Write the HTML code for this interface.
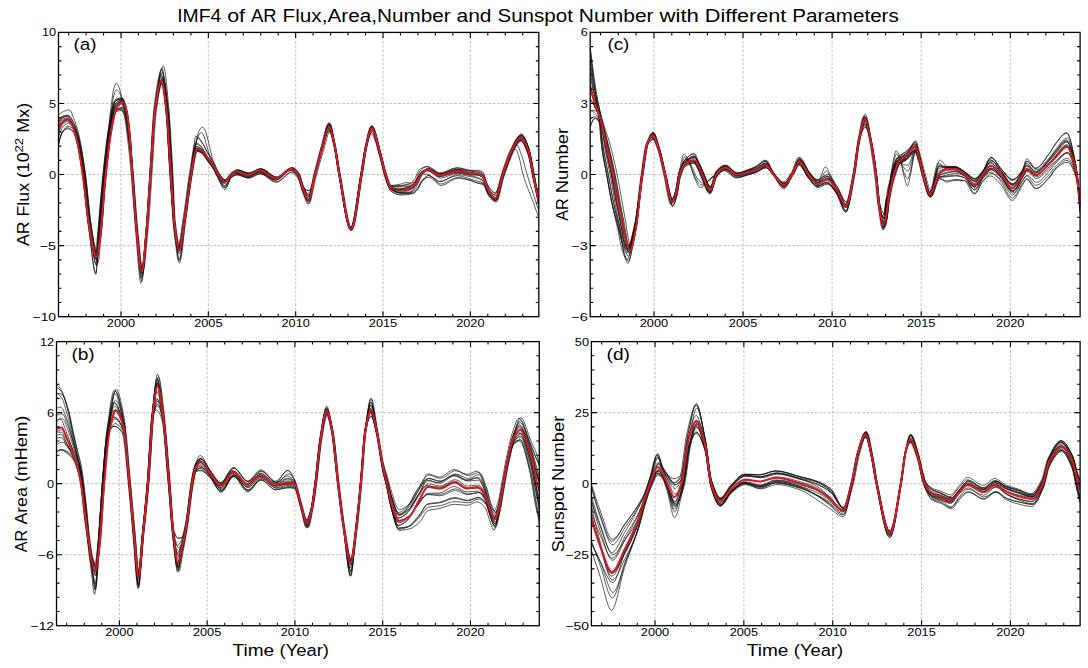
<!DOCTYPE html>
<html><head><meta charset="utf-8"><style>
html,body{margin:0;padding:0;background:#fff;overflow:hidden;width:1088px;height:668px;}
svg{display:block;}
text{font-family:"Liberation Sans",sans-serif;fill:#000;}
</style></head><body>
<svg width="1088" height="668" viewBox="0 0 1088 668">
<rect width="1088" height="668" fill="#fff"/>
<path d="M121.03 32.40V316.70M208.35 32.40V316.70M295.68 32.40V316.70M383.01 32.40V316.70M470.34 32.40V316.70M58.50 245.62H538.80M58.50 174.55H538.80M58.50 103.47H538.80" stroke="#b4b4b4" stroke-width="0.85" stroke-dasharray="2.6,1.7" fill="none"/>
<clipPath id="ca"><rect x="58.5" y="32.4" width="480.29999999999995" height="284.3"/></clipPath>
<g clip-path="url(#ca)" fill="none" stroke-linejoin="round">
<path d="M58.5 133.1C59.8 129.5 61.2 126.2 62.5 124.8C64.2 123.1 65.8 121.4 67.5 121.4C69.4 121.4 71.3 124.4 73.2 127.6C75.0 130.4 76.7 137.5 78.5 145.0C80.2 152.3 81.9 163.5 83.6 175.8C85.4 189.3 87.3 214.1 89.2 226.4C91.7 243.3 94.3 265.2 96.9 265.2C97.4 265.2 97.9 246.9 98.5 239.4C100.3 214.2 102.1 193.8 103.9 176.2C105.6 159.1 107.4 141.8 109.1 132.1C110.8 122.9 112.5 112.8 114.2 111.3C116.4 109.3 118.6 108.1 120.8 108.1C122.1 108.1 123.5 111.7 124.8 115.6C126.0 119.1 127.2 128.7 128.4 137.2C129.8 147.2 131.2 160.1 132.6 174.6C134.0 189.9 135.5 214.6 137.0 229.5C138.8 247.4 140.6 274.1 142.3 274.1C143.9 274.1 145.5 247.9 147.1 229.5C148.3 215.1 149.6 192.6 150.8 174.3C152.3 152.9 153.7 121.0 155.2 110.5C157.3 94.9 159.5 80.8 161.7 80.8C163.2 80.8 164.8 95.9 166.3 110.1C167.7 122.3 169.0 154.8 170.4 174.1C171.7 192.6 172.9 214.4 174.2 224.7C175.8 237.2 177.3 251.1 178.8 251.1C180.9 251.1 182.9 231.4 185.0 219.2C187.0 206.9 189.1 188.7 191.1 176.2C192.7 166.6 194.2 150.5 195.8 150.5C197.6 150.5 199.4 151.3 201.3 152.2C203.1 153.2 205.0 156.9 206.8 159.5C209.0 162.4 211.1 165.0 213.3 168.6C214.8 171.1 216.3 174.9 217.8 177.4C220.0 181.0 222.2 186.6 224.3 186.6C226.5 186.6 228.6 178.0 230.8 176.2C232.7 174.7 234.7 173.0 236.6 173.0C240.2 173.0 243.8 176.3 247.5 176.3C251.4 176.3 255.3 171.9 259.2 171.9C264.6 171.9 270.0 179.9 275.4 179.9C280.6 179.9 285.7 169.9 290.9 169.9C293.2 169.9 295.4 172.4 297.7 175.3C299.5 177.6 301.3 186.4 303.1 190.4C304.9 194.2 306.6 200.0 308.4 200.0C310.5 200.0 312.6 183.0 314.8 175.0C317.1 166.1 319.5 157.3 321.8 149.5C324.1 141.8 326.5 128.1 328.8 128.1C330.5 128.1 332.2 138.0 333.9 145.4C335.5 152.3 337.2 165.6 338.8 174.1C342.6 194.8 346.5 228.4 350.4 228.4C353.9 228.4 357.3 193.0 360.8 173.9C362.4 165.0 364.0 152.4 365.7 145.9C367.5 138.5 369.3 129.1 371.1 129.1C374.1 129.1 377.1 145.8 380.0 155.9C381.8 161.7 383.5 170.5 385.2 175.5C387.0 180.9 388.9 187.6 390.7 188.5C393.7 190.1 396.7 191.0 399.7 191.0C401.7 191.0 403.7 190.3 405.7 189.9C407.7 189.4 409.8 189.1 411.8 188.2C413.2 187.5 414.6 185.5 416.0 183.5C417.3 181.6 418.6 177.4 419.9 175.8C421.3 174.0 422.7 172.6 424.1 172.0C425.4 171.5 426.8 171.0 428.1 171.0C430.0 171.0 431.8 172.9 433.6 174.0C435.8 175.3 438.0 178.2 440.2 178.2C446.0 178.2 451.9 173.2 457.8 173.2C462.2 173.2 466.6 174.6 471.0 175.7C473.5 176.2 475.9 176.8 478.4 177.8C480.0 178.4 481.6 179.2 483.2 180.7C485.2 182.6 487.2 191.5 489.2 194.1C491.6 197.1 493.9 200.5 496.3 200.5C498.7 200.5 501.1 183.8 503.6 176.4C506.4 167.7 509.3 157.6 512.2 152.2C515.3 146.4 518.5 139.1 521.6 139.1C524.1 139.1 526.5 145.8 529.0 152.8C530.5 157.1 532.1 168.4 533.6 176.3C535.3 185.3 537.1 194.5 538.8 203.8" stroke="#141414" stroke-width="0.7"/>
<path d="M58.5 145.3C59.7 139.9 60.9 134.5 62.1 132.9C63.9 130.6 65.6 128.8 67.4 128.8C69.3 128.8 71.2 130.2 73.2 132.1C74.9 133.7 76.6 141.3 78.4 148.5C80.0 155.4 81.7 166.2 83.4 178.1C85.2 191.3 87.0 213.9 88.9 228.1C91.2 246.0 93.5 274.3 95.8 274.3C96.7 274.3 97.5 251.5 98.4 241.1C100.3 218.3 102.2 195.3 104.1 177.8C105.9 160.5 107.8 143.3 109.7 133.4C111.5 124.0 113.2 113.0 115.0 112.2C117.3 111.1 119.5 110.5 121.8 110.5C123.1 110.5 124.5 112.4 125.8 115.0C126.9 117.2 128.1 127.2 129.2 136.7C130.2 145.4 131.3 161.1 132.3 174.1C133.7 191.8 135.1 214.1 136.6 230.0C138.3 249.7 140.1 281.0 141.8 281.0C143.4 281.0 145.1 249.2 146.7 229.8C148.1 213.8 149.4 192.6 150.8 174.4C152.3 153.1 153.9 121.5 155.5 111.6C158.0 95.8 160.5 82.1 163.1 82.1C164.8 82.1 166.5 97.8 168.1 112.9C169.5 124.9 170.9 154.8 172.2 177.4C173.2 193.5 174.1 217.4 175.1 228.1C176.6 244.6 178.0 262.9 179.5 262.9C181.5 262.9 183.5 235.7 185.4 221.7C187.5 207.5 189.5 189.9 191.5 178.3C193.4 167.7 195.2 151.6 197.1 151.6C198.9 151.6 200.8 152.6 202.6 153.7C204.3 154.7 205.9 158.3 207.6 160.5C209.8 163.4 212.0 165.6 214.2 169.0C215.8 171.4 217.3 175.1 218.9 177.8C221.0 181.5 223.2 187.7 225.4 187.7C227.5 187.7 229.6 178.9 231.7 177.3C233.6 176.0 235.4 174.6 237.3 174.6C240.8 174.6 244.4 177.8 248.0 177.8C251.8 177.8 255.7 172.8 259.6 172.8C264.9 172.8 270.3 180.3 275.6 180.3C280.8 180.3 285.9 170.5 291.0 170.5C293.2 170.5 295.4 173.5 297.6 176.8C299.4 179.4 301.2 188.7 303.0 193.1C304.7 197.4 306.5 204.0 308.2 204.0C310.4 204.0 312.5 186.0 314.7 177.7C317.1 168.5 319.5 159.0 321.9 151.4C324.2 143.9 326.6 131.4 329.0 131.4C330.7 131.4 332.4 138.8 334.2 145.3C335.8 151.4 337.4 166.3 339.0 175.1C342.9 196.1 346.7 229.6 350.6 229.6C354.1 229.6 357.5 194.2 361.0 174.7C362.6 165.6 364.2 151.3 365.8 146.1C367.6 140.1 369.5 134.0 371.3 134.0C374.3 134.0 377.3 148.8 380.3 158.4C382.0 164.2 383.8 173.9 385.6 178.8C387.5 184.1 389.4 189.8 391.3 191.2C394.4 193.4 397.6 195.0 400.7 195.0C402.8 195.0 404.9 194.8 407.0 194.7C409.1 194.6 411.2 194.0 413.2 193.2C414.9 192.6 416.6 190.3 418.3 188.0C419.7 186.2 421.2 181.8 422.6 180.4C423.9 179.1 425.2 177.9 426.6 177.7C427.4 177.5 428.3 177.4 429.2 177.4C430.9 177.4 432.6 179.6 434.4 180.8C436.5 182.2 438.6 185.5 440.7 185.5C446.6 185.5 452.4 178.2 458.2 178.2C462.6 178.2 466.9 179.7 471.3 180.9C473.7 181.5 476.2 182.6 478.6 183.3C480.2 183.9 481.7 184.0 483.3 184.8C485.3 185.8 487.3 194.5 489.3 196.8C491.6 199.3 494.0 202.1 496.3 202.1C498.7 202.1 501.1 185.5 503.5 178.1C506.3 169.3 509.2 159.0 512.0 153.7C515.2 147.9 518.3 141.0 521.4 141.0C523.9 141.0 526.3 147.8 528.8 154.7C530.3 159.1 531.9 169.9 533.4 177.8C535.2 186.9 537.0 196.2 538.8 205.7" stroke="#141414" stroke-width="0.7"/>
<path d="M58.5 130.1C60.0 127.0 61.6 124.2 63.1 122.8C64.9 121.3 66.7 119.7 68.4 119.7C70.4 119.7 72.4 123.2 74.4 126.6C76.2 129.6 78.0 136.3 79.8 143.9C81.5 151.0 83.2 162.3 84.9 174.6C86.8 188.0 88.7 212.1 90.5 225.0C92.6 239.4 94.7 259.8 96.8 259.8C97.8 259.8 98.8 247.1 99.9 238.4C101.7 222.8 103.5 192.6 105.3 175.1C107.1 157.9 108.9 140.9 110.7 131.0C112.4 121.5 114.1 111.9 115.8 109.4C118.0 106.2 120.3 103.7 122.5 103.7C123.8 103.7 125.1 108.8 126.5 113.8C127.6 118.0 128.7 125.8 129.8 136.8C130.7 144.7 131.5 163.8 132.3 175.7C133.7 195.7 135.0 216.3 136.4 230.5C138.1 248.0 139.8 273.0 141.5 273.0C143.0 273.0 144.6 247.4 146.1 229.5C147.4 215.0 148.6 192.1 149.9 173.8C151.4 151.9 152.9 118.8 154.4 109.4C157.0 93.0 159.6 80.0 162.3 80.0C164.0 80.0 165.7 95.2 167.4 110.1C168.8 122.0 170.2 149.8 171.6 174.9C172.4 189.5 173.2 217.8 174.0 225.5C175.5 240.1 177.0 251.8 178.5 251.8C180.5 251.8 182.5 231.0 184.5 218.5C186.6 205.8 188.6 185.6 190.7 175.1C192.8 164.3 194.8 149.7 196.9 149.7C198.8 149.7 200.7 150.5 202.6 151.5C204.0 152.3 205.5 156.4 206.9 158.5C209.1 161.7 211.3 163.9 213.5 167.2C215.0 169.5 216.6 173.1 218.1 175.3C220.3 178.3 222.5 182.7 224.7 182.7C226.9 182.7 229.0 176.6 231.2 175.1C233.1 173.8 235.1 172.2 237.0 172.2C240.7 172.2 244.3 175.5 247.9 175.5C251.9 175.5 255.8 170.7 259.7 170.7C265.0 170.7 270.4 178.5 275.8 178.5C280.9 178.5 286.0 168.7 291.1 168.7C293.3 168.7 295.5 171.5 297.7 174.6C299.5 177.1 301.3 186.3 303.1 190.2C304.9 194.2 306.6 199.8 308.4 199.8C310.6 199.8 312.7 182.7 314.9 174.5C317.3 165.5 319.7 156.3 322.1 148.2C324.5 140.2 326.9 125.9 329.3 125.9C331.0 125.9 332.7 136.4 334.4 144.0C336.0 151.2 337.7 164.7 339.3 173.4C343.2 194.3 347.1 228.1 351.0 228.1C354.5 228.1 357.9 193.0 361.4 173.6C363.0 164.7 364.6 151.9 366.2 145.3C368.1 137.9 369.9 128.3 371.7 128.3C374.6 128.3 377.5 145.1 380.5 155.4C382.2 161.4 383.9 170.4 385.6 175.7C387.3 181.4 389.1 188.5 390.9 189.6C393.9 191.4 396.9 192.5 399.9 192.5C401.9 192.5 403.9 191.9 405.9 191.4C407.9 190.9 409.8 190.2 411.8 189.0C413.6 187.9 415.4 185.8 417.3 183.3C418.7 181.2 420.2 176.6 421.7 174.5C422.9 172.6 424.2 171.1 425.5 170.0C426.1 169.5 426.7 168.7 427.3 168.7C429.0 168.7 430.8 170.7 432.6 171.9C434.8 173.3 437.0 176.7 439.2 176.7C445.1 176.7 451.0 172.9 456.9 172.9C461.4 172.9 465.9 174.5 470.3 174.9C472.8 175.1 475.3 175.1 477.8 175.3C479.5 175.5 481.1 176.2 482.7 177.3C484.8 178.7 486.8 188.1 488.8 191.2C491.1 194.7 493.4 199.1 495.7 199.1C498.1 199.1 500.4 183.1 502.8 176.1C505.6 167.7 508.5 158.3 511.3 153.2C514.4 147.5 517.6 140.5 520.7 140.5C523.2 140.5 525.8 147.4 528.3 154.2C529.9 158.5 531.5 169.4 533.1 177.1C535.0 186.0 536.9 194.9 538.8 203.9" stroke="#141414" stroke-width="0.7"/>
<path d="M58.5 115.1C60.3 113.5 62.1 112.1 63.9 111.4C65.5 110.6 67.2 109.8 68.9 109.8C70.8 109.8 72.7 115.9 74.6 120.6C76.4 124.9 78.1 131.2 79.9 139.2C81.5 146.9 83.2 158.7 84.9 171.3C86.8 185.1 88.6 211.3 90.5 222.2C92.6 235.0 94.8 250.0 97.0 250.0C97.9 250.0 98.9 242.2 99.9 235.9C101.7 223.7 103.6 190.2 105.4 171.8C107.3 153.9 109.1 136.1 110.9 124.6C112.6 113.8 114.3 99.3 116.0 98.9C118.1 98.3 120.3 98.0 122.5 98.0C123.7 98.0 125.0 103.6 126.2 109.0C127.3 113.5 128.3 122.1 129.4 133.1C130.3 142.1 131.2 161.9 132.0 174.4C133.5 194.8 134.9 216.0 136.3 229.5C138.1 246.4 139.9 269.0 141.7 269.0C143.3 269.0 145.0 246.2 146.6 229.5C148.0 215.8 149.4 192.9 150.7 174.2C152.3 152.2 153.9 119.8 155.5 107.2C158.2 86.5 160.8 66.1 163.4 66.1C165.2 66.1 166.9 87.6 168.6 105.6C170.0 120.0 171.4 146.7 172.8 171.3C173.6 186.3 174.5 214.4 175.3 221.8C176.8 234.9 178.3 245.3 179.8 245.3C181.8 245.3 183.8 226.5 185.8 214.7C187.8 202.6 189.9 184.2 191.9 171.4C193.9 159.0 195.8 137.7 197.8 137.7C199.6 137.7 201.4 141.4 203.2 144.2C204.7 146.5 206.1 150.7 207.6 153.4C209.7 157.2 211.8 159.6 213.9 163.4C215.4 166.1 216.9 170.4 218.4 172.5C220.6 175.6 222.7 179.5 224.9 179.5C227.1 179.5 229.3 174.1 231.4 172.8C233.4 171.6 235.4 170.2 237.3 170.2C241.0 170.2 244.7 174.0 248.4 174.0C252.3 174.0 256.3 169.8 260.2 169.8C265.6 169.8 271.0 177.9 276.4 177.9C281.6 177.9 286.7 168.1 291.9 168.1C294.1 168.1 296.3 170.8 298.5 173.7C300.3 176.1 302.0 186.7 303.8 188.2C305.6 189.7 307.3 190.8 309.0 190.8C311.2 190.8 313.3 179.6 315.4 172.8C317.8 165.3 320.1 154.9 322.5 146.8C324.8 138.7 327.1 124.0 329.4 124.0C331.1 124.0 332.8 136.6 334.5 144.9C336.1 152.7 337.6 165.4 339.2 174.0C343.1 194.8 347.0 228.2 350.9 228.2C354.4 228.2 357.9 192.7 361.4 173.5C363.1 164.4 364.7 152.2 366.4 145.2C368.2 137.2 370.1 126.2 372.0 126.2C374.9 126.2 377.9 143.4 380.9 153.6C382.6 159.5 384.4 168.1 386.1 173.0C387.9 178.2 389.7 185.5 391.5 185.5C394.4 185.5 397.3 184.7 400.3 184.1C402.2 183.7 404.1 182.6 406.0 182.6C407.9 182.6 409.8 183.1 411.7 183.1C413.4 183.1 415.1 181.2 416.7 179.5C418.2 178.0 419.6 173.4 421.0 172.1C422.3 171.0 423.7 170.5 425.0 169.8C425.7 169.5 426.4 168.9 427.2 168.9C429.0 168.9 430.8 170.4 432.6 171.2C434.9 172.2 437.1 174.1 439.3 174.1C445.2 174.1 451.0 168.2 456.9 168.2C461.3 168.2 465.8 170.3 470.2 170.3C472.6 170.3 475.0 170.3 477.4 170.3C479.0 170.4 480.6 170.8 482.2 171.5C484.2 172.4 486.2 183.2 488.2 185.9C490.6 189.1 492.9 192.5 495.3 192.5C497.8 192.5 500.3 178.4 502.8 171.7C505.7 163.7 508.7 154.2 511.6 148.6C514.8 142.6 518.0 134.7 521.3 134.7C523.8 134.7 526.3 141.7 528.8 148.9C530.4 153.3 531.9 164.6 533.4 172.5C535.2 181.6 537.0 190.8 538.8 199.9" stroke="#141414" stroke-width="0.7"/>
<path d="M58.5 137.3C59.9 132.9 61.4 128.9 62.8 127.2C64.7 125.1 66.6 123.0 68.5 123.0C70.5 123.0 72.6 125.5 74.7 128.2C76.6 130.7 78.5 137.8 80.3 145.4C82.1 152.5 83.9 163.8 85.7 176.2C87.6 189.5 89.5 213.7 91.4 226.8C93.6 241.7 95.7 263.2 97.9 263.2C98.9 263.2 99.8 248.8 100.8 239.7C102.6 222.6 104.4 193.6 106.3 175.9C108.1 158.6 109.9 141.1 111.7 131.3C113.4 122.0 115.1 111.2 116.8 110.4C119.0 109.4 121.2 108.8 123.4 108.8C124.6 108.8 125.9 112.2 127.2 116.1C128.3 119.3 129.4 128.1 130.5 138.5C131.3 146.5 132.2 164.2 133.0 176.1C134.3 195.4 135.7 216.2 137.0 231.0C138.7 249.3 140.4 276.6 142.1 276.6C143.7 276.6 145.2 248.5 146.8 230.0C148.0 214.8 149.3 192.6 150.6 174.5C152.1 152.7 153.6 120.1 155.1 110.4C157.7 93.8 160.3 80.3 162.9 80.3C164.7 80.3 166.4 95.0 168.1 109.5C169.5 121.2 170.9 149.4 172.3 173.9C173.1 188.8 174.0 216.0 174.8 224.7C176.3 239.9 177.7 253.6 179.2 253.6C181.2 253.6 183.1 231.4 185.1 218.6C187.0 205.6 189.0 186.3 191.0 175.5C193.0 164.8 194.9 149.9 196.9 149.9C198.7 149.9 200.5 150.8 202.4 151.9C203.8 152.9 205.3 156.7 206.8 158.8C209.0 161.9 211.2 163.9 213.3 167.4C214.9 169.8 216.4 173.7 217.9 176.5C220.1 180.5 222.3 187.7 224.4 187.7C226.6 187.7 228.8 179.3 231.0 177.8C232.9 176.4 234.9 175.0 236.9 175.0C240.5 175.0 244.2 177.8 247.8 177.8C251.7 177.8 255.6 172.3 259.6 172.3C264.9 172.3 270.3 179.6 275.7 179.6C280.8 179.6 285.9 169.4 291.0 169.4C293.2 169.4 295.4 172.1 297.5 175.1C299.3 177.5 301.0 186.7 302.8 190.8C304.5 195.0 306.3 201.1 308.0 201.1C310.2 201.1 312.3 184.0 314.5 176.0C316.9 167.0 319.3 157.7 321.7 150.2C324.2 142.5 326.6 129.7 329.1 129.7C330.9 129.7 332.7 138.2 334.5 145.0C336.2 151.5 337.9 165.4 339.6 174.2C343.6 194.6 347.6 228.4 351.5 228.4C355.0 228.4 358.6 192.9 362.1 173.8C363.7 164.8 365.4 152.2 367.0 145.8C368.9 138.6 370.7 129.5 372.5 129.5C375.5 129.5 378.4 146.1 381.4 156.3C383.1 162.1 384.8 170.9 386.5 176.1C388.2 181.5 390.0 188.1 391.7 189.4C394.7 191.5 397.6 192.7 400.5 192.8C402.4 192.8 404.4 192.9 406.3 192.9C408.2 192.9 410.2 192.7 412.2 192.4C413.9 192.2 415.7 189.9 417.5 187.8C419.0 186.1 420.5 181.8 422.0 180.2C423.4 178.7 424.8 177.7 426.2 176.8C426.9 176.3 427.6 175.5 428.3 175.5C430.1 175.5 431.9 177.2 433.7 178.1C435.8 179.2 437.9 181.6 440.0 181.6C445.8 181.6 451.6 174.7 457.4 174.7C461.7 174.7 466.0 175.8 470.4 176.6C472.8 177.0 475.1 177.5 477.5 178.3C479.1 178.8 480.7 179.3 482.3 180.5C484.3 182.1 486.3 191.1 488.3 193.8C490.6 197.0 493.0 200.7 495.3 200.7C497.7 200.7 500.1 184.4 502.5 177.1C505.3 168.5 508.2 158.4 511.0 153.0C514.2 147.2 517.3 140.0 520.4 140.0C522.9 140.0 525.4 146.4 527.9 153.0C529.4 157.1 531.0 168.2 532.6 175.4C534.7 184.8 536.7 193.9 538.8 202.6" stroke="#141414" stroke-width="0.7"/>
<path d="M58.5 120.0C60.0 118.6 61.6 117.3 63.1 116.8C64.9 116.3 66.6 115.8 68.4 115.8C70.3 115.8 72.3 120.4 74.2 124.5C75.9 128.1 77.7 134.6 79.4 142.4C81.0 149.7 82.7 161.2 84.3 173.5C86.1 187.1 87.9 213.0 89.7 223.7C91.9 237.0 94.2 252.5 96.4 252.5C97.3 252.5 98.1 242.5 99.0 235.7C100.8 220.4 102.7 189.8 104.6 171.8C106.4 154.0 108.3 136.7 110.1 125.6C111.9 115.0 113.7 101.8 115.5 100.7C117.7 99.4 119.9 98.7 122.2 98.7C123.5 98.7 124.8 103.8 126.2 108.9C127.2 113.0 128.3 122.0 129.4 132.6C130.4 141.9 131.4 160.4 132.3 174.0C133.7 193.0 135.0 216.2 136.4 230.0C138.1 247.3 139.8 270.5 141.5 270.5C143.1 270.5 144.7 247.4 146.3 230.6C147.7 216.7 149.0 193.6 150.3 174.9C151.9 153.0 153.4 120.1 155.0 108.4C157.4 89.7 159.9 72.3 162.4 72.3C164.0 72.3 165.7 91.0 167.3 107.9C168.6 121.3 169.9 150.2 171.2 173.5C172.1 189.4 173.0 216.2 173.9 224.4C175.3 237.6 176.7 249.0 178.2 249.0C180.1 249.0 182.1 229.7 184.0 217.7C186.1 205.4 188.1 186.6 190.1 174.4C192.1 162.8 194.0 144.2 195.9 144.2C197.8 144.2 199.7 145.8 201.6 147.3C203.3 148.7 205.0 152.8 206.7 155.4C208.9 158.8 211.1 161.4 213.3 165.0C214.9 167.6 216.5 171.5 218.1 173.6C220.3 176.5 222.6 180.3 224.8 180.3C227.1 180.3 229.3 174.6 231.6 173.1C233.6 171.7 235.6 170.1 237.6 170.1C241.3 170.1 245.0 173.4 248.8 173.4C252.7 173.4 256.7 168.8 260.6 168.8C266.1 168.8 271.5 177.0 276.9 177.0C282.0 177.0 287.2 167.5 292.3 167.5C294.5 167.5 296.7 170.3 298.9 173.2C300.6 175.6 302.4 185.0 304.2 188.1C305.9 191.2 307.6 194.8 309.4 194.8C311.5 194.8 313.7 180.0 315.8 172.3C318.2 163.8 320.5 154.3 322.9 146.3C325.3 138.4 327.6 124.2 330.0 124.2C331.7 124.2 333.4 135.8 335.1 143.9C336.6 151.6 338.2 165.2 339.8 174.0C343.7 195.4 347.5 229.1 351.4 229.1C354.8 229.1 358.3 194.2 361.7 174.7C363.3 165.7 364.9 153.5 366.4 146.1C368.2 137.6 370.0 125.5 371.8 125.5C374.7 125.5 377.7 142.7 380.6 152.9C382.3 158.9 384.0 167.5 385.7 172.6C387.5 177.9 389.3 185.6 391.1 185.6C394.0 185.6 397.0 185.5 400.0 185.5C402.0 185.4 404.0 185.3 406.0 185.2C408.0 185.2 410.0 185.1 412.0 184.9C413.6 184.8 415.3 182.7 416.9 180.8C418.3 179.1 419.7 174.7 421.1 173.1C422.5 171.6 423.9 170.6 425.2 169.7C426.2 169.1 427.1 168.2 428.0 168.2C429.9 168.2 431.7 169.6 433.5 170.4C435.7 171.4 437.9 174.1 440.2 174.1C446.0 174.1 451.9 169.6 457.7 169.6C462.1 169.6 466.5 171.8 470.9 172.5C473.3 172.8 475.7 172.9 478.0 173.3C479.6 173.6 481.2 174.1 482.8 175.1C484.8 176.4 486.8 186.3 488.8 189.1C491.2 192.3 493.6 195.8 495.9 195.8C498.4 195.8 500.9 180.1 503.4 173.0C506.3 164.6 509.2 154.9 512.1 149.3C515.3 143.3 518.5 135.3 521.7 135.3C524.2 135.3 526.7 142.5 529.2 149.6C530.7 154.0 532.3 164.8 533.9 172.9C535.5 181.4 537.2 190.3 538.8 199.6" stroke="#141414" stroke-width="0.7"/>
<path d="M58.5 143.7C59.8 138.5 61.1 133.7 62.5 132.0C64.2 129.8 65.9 127.8 67.5 127.8C69.5 127.8 71.4 129.2 73.3 131.1C75.0 132.8 76.7 140.6 78.4 147.8C80.1 154.8 81.7 165.6 83.4 177.7C85.2 190.8 87.0 214.7 88.8 228.1C91.3 246.5 93.7 273.1 96.2 273.1C96.7 273.1 97.3 250.4 97.8 242.3C99.6 214.8 101.4 196.9 103.1 179.3C104.9 161.9 106.7 144.6 108.4 134.5C110.1 124.9 111.8 114.3 113.5 112.6C115.7 110.3 117.9 108.9 120.1 108.9C121.4 108.9 122.8 111.9 124.1 115.4C125.2 118.5 126.4 129.1 127.5 138.1C128.8 148.4 130.1 162.0 131.4 176.5C132.8 192.5 134.3 216.3 135.7 232.3C137.5 251.8 139.2 283.2 141.0 283.2C142.6 283.2 144.2 252.3 145.9 232.8C147.2 217.0 148.5 195.4 149.8 177.1C151.3 155.7 152.9 124.2 154.4 113.7C156.7 98.0 159.0 83.7 161.3 83.7C162.9 83.7 164.5 99.4 166.1 114.0C167.5 126.4 168.9 158.2 170.3 178.0C171.5 195.8 172.8 216.1 174.0 227.9C175.6 242.4 177.1 261.1 178.7 261.1C180.7 261.1 182.8 234.2 184.8 220.2C186.9 206.0 189.0 189.0 191.1 176.6C192.7 166.7 194.4 150.3 196.0 150.3C197.9 150.3 199.7 151.8 201.6 153.1C203.5 154.5 205.3 158.0 207.2 160.6C209.4 163.5 211.5 166.0 213.7 169.5C215.2 172.0 216.7 175.7 218.2 178.5C220.4 182.5 222.6 189.6 224.8 189.6C227.0 189.6 229.3 178.5 231.5 177.0C233.5 175.5 235.5 174.3 237.5 174.3C241.2 174.3 245.0 178.2 248.7 178.2C252.7 178.2 256.7 173.9 260.7 173.9C266.1 173.9 271.5 182.0 277.0 182.0C282.1 182.0 287.2 171.9 292.4 171.9C294.5 171.9 296.7 174.3 298.9 177.0C300.6 179.2 302.3 187.9 304.0 192.0C305.7 195.9 307.3 201.8 309.0 201.8C311.0 201.8 313.1 184.1 315.1 176.0C317.4 166.9 319.7 157.6 322.1 150.1C324.4 142.6 326.7 130.0 329.0 130.0C330.7 130.0 332.4 138.4 334.2 145.2C335.8 151.8 337.4 166.5 339.0 175.4C343.0 196.6 346.9 230.6 350.8 230.6C354.3 230.6 357.7 195.7 361.2 176.3C362.8 167.3 364.5 153.9 366.1 147.7C367.9 140.8 369.7 132.4 371.5 132.4C374.4 132.4 377.4 147.7 380.3 157.7C382.0 163.4 383.7 172.7 385.3 177.8C387.1 183.2 388.9 189.6 390.7 190.9C393.6 193.0 396.6 194.3 399.6 194.3C401.5 194.3 403.5 194.0 405.5 193.7C407.4 193.4 409.4 192.8 411.4 191.7C412.8 190.9 414.2 188.0 415.6 185.5C417.0 183.2 418.3 178.5 419.6 177.1C421.1 175.6 422.5 174.1 423.9 174.1C425.2 174.1 426.6 174.1 427.9 174.2C429.8 174.3 431.7 177.1 433.5 178.6C435.8 180.3 438.0 184.0 440.3 184.0C446.2 184.0 452.0 177.6 457.9 177.6C462.3 177.6 466.7 179.2 471.1 180.4C473.5 181.1 475.9 183.0 478.3 183.1C479.9 183.3 481.4 183.2 483.0 183.4C484.9 183.5 486.9 192.1 488.9 194.4C491.1 197.0 493.4 200.0 495.7 200.0C498.0 200.0 500.4 183.8 502.7 176.7C505.5 168.1 508.4 158.2 511.2 153.1C514.3 147.5 517.4 140.8 520.5 140.8C523.0 140.8 525.5 147.4 527.9 154.0C529.5 158.2 531.1 169.2 532.7 176.5C534.7 185.9 536.8 195.1 538.8 203.9" stroke="#141414" stroke-width="0.7"/>
<path d="M58.5 130.2C59.7 126.7 61.0 123.4 62.2 122.2C63.9 120.6 65.6 119.2 67.3 119.2C69.2 119.2 71.1 122.8 73.0 126.3C74.8 129.5 76.5 136.6 78.3 144.4C80.0 151.8 81.6 163.2 83.3 175.5C85.2 189.0 87.1 214.2 88.9 225.7C91.5 241.1 94.0 260.0 96.5 260.0C97.3 260.0 98.0 245.2 98.7 237.6C100.7 217.1 102.6 191.5 104.5 173.9C106.4 156.5 108.3 139.5 110.3 129.3C112.1 119.6 113.8 109.8 115.6 107.1C117.9 103.7 120.2 101.0 122.4 101.0C123.7 101.0 125.0 105.9 126.3 110.8C127.4 114.9 128.5 124.4 129.5 134.0C130.7 144.0 131.8 159.2 132.9 173.8C134.2 190.6 135.5 215.8 136.8 230.0C138.5 248.0 140.1 272.8 141.8 272.8C143.3 272.8 144.9 248.2 146.4 230.7C147.7 216.4 149.0 193.2 150.2 174.8C151.7 153.0 153.3 120.4 154.8 110.1C157.1 94.3 159.4 80.4 161.7 80.4C163.4 80.4 165.0 95.5 166.7 110.0C168.0 122.0 169.4 153.8 170.7 174.3C171.9 191.8 173.1 215.1 174.2 224.7C175.7 236.9 177.2 249.7 178.7 249.7C180.7 249.7 182.6 230.4 184.6 218.4C186.6 206.1 188.7 186.9 190.7 174.9C192.4 165.0 194.1 149.2 195.7 149.2C197.6 149.2 199.5 149.9 201.4 150.8C203.3 151.6 205.1 155.4 207.0 157.9C209.2 160.8 211.5 163.4 213.7 167.0C215.2 169.5 216.8 173.4 218.4 176.0C220.6 179.7 222.8 185.5 225.0 185.5C227.1 185.5 229.3 177.8 231.5 176.2C233.4 174.8 235.4 173.3 237.3 173.3C241.0 173.3 244.7 176.6 248.3 176.6C252.3 176.6 256.2 171.8 260.1 171.8C265.5 171.8 270.9 179.6 276.3 179.6C281.4 179.6 286.6 169.7 291.7 169.7C293.9 169.7 296.1 172.3 298.2 175.3C300.0 177.6 301.8 186.7 303.5 190.8C305.2 194.8 306.9 200.8 308.6 200.8C310.7 200.8 312.8 183.9 315.0 175.8C317.3 166.8 319.6 157.5 321.9 149.4C324.3 141.3 326.6 127.1 328.9 127.1C330.7 127.1 332.4 136.8 334.1 144.1C335.7 151.1 337.4 164.6 339.0 173.3C342.9 194.1 346.8 227.7 350.7 227.7C354.2 227.7 357.7 192.2 361.2 172.9C362.8 163.9 364.4 151.2 366.1 144.5C367.9 137.0 369.7 127.2 371.5 127.2C374.5 127.2 377.5 144.4 380.4 154.7C382.2 160.8 383.9 169.8 385.6 175.1C387.5 180.8 389.3 187.6 391.1 188.9C394.2 191.1 397.2 192.5 400.3 192.5C402.3 192.5 404.4 192.5 406.4 192.4C408.4 192.3 410.5 191.9 412.5 191.2C414.0 190.7 415.4 188.2 416.9 185.8C418.2 183.7 419.5 179.0 420.8 176.8C422.2 174.6 423.5 172.8 424.8 171.6C426.0 170.5 427.1 169.1 428.3 169.1C430.0 169.1 431.7 170.2 433.5 171.0C435.6 172.0 437.6 174.9 439.7 174.9C445.5 174.9 451.3 170.9 457.0 170.9C461.3 170.9 465.6 172.7 470.0 173.4C472.3 173.8 474.7 174.0 477.1 174.5C478.7 174.9 480.3 175.6 481.9 176.8C484.0 178.3 486.0 187.5 488.1 190.4C490.5 193.9 493.0 197.9 495.4 197.9C497.9 197.9 500.4 181.6 502.9 174.3C505.9 165.8 508.9 156.0 511.8 150.5C515.0 144.6 518.3 137.2 521.5 137.2C524.0 137.2 526.5 143.8 529.0 150.7C530.6 155.1 532.2 166.2 533.7 174.5C535.4 183.4 537.1 192.7 538.8 202.4" stroke="#141414" stroke-width="0.7"/>
<path d="M58.5 122.0C59.6 120.3 60.7 118.6 61.8 117.9C63.5 116.9 65.3 116.0 67.0 116.0C69.0 116.0 70.9 120.6 72.8 124.7C74.5 128.4 76.2 135.0 77.9 142.9C79.6 150.3 81.2 162.1 82.8 174.5C84.5 188.1 86.3 214.9 88.1 224.6C90.6 238.4 93.2 252.7 95.7 252.7C96.3 252.7 96.8 242.1 97.4 236.4C99.3 216.6 101.2 190.4 103.1 172.6C105.0 154.8 106.9 137.6 108.9 126.5C110.7 115.8 112.5 102.6 114.4 101.3C116.7 99.8 119.0 98.9 121.3 98.9C122.7 98.9 124.1 103.9 125.5 109.0C126.7 113.2 127.9 123.2 129.1 132.7C130.4 143.6 131.7 158.6 133.1 174.1C134.5 190.4 135.9 216.1 137.3 230.1C139.0 247.0 140.7 270.1 142.4 270.1C144.0 270.1 145.5 247.2 147.1 230.3C148.4 216.6 149.6 193.3 150.9 174.6C152.4 152.5 153.9 120.9 155.4 107.8C157.6 88.2 159.8 67.8 162.0 67.8C163.6 67.8 165.2 89.9 166.9 107.5C168.2 122.5 169.6 153.3 171.0 172.8C172.3 191.2 173.5 213.3 174.8 223.0C176.3 234.2 177.8 246.4 179.3 246.4C181.3 246.4 183.3 227.7 185.3 215.7C187.3 203.7 189.3 187.3 191.3 172.2C192.8 160.6 194.3 136.1 195.8 136.1C197.7 136.1 199.5 139.5 201.3 141.8C203.2 144.3 205.2 148.1 207.1 151.3C209.4 155.0 211.6 158.2 213.9 162.4C215.5 165.4 217.2 170.2 218.8 172.6C221.1 176.0 223.4 180.2 225.7 180.2C228.0 180.2 230.2 175.8 232.5 174.3C234.5 173.1 236.5 171.3 238.5 171.3C242.1 171.3 245.8 174.2 249.4 174.2C253.4 174.2 257.3 169.3 261.2 169.3C266.5 169.3 271.9 177.4 277.3 177.4C282.4 177.4 287.5 167.7 292.6 167.7C294.7 167.7 296.9 170.5 299.0 173.4C300.8 175.8 302.5 186.4 304.2 187.9C305.9 189.5 307.6 190.7 309.3 190.7C311.4 190.7 313.5 179.4 315.6 172.5C317.9 164.9 320.3 154.4 322.6 146.1C324.9 137.9 327.3 122.7 329.6 122.7C331.3 122.7 333.0 135.7 334.7 144.2C336.3 152.2 338.0 164.8 339.6 173.6C343.5 194.5 347.3 228.3 351.2 228.3C354.7 228.3 358.1 193.3 361.6 174.0C363.1 165.2 364.7 153.3 366.3 146.1C368.1 138.0 369.8 126.4 371.6 126.4C374.5 126.4 377.4 144.2 380.3 154.7C381.9 160.6 383.6 169.3 385.2 174.3C386.9 179.5 388.6 186.8 390.4 186.8C393.3 186.8 396.2 186.7 399.1 186.4C401.0 186.3 402.9 185.2 404.8 184.7C406.8 184.2 408.7 184.2 410.7 183.4C412.1 182.9 413.4 180.6 414.8 178.6C416.1 176.6 417.5 171.8 418.8 170.4C420.2 169.0 421.7 168.0 423.1 167.5C424.5 167.0 426.0 166.4 427.4 166.4C429.2 166.4 431.1 168.1 433.0 169.1C435.2 170.2 437.4 172.9 439.6 172.9C445.5 172.9 451.3 167.6 457.2 167.6C461.6 167.6 466.0 169.9 470.4 170.5C472.9 170.9 475.3 170.9 477.7 171.4C479.3 171.6 481.0 172.1 482.6 173.0C484.6 174.2 486.6 184.7 488.7 187.3C491.0 190.3 493.4 193.4 495.8 193.4C498.2 193.4 500.7 178.8 503.2 172.0C506.1 163.8 509.0 154.2 512.0 148.5C515.1 142.3 518.3 134.0 521.4 134.0C523.9 134.0 526.4 141.2 528.9 148.5C530.4 152.9 531.9 164.1 533.4 171.8C535.2 180.9 537.0 190.0 538.8 198.9" stroke="#141414" stroke-width="0.7"/>
<path d="M58.5 125.9C59.5 123.7 60.4 121.4 61.4 120.6C63.2 119.1 65.0 117.8 66.7 117.8C68.7 117.8 70.7 121.4 72.7 124.8C74.5 127.9 76.3 134.2 78.1 141.6C79.9 148.7 81.6 160.2 83.3 172.5C85.2 185.9 87.0 212.7 88.9 222.8C91.5 237.2 94.1 252.5 96.8 252.5C97.3 252.5 97.7 241.9 98.2 236.5C100.0 215.9 101.9 191.4 103.7 173.8C105.5 156.5 107.3 139.6 109.1 128.9C110.8 118.7 112.5 106.9 114.2 104.9C116.4 102.3 118.6 100.6 120.8 100.6C122.1 100.6 123.4 105.3 124.7 110.0C125.9 114.1 127.0 123.9 128.2 132.9C129.6 143.8 131.0 157.8 132.4 173.3C133.8 189.0 135.3 214.7 136.7 228.7C138.4 245.7 140.2 269.2 141.9 269.2C143.5 269.2 145.1 246.6 146.6 229.7C147.9 216.2 149.2 193.1 150.5 174.8C152.0 153.1 153.5 121.1 155.0 109.4C157.1 92.7 159.3 76.5 161.5 76.5C163.0 76.5 164.6 93.3 166.2 108.6C167.5 121.4 168.9 154.1 170.2 173.5C171.5 192.2 172.8 214.2 174.0 224.4C175.5 236.1 177.0 249.1 178.4 249.1C180.4 249.1 182.4 229.9 184.4 218.0C186.4 205.7 188.4 187.5 190.5 174.3C192.0 164.3 193.6 146.5 195.1 146.5C197.0 146.5 198.9 147.5 200.8 148.6C202.8 149.8 204.8 153.6 206.9 156.2C209.1 159.2 211.4 162.0 213.6 165.5C215.2 168.0 216.8 171.8 218.4 173.9C220.6 176.8 222.9 180.6 225.1 180.6C227.4 180.6 229.6 174.7 231.8 173.1C233.8 171.6 235.8 169.9 237.8 169.9C241.6 169.9 245.3 173.2 249.0 173.2C252.9 173.2 256.9 168.8 260.9 168.8C266.3 168.8 271.7 177.4 277.1 177.4C282.2 177.4 287.3 168.3 292.4 168.3C294.5 168.3 296.6 171.0 298.7 174.0C300.4 176.3 302.0 185.8 303.7 188.5C305.3 191.1 306.9 194.0 308.5 194.0C310.6 194.0 312.6 179.4 314.7 171.9C317.0 163.3 319.3 153.6 321.6 145.6C324.0 137.4 326.3 123.0 328.7 123.0C330.4 123.0 332.1 135.7 333.9 144.1C335.5 152.1 337.1 165.0 338.8 173.9C342.7 194.7 346.6 228.5 350.5 228.5C353.9 228.5 357.3 193.4 360.8 173.8C362.4 164.9 363.9 152.4 365.5 145.4C367.3 137.4 369.1 126.6 370.8 126.6C373.8 126.6 376.7 144.0 379.7 154.1C381.4 160.1 383.1 168.7 384.9 173.8C386.7 179.3 388.5 186.5 390.4 187.2C393.4 188.4 396.4 189.0 399.5 189.0C401.5 189.0 403.5 188.5 405.5 188.0C407.5 187.6 409.5 187.1 411.5 185.9C412.8 185.1 414.2 182.9 415.5 180.7C416.7 178.7 418.0 174.2 419.2 172.4C420.6 170.5 421.9 168.9 423.2 168.2C424.6 167.5 426.0 166.7 427.4 166.7C429.2 166.7 430.9 168.4 432.7 169.4C434.8 170.6 436.9 173.6 439.1 173.6C444.9 173.6 450.8 169.7 456.6 169.7C461.0 169.7 465.4 172.0 469.8 173.0C472.3 173.5 474.7 173.8 477.2 174.5C478.8 175.0 480.4 175.6 482.1 176.9C484.1 178.5 486.2 187.7 488.2 190.6C490.6 193.9 493.0 197.7 495.4 197.7C497.8 197.7 500.3 181.5 502.8 174.4C505.7 165.9 508.6 156.4 511.6 151.1C514.8 145.2 518.0 137.7 521.2 137.7C523.7 137.7 526.3 144.5 528.8 151.4C530.4 155.7 532.0 166.6 533.6 174.7C535.4 183.3 537.1 192.3 538.8 201.6" stroke="#141414" stroke-width="0.7"/>
<path d="M58.5 129.5C59.6 126.3 60.8 123.2 61.9 122.1C63.6 120.5 65.4 119.1 67.1 119.1C69.0 119.1 70.9 122.8 72.9 126.3C74.6 129.5 76.4 136.4 78.2 144.0C79.9 151.4 81.6 162.9 83.3 175.2C85.2 188.8 87.1 214.3 89.0 225.8C91.5 240.7 94.0 258.9 96.5 258.9C97.3 258.9 98.2 246.4 99.0 238.8C101.0 221.2 102.9 193.0 104.9 175.3C106.8 158.0 108.7 140.9 110.6 130.6C112.4 120.9 114.1 111.2 115.9 108.3C118.1 104.6 120.3 101.6 122.5 101.6C123.8 101.6 125.1 106.4 126.4 111.2C127.4 115.2 128.5 124.5 129.5 134.1C130.6 143.9 131.6 160.2 132.7 174.1C134.1 191.9 135.4 216.0 136.8 230.1C138.5 247.9 140.2 272.3 141.9 272.3C143.5 272.3 145.1 247.9 146.7 230.3C148.0 216.2 149.3 193.1 150.6 174.6C152.1 152.8 153.6 120.0 155.1 109.5C157.5 93.1 159.8 78.6 162.2 78.6C163.8 78.6 165.4 94.1 167.0 109.0C168.3 121.2 169.7 152.4 171.0 173.8C172.0 190.8 173.1 215.6 174.1 224.4C175.6 236.9 177.1 248.9 178.6 248.9C180.5 248.9 182.5 229.5 184.5 217.5C186.6 205.2 188.6 186.1 190.6 174.4C192.4 164.3 194.1 148.6 195.9 148.6C197.7 148.6 199.6 149.7 201.4 150.8C203.2 151.9 204.9 155.7 206.7 158.1C208.9 161.1 211.1 163.7 213.3 167.0C215.0 169.5 216.6 173.2 218.2 175.2C220.5 178.2 222.7 182.2 225.0 182.2C227.3 182.2 229.5 176.1 231.8 174.4C233.8 173.0 235.8 171.2 237.8 171.2C241.5 171.2 245.1 174.4 248.8 174.4C252.7 174.4 256.6 169.6 260.5 169.6C265.9 169.6 271.2 177.7 276.6 177.7C281.7 177.7 286.7 168.2 291.8 168.2C293.9 168.2 296.1 171.0 298.2 174.1C299.9 176.6 301.6 185.6 303.3 189.5C305.0 193.4 306.7 199.0 308.5 199.0C310.6 199.0 312.8 182.0 315.0 174.1C317.4 165.2 319.9 156.3 322.4 148.6C324.8 140.8 327.3 127.2 329.8 127.2C331.6 127.2 333.5 137.9 335.3 145.8C337.0 153.0 338.7 166.3 340.4 175.1C344.3 195.3 348.3 229.0 352.2 229.0C355.6 229.0 359.1 193.7 362.5 173.7C364.0 164.8 365.6 152.0 367.1 145.0C368.9 137.2 370.6 126.8 372.3 126.8C375.2 126.8 378.0 143.8 380.9 154.1C382.5 159.9 384.1 168.5 385.7 173.5C387.4 178.9 389.1 185.8 390.8 186.7C393.8 188.2 396.7 189.0 399.6 189.0C401.6 189.0 403.6 188.6 405.6 188.3C407.6 188.0 409.6 187.6 411.6 186.8C413.1 186.2 414.7 184.5 416.3 182.6C417.7 180.9 419.1 176.8 420.4 175.0C421.8 173.3 423.2 172.0 424.6 171.1C425.7 170.5 426.8 169.6 427.9 169.6C429.8 169.6 431.6 171.0 433.5 171.9C435.7 173.0 437.9 175.9 440.1 175.9C445.9 175.9 451.8 171.9 457.6 171.9C462.0 171.9 466.4 173.4 470.7 174.0C473.1 174.4 475.5 174.4 477.9 174.9C479.5 175.2 481.1 176.0 482.6 177.2C484.7 178.8 486.7 188.2 488.7 191.1C491.1 194.5 493.5 198.4 495.9 198.4C498.4 198.4 500.8 181.6 503.3 174.2C506.2 165.4 509.2 155.5 512.1 149.8C515.3 143.6 518.4 135.7 521.6 135.7C524.0 135.7 526.5 142.2 528.9 149.1C530.4 153.4 531.9 165.2 533.4 173.0C535.2 182.4 537.0 191.7 538.8 200.7" stroke="#141414" stroke-width="0.7"/>
<path d="M58.5 127.2C59.8 124.9 61.1 122.8 62.4 121.9C64.1 120.6 65.9 119.4 67.6 119.4C69.6 119.4 71.5 123.2 73.5 126.8C75.2 130.0 77.0 136.5 78.7 144.0C80.4 151.3 82.1 162.7 83.8 175.1C85.7 188.5 87.5 214.3 89.3 225.5C91.7 240.1 94.1 257.6 96.5 257.6C97.3 257.6 98.0 245.1 98.8 237.7C100.6 219.5 102.5 191.3 104.3 173.5C106.2 155.9 108.0 138.7 109.8 128.4C111.6 118.5 113.3 108.0 115.1 105.7C117.4 102.8 119.6 100.7 121.9 100.7C123.3 100.7 124.7 106.2 126.1 111.3C127.3 115.7 128.5 124.8 129.7 134.6C130.9 144.3 132.1 160.2 133.3 174.2C134.8 191.4 136.3 215.2 137.8 229.4C139.5 246.5 141.3 270.7 143.1 270.7C144.7 270.7 146.3 247.2 148.0 230.1C149.3 216.3 150.6 193.7 151.9 175.2C153.4 153.8 154.9 121.4 156.4 110.3C158.7 93.0 161.1 77.1 163.4 77.1C165.0 77.1 166.6 93.3 168.2 108.7C169.4 120.9 170.7 151.3 171.9 173.1C172.9 189.7 173.8 214.9 174.8 223.5C176.2 236.2 177.6 248.0 179.0 248.0C180.9 248.0 182.8 228.9 184.8 217.1C186.8 204.8 188.8 185.6 190.8 174.1C192.6 163.8 194.4 148.1 196.2 148.1C198.0 148.1 199.9 148.9 201.8 149.8C203.6 150.6 205.3 154.3 207.1 156.7C209.3 159.6 211.6 162.1 213.8 165.6C215.4 168.0 216.9 171.8 218.5 174.1C220.7 177.2 222.9 181.7 225.1 181.7C227.3 181.7 229.5 176.1 231.7 174.8C233.6 173.7 235.6 172.4 237.5 172.4C241.1 172.4 244.8 176.0 248.4 176.0C252.3 176.0 256.2 171.2 260.1 171.2C265.5 171.2 270.9 178.9 276.3 178.9C281.4 178.9 286.5 169.2 291.6 169.2C293.7 169.2 295.9 171.9 298.0 174.9C299.7 177.3 301.4 186.8 303.1 190.1C304.8 193.3 306.4 197.2 308.1 197.2C310.2 197.2 312.2 181.3 314.3 173.4C316.6 164.5 319.0 154.9 321.3 146.9C323.7 138.8 326.1 124.5 328.4 124.5C330.2 124.5 332.0 136.3 333.8 144.4C335.5 152.3 337.2 165.8 338.9 174.8C342.9 195.8 346.9 229.9 350.9 229.9C354.4 229.9 357.9 194.7 361.5 175.2C363.1 166.1 364.8 153.5 366.4 146.2C368.2 138.2 370.0 126.9 371.9 126.9C374.8 126.9 377.7 143.8 380.6 154.1C382.2 159.9 383.9 168.6 385.5 173.7C387.2 179.1 389.0 186.2 390.7 187.1C393.7 188.6 396.6 189.4 399.6 189.4C401.5 189.4 403.5 189.0 405.4 188.6C407.4 188.3 409.3 187.9 411.3 187.0C412.8 186.3 414.3 184.6 415.8 182.8C417.1 181.1 418.5 177.1 419.8 175.5C421.1 173.8 422.4 172.5 423.7 171.7C424.8 171.1 425.8 170.3 426.8 170.3C428.6 170.3 430.5 171.8 432.3 172.7C434.5 173.8 436.7 176.6 438.9 176.6C444.8 176.6 450.8 172.0 456.7 172.0C461.1 172.0 465.6 173.4 470.0 173.6C472.5 173.8 475.0 173.7 477.5 173.9C479.1 174.0 480.8 174.9 482.4 176.2C484.4 177.7 486.5 187.6 488.5 190.9C490.9 194.6 493.2 199.1 495.6 199.1C498.0 199.1 500.5 182.6 502.9 175.2C505.7 166.5 508.6 156.6 511.5 150.7C514.6 144.4 517.7 136.0 520.8 136.0C523.2 136.0 525.6 142.3 528.1 149.1C529.6 153.3 531.1 165.5 532.6 172.9C534.7 183.0 536.7 192.5 538.8 201.0" stroke="#141414" stroke-width="0.7"/>
<path d="M58.5 143.5C60.0 138.1 61.5 133.2 62.9 131.1C64.7 128.6 66.4 126.2 68.1 126.2C70.1 126.2 72.0 127.8 73.9 129.9C75.7 131.8 77.4 139.3 79.2 146.6C80.9 153.6 82.6 164.8 84.4 176.9C86.2 190.2 88.1 213.6 90.0 227.0C92.2 242.4 94.3 265.4 96.5 265.4C97.5 265.4 98.5 249.2 99.5 239.5C101.3 221.6 103.2 193.6 105.0 176.0C106.8 158.8 108.6 141.6 110.4 131.7C112.1 122.4 113.8 112.2 115.5 110.6C117.7 108.6 119.9 107.4 122.1 107.4C123.4 107.4 124.7 110.5 126.0 114.1C127.1 117.1 128.2 125.8 129.3 136.1C130.2 144.2 131.1 162.2 131.9 174.2C133.3 193.9 134.7 214.4 136.1 229.8C137.9 248.8 139.6 278.0 141.3 278.0C142.9 278.0 144.5 249.0 146.1 230.3C147.5 214.9 148.8 193.0 150.1 174.9C151.7 153.3 153.3 121.0 154.9 111.4C157.5 95.2 160.2 81.9 162.9 81.9C164.7 81.9 166.4 97.3 168.2 112.3C169.6 124.2 171.0 152.4 172.4 177.0C173.3 191.8 174.1 218.2 175.0 227.5C176.5 244.1 178.0 259.8 179.5 259.8C181.5 259.8 183.5 234.5 185.5 220.9C187.6 207.1 189.6 188.7 191.6 177.5C193.6 166.7 195.5 151.0 197.5 151.0C199.3 151.0 201.1 152.0 202.9 153.2C204.3 154.0 205.7 157.1 207.1 158.9C209.2 161.6 211.3 163.4 213.4 166.5C214.8 168.7 216.3 172.4 217.8 174.7C220.0 178.2 222.2 183.6 224.4 183.6C226.6 183.6 228.8 176.6 231.0 175.4C232.9 174.3 234.9 173.3 236.9 173.3C240.6 173.3 244.2 177.5 247.9 177.5C251.8 177.5 255.8 173.7 259.7 173.7C265.1 173.7 270.4 182.2 275.8 182.2C280.9 182.2 286.0 172.5 291.2 172.5C293.4 172.5 295.6 175.0 297.8 177.8C299.7 180.1 301.5 188.9 303.4 193.0C305.2 197.1 307.1 203.5 308.9 203.5C311.2 203.5 313.4 186.2 315.7 178.0C318.1 169.0 320.6 159.9 323.0 152.1C325.4 144.5 327.8 131.3 330.2 131.3C331.9 131.3 333.6 139.5 335.3 146.3C336.9 152.7 338.5 167.2 340.1 175.9C343.9 197.0 347.8 230.6 351.6 230.6C355.0 230.6 358.5 195.3 361.9 175.6C363.5 166.5 365.1 152.8 366.7 146.6C368.6 139.4 370.4 131.0 372.3 131.0C375.3 131.0 378.3 146.5 381.3 156.4C383.0 162.1 384.8 171.3 386.5 176.5C388.3 181.9 390.1 188.6 392.0 189.9C394.9 192.0 397.9 193.1 400.9 193.3C402.8 193.4 404.7 193.4 406.6 193.5C408.5 193.5 410.4 193.7 412.3 193.7C414.0 193.7 415.7 191.7 417.5 189.8C418.9 188.2 420.3 183.9 421.7 182.0C423.0 180.3 424.3 179.4 425.6 177.8C426.2 177.1 426.9 175.4 427.5 175.4C429.3 175.4 431.1 176.6 432.9 177.4C435.1 178.5 437.3 181.5 439.4 181.5C445.3 181.5 451.2 175.7 457.0 175.7C461.4 175.7 465.8 177.6 470.2 178.8C472.7 179.5 475.1 180.5 477.5 181.2C479.1 181.7 480.7 181.8 482.3 182.6C484.4 183.5 486.4 192.2 488.5 194.7C490.8 197.5 493.2 200.8 495.6 200.8C498.1 200.8 500.6 184.2 503.0 176.9C506.0 168.1 509.0 158.0 512.0 152.6C515.2 146.6 518.5 139.3 521.7 139.3C524.3 139.3 526.8 145.8 529.4 152.4C531.0 156.6 532.7 166.4 534.3 175.0C535.8 182.9 537.3 192.2 538.8 202.4" stroke="#141414" stroke-width="0.7"/>
<path d="M58.5 122.1C59.5 119.7 60.6 117.2 61.6 116.6C63.3 115.7 65.0 115.1 66.7 115.1C68.6 115.1 70.6 120.1 72.5 124.3C74.3 128.2 76.1 134.8 77.9 142.6C79.6 150.1 81.4 161.3 83.1 173.7C85.0 187.1 86.9 213.3 88.8 223.8C91.5 238.7 94.2 255.3 96.9 255.3C97.4 255.3 97.9 242.3 98.3 236.5C100.2 213.2 102.0 190.7 103.9 172.8C105.7 155.1 107.6 137.9 109.4 126.8C111.2 116.2 112.9 103.1 114.7 101.7C116.9 99.9 119.1 98.8 121.3 98.8C122.6 98.8 123.9 104.0 125.2 109.0C126.3 113.2 127.4 123.5 128.5 132.5C129.9 143.9 131.3 157.6 132.6 173.2C134.0 188.8 135.3 214.4 136.7 228.3C138.4 245.6 140.1 269.3 141.8 269.3C143.3 269.3 144.9 245.6 146.4 228.5C147.7 214.6 149.0 191.8 150.3 173.4C151.8 151.8 153.3 120.5 154.7 108.5C156.9 91.2 159.0 74.1 161.2 74.1C162.8 74.1 164.4 92.3 165.9 108.0C167.3 121.6 168.7 154.1 170.0 173.0C171.4 192.1 172.8 213.4 174.2 223.6C175.8 235.2 177.3 248.2 178.9 248.2C181.0 248.2 183.1 228.9 185.2 216.8C187.3 204.6 189.4 186.5 191.5 173.2C193.0 163.6 194.6 146.5 196.1 146.5C198.0 146.5 199.9 147.9 201.7 149.2C203.7 150.6 205.7 154.5 207.7 157.3C209.9 160.3 212.0 163.2 214.2 166.7C215.7 169.2 217.3 173.0 218.8 175.0C221.0 177.8 223.2 181.5 225.3 181.5C227.5 181.5 229.7 175.3 231.9 173.5C233.8 171.9 235.8 169.9 237.7 169.9C241.4 169.9 245.1 172.9 248.7 172.9C252.6 172.9 256.5 168.7 260.5 168.7C265.8 168.7 271.2 177.6 276.6 177.6C281.8 177.6 286.9 168.5 292.0 168.5C294.2 168.5 296.5 171.1 298.7 174.0C300.4 176.3 302.2 185.3 303.9 188.8C305.6 192.1 307.3 196.6 309.0 196.6C311.1 196.6 313.2 181.2 315.2 173.5C317.5 164.9 319.8 155.6 322.1 147.8C324.5 139.9 326.8 126.1 329.1 126.1C330.8 126.1 332.5 137.0 334.2 144.8C335.8 152.2 337.4 165.7 339.0 174.5C342.8 195.5 346.7 229.0 350.6 229.0C354.0 229.0 357.5 193.8 360.9 174.2C362.5 165.2 364.0 152.5 365.6 145.6C367.4 137.8 369.1 127.5 370.9 127.5C373.8 127.5 376.6 144.6 379.5 154.8C381.2 160.7 382.9 169.5 384.6 174.5C386.4 180.0 388.2 187.2 390.0 187.8C393.0 188.9 396.1 189.4 399.1 189.4C401.2 189.4 403.2 188.6 405.3 188.1C407.4 187.6 409.5 187.2 411.5 186.2C412.9 185.5 414.3 183.4 415.6 181.5C417.0 179.6 418.3 175.6 419.6 174.1C421.0 172.5 422.5 171.3 423.9 170.8C425.4 170.2 426.9 169.6 428.5 169.6C430.3 169.6 432.1 171.0 433.9 171.8C436.1 172.8 438.2 175.2 440.4 175.2C446.2 175.2 452.0 170.7 457.8 170.7C462.2 170.7 466.6 172.5 470.9 173.2C473.3 173.5 475.7 173.6 478.1 174.1C479.7 174.5 481.3 175.1 482.9 176.3C485.0 177.9 487.0 187.4 489.0 190.3C491.4 193.8 493.7 197.9 496.1 197.9C498.5 197.9 501.0 181.9 503.4 174.7C506.3 166.1 509.2 156.5 512.0 150.8C515.2 144.7 518.3 136.6 521.4 136.6C523.8 136.6 526.2 142.9 528.7 149.6C530.2 153.8 531.7 165.4 533.2 173.1C535.1 182.6 536.9 191.9 538.8 200.9" stroke="#141414" stroke-width="0.7"/>
<path d="M58.5 123.6C59.9 121.2 61.4 118.9 62.8 118.0C64.7 116.8 66.5 115.6 68.3 115.6C70.4 115.6 72.4 120.0 74.4 123.9C76.2 127.5 78.1 134.3 79.9 142.2C81.6 149.7 83.4 161.3 85.1 173.8C87.0 187.4 88.9 212.7 90.9 224.3C93.0 237.5 95.2 254.3 97.4 254.3C98.4 254.3 99.4 244.5 100.5 236.9C102.3 223.5 104.1 191.2 106.0 173.1C107.8 155.6 109.5 138.5 111.3 127.5C113.0 117.1 114.7 104.5 116.3 102.8C118.5 100.6 120.6 99.3 122.8 99.3C124.1 99.3 125.4 104.1 126.7 108.9C127.8 113.1 128.9 121.3 130.0 132.5C130.8 141.0 131.7 161.2 132.5 173.7C133.9 194.1 135.3 215.0 136.6 228.9C138.3 245.7 140.0 268.9 141.7 268.9C143.2 268.9 144.7 246.0 146.2 228.9C147.4 215.3 148.6 191.9 149.8 173.3C151.2 151.2 152.7 118.0 154.1 106.8C156.6 87.1 159.2 69.8 161.7 69.8C163.4 69.8 165.1 89.8 166.7 107.2C168.1 121.1 169.4 148.1 170.8 173.1C171.6 188.0 172.4 216.5 173.2 223.8C174.6 237.3 176.1 247.7 177.6 247.7C179.6 247.7 181.6 228.1 183.5 215.9C185.6 203.5 187.6 184.1 189.6 172.3C191.6 160.6 193.6 142.8 195.7 142.8C197.5 142.8 199.3 144.5 201.2 146.3C202.7 147.7 204.1 151.9 205.6 154.2C207.8 157.8 210.1 160.1 212.3 163.8C213.9 166.4 215.6 170.6 217.2 172.9C219.5 176.2 221.8 180.6 224.2 180.6C226.5 180.6 228.8 175.5 231.1 174.1C233.2 172.8 235.2 171.3 237.3 171.3C241.0 171.3 244.8 174.6 248.5 174.6C252.5 174.6 256.5 170.0 260.4 170.0C265.9 170.0 271.3 178.0 276.7 178.0C281.8 178.0 287.0 168.3 292.1 168.3C294.2 168.3 296.4 171.0 298.6 173.9C300.3 176.2 302.0 185.5 303.7 188.7C305.4 191.9 307.1 195.9 308.8 195.9C310.9 195.9 313.0 181.1 315.1 173.4C317.4 165.0 319.8 155.5 322.1 147.5C324.4 139.5 326.8 125.4 329.1 125.4C330.8 125.4 332.6 137.0 334.3 145.1C335.9 152.8 337.6 166.2 339.2 175.0C343.1 196.1 347.0 229.7 350.9 229.7C354.4 229.7 357.9 194.5 361.4 174.9C363.0 165.9 364.6 153.5 366.2 146.2C368.0 138.1 369.7 126.7 371.5 126.7C374.4 126.7 377.3 143.9 380.2 154.2C381.9 160.1 383.5 168.9 385.2 173.8C387.0 179.1 388.8 186.4 390.6 186.5C393.6 186.8 396.6 186.9 399.7 186.9C401.7 186.9 403.8 186.8 405.9 186.6C408.0 186.5 410.0 186.3 412.1 185.9C414.0 185.5 416.0 183.5 417.9 181.5C419.4 179.9 421.0 175.7 422.6 173.9C424.0 172.3 425.4 171.4 426.7 170.3C427.4 169.8 428.0 168.8 428.7 168.8C430.5 168.8 432.2 170.1 434.0 170.8C436.1 171.8 438.2 174.1 440.3 174.1C446.1 174.1 451.9 169.2 457.7 169.2C462.0 169.2 466.3 170.8 470.6 171.3C472.9 171.6 475.3 171.6 477.6 172.1C479.1 172.3 480.6 173.0 482.1 174.1C484.1 175.6 486.0 185.5 487.9 188.2C490.2 191.3 492.5 194.7 494.8 194.7C497.2 194.7 499.6 179.4 502.0 172.5C504.9 164.3 507.8 154.8 510.7 149.3C513.9 143.3 517.0 135.6 520.2 135.6C522.7 135.6 525.3 142.7 527.8 149.6C529.4 154.1 531.1 165.4 532.7 172.9C534.7 182.3 536.8 191.3 538.8 200.0" stroke="#141414" stroke-width="0.7"/>
<path d="M58.5 130.7C59.7 127.5 61.0 124.6 62.2 123.3C64.0 121.5 65.8 119.7 67.5 119.7C69.4 119.7 71.4 122.7 73.3 125.8C75.0 128.7 76.8 135.3 78.5 142.8C80.2 149.8 81.8 161.2 83.4 173.5C85.2 186.8 87.0 213.3 88.8 223.9C91.4 239.4 94.0 256.6 96.6 256.6C97.0 256.6 97.4 243.3 97.8 237.9C99.6 212.5 101.4 192.3 103.2 174.9C105.0 157.5 106.7 140.5 108.5 130.4C110.3 120.7 112.0 110.9 113.8 108.3C116.0 104.9 118.2 102.3 120.5 102.3C121.8 102.3 123.2 107.5 124.5 112.5C125.7 116.8 126.9 126.8 128.1 135.6C129.5 146.7 131.0 159.8 132.5 175.2C133.9 190.5 135.4 216.3 136.9 230.4C138.7 247.6 140.4 271.6 142.2 271.6C143.8 271.6 145.4 247.4 147.1 229.8C148.3 215.9 149.6 192.9 150.8 174.5C152.3 153.2 153.8 121.2 155.2 110.6C157.3 95.4 159.4 81.5 161.5 81.5C163.0 81.5 164.5 97.0 166.0 111.2C167.3 123.6 168.6 156.9 170.0 175.3C171.3 194.2 172.7 215.0 174.0 225.1C175.5 236.5 177.1 249.4 178.6 249.4C180.6 249.4 182.6 229.8 184.6 217.7C186.7 205.4 188.7 187.2 190.7 174.3C192.2 165.1 193.6 149.0 195.1 149.0C196.9 149.0 198.6 149.9 200.4 150.9C202.4 152.0 204.3 155.7 206.3 158.3C208.4 161.2 210.5 164.0 212.6 167.4C214.1 169.8 215.6 173.4 217.1 175.5C219.3 178.5 221.5 182.6 223.7 182.6C225.9 182.6 228.1 176.6 230.3 175.0C232.2 173.6 234.2 171.9 236.1 171.9C239.8 171.9 243.4 174.8 247.1 174.8C251.0 174.8 254.9 169.9 258.8 169.9C264.2 169.9 269.6 177.9 274.9 177.9C280.1 177.9 285.3 168.4 290.4 168.4C292.7 168.4 294.9 171.2 297.2 174.2C299.0 176.7 300.8 185.7 302.6 189.8C304.4 193.9 306.2 199.8 308.0 199.8C310.2 199.8 312.3 183.2 314.5 175.2C316.9 166.4 319.3 157.4 321.7 149.5C324.0 141.7 326.4 127.7 328.8 127.7C330.5 127.7 332.3 138.3 334.0 145.9C335.7 153.2 337.3 166.4 339.0 175.0C342.9 195.6 346.9 229.0 350.8 229.0C354.3 229.0 357.8 193.4 361.2 174.0C362.9 164.9 364.5 152.3 366.1 145.6C367.9 138.0 369.7 128.1 371.6 128.1C374.5 128.1 377.5 145.4 380.4 155.6C382.1 161.6 383.8 170.2 385.5 175.4C387.3 180.8 389.1 187.7 390.9 188.7C393.9 190.3 396.9 191.1 399.8 191.1C401.8 191.1 403.8 190.7 405.8 190.3C407.8 190.0 409.7 189.6 411.7 188.7C413.0 188.1 414.2 185.8 415.5 183.7C416.7 181.6 417.9 177.1 419.2 175.3C420.6 173.3 422.0 171.6 423.4 171.0C424.9 170.3 426.5 169.8 428.0 169.8C429.9 169.8 431.7 171.3 433.6 172.2C435.8 173.2 438.1 175.6 440.3 175.6C446.2 175.6 452.1 171.0 457.9 171.0C462.3 171.0 466.7 172.1 471.1 172.9C473.5 173.3 475.9 173.5 478.3 174.3C479.8 174.8 481.4 175.9 482.9 177.6C484.8 179.7 486.8 189.2 488.7 192.4C491.0 196.1 493.3 200.4 495.6 200.4C498.0 200.4 500.4 183.9 502.8 176.7C505.7 167.9 508.5 158.1 511.4 152.6C514.6 146.5 517.7 138.8 520.9 138.8C523.4 138.8 525.8 145.6 528.3 152.5C529.9 156.9 531.4 168.6 533.0 176.2C534.9 185.8 536.9 195.0 538.8 203.9" stroke="#141414" stroke-width="0.7"/>
<path d="M58.5 130.0C59.7 126.8 60.8 123.7 62.0 122.5C63.7 120.7 65.5 119.1 67.2 119.1C69.0 119.1 70.7 122.7 72.5 126.0C74.2 129.2 75.9 136.0 77.6 143.5C79.3 151.0 81.0 162.8 82.7 174.6C84.8 189.0 86.9 213.2 89.0 225.0C91.5 239.2 94.1 257.3 96.6 257.3C97.7 257.3 98.9 243.1 100.0 238.0C100.2 237.3 100.3 236.9 100.5 236.0C101.7 229.7 102.8 207.7 104.0 192.0C105.2 175.9 106.4 153.9 107.6 140.0C108.7 126.9 109.9 115.6 111.0 107.0C112.0 99.4 113.0 91.2 114.0 88.0C114.7 85.6 115.5 83.1 116.2 83.1C117.0 83.1 117.7 84.6 118.5 86.0C119.5 87.8 120.5 92.4 121.5 96.0C122.7 100.2 123.8 104.6 125.0 110.0C126.0 114.6 127.0 119.1 128.0 126.0C128.8 131.8 129.7 140.5 130.5 150.0C131.1 156.8 131.7 166.5 132.3 174.6C133.7 193.4 135.1 215.9 136.5 230.0C138.2 247.4 140.0 271.5 141.7 271.5C143.3 271.5 144.9 247.4 146.5 230.0C147.8 215.9 149.1 192.9 150.4 174.6C151.9 152.9 153.5 120.9 155.0 110.0C157.2 94.7 159.3 80.4 161.5 80.4C163.2 80.4 164.8 95.8 166.5 110.0C168.0 122.5 169.4 153.5 170.9 174.6C172.1 191.7 173.3 215.4 174.5 225.0C176.0 237.0 177.5 249.6 179.0 249.6C181.0 249.6 183.0 230.1 185.0 218.0C187.0 205.7 189.1 186.1 191.1 174.6C192.9 164.4 194.7 149.0 196.5 149.0C198.3 149.0 200.2 149.7 202.0 150.5C203.7 151.3 205.3 155.2 207.0 157.5C209.2 160.5 211.3 162.9 213.5 166.3C215.0 168.7 216.6 172.4 218.1 174.6C220.3 177.6 222.5 182.0 224.7 182.0C226.9 182.0 229.1 176.1 231.3 174.6C233.3 173.2 235.2 171.6 237.2 171.6C240.9 171.6 244.5 174.9 248.2 174.9C252.1 174.9 256.1 170.3 260.0 170.3C265.4 170.3 270.8 178.4 276.2 178.4C281.3 178.4 286.5 168.8 291.6 168.8C293.8 168.8 296.0 171.5 298.2 174.6C300.0 177.0 301.7 186.0 303.5 190.0C305.2 193.9 307.0 199.6 308.7 199.6C310.8 199.6 313.0 182.6 315.1 174.6C317.5 165.6 319.8 156.5 322.2 148.6C324.6 140.7 326.9 126.7 329.3 126.7C331.0 126.7 332.8 137.3 334.5 145.0C336.1 152.3 337.8 165.8 339.4 174.6C343.3 195.4 347.2 229.2 351.1 229.2C354.6 229.2 358.0 194.0 361.5 174.6C363.1 165.6 364.7 152.9 366.3 146.0C368.1 138.3 369.9 128.0 371.7 128.0C374.6 128.0 377.6 144.9 380.5 155.0C382.2 160.9 383.9 169.4 385.6 174.6C387.4 180.0 389.2 187.0 391.0 188.0C394.0 189.6 397.0 190.5 400.0 190.5C402.0 190.5 404.0 189.8 406.0 189.3C408.0 188.8 410.0 188.1 412.0 187.0C413.6 186.1 415.2 184.3 416.8 182.2C418.2 180.4 419.6 176.3 421.0 174.6C422.4 172.9 423.7 171.5 425.1 170.8C426.1 170.3 427.1 169.6 428.1 169.6C429.9 169.6 431.7 171.1 433.5 172.0C435.7 173.1 437.8 175.6 440.0 175.6C445.8 175.6 451.7 171.3 457.5 171.3C461.9 171.3 466.2 172.7 470.6 173.2C473.0 173.5 475.4 173.5 477.8 174.0C479.4 174.3 480.9 175.2 482.5 176.5C484.5 178.2 486.5 187.5 488.5 190.5C490.8 194.0 493.2 198.2 495.5 198.2C497.9 198.2 500.4 181.7 502.8 174.6C505.7 166.0 508.6 156.4 511.5 151.0C514.7 145.1 517.8 137.5 521.0 137.5C523.5 137.5 526.0 144.1 528.5 151.0C530.1 155.3 531.6 166.8 533.2 174.6C535.1 183.8 536.9 193.0 538.8 202.0" stroke="#141414" stroke-width="0.7"/>
<path d="M58.5 130.0C59.7 126.8 60.8 123.7 62.0 122.5C63.7 120.7 65.5 119.1 67.2 119.1C69.0 119.1 70.7 122.7 72.5 126.0C74.2 129.2 75.9 136.0 77.6 143.5C79.3 151.0 81.0 162.8 82.7 174.6C84.8 189.0 86.9 213.2 89.0 225.0C91.5 239.2 94.1 257.3 96.6 257.3C97.7 257.3 98.9 241.6 100.0 238.0C100.3 237.1 100.5 237.0 100.8 236.0C102.0 231.7 103.1 207.4 104.3 192.0C105.5 176.2 106.7 154.9 107.9 142.0C109.0 129.8 110.2 120.2 111.3 112.0C112.3 105.0 113.2 96.6 114.2 94.0C115.0 91.9 115.8 89.8 116.6 89.8C117.4 89.8 118.2 90.9 119.0 92.0C120.0 93.3 121.0 96.9 122.0 100.0C123.2 103.6 124.3 108.0 125.5 113.0C126.5 117.3 127.5 121.4 128.5 128.0C129.3 133.5 130.2 141.4 131.0 152.0C131.4 157.5 131.9 167.9 132.3 174.6C133.7 196.1 135.1 215.9 136.5 230.0C138.2 247.4 140.0 271.5 141.7 271.5C143.3 271.5 144.9 247.4 146.5 230.0C147.8 215.9 149.1 192.9 150.4 174.6C151.9 152.9 153.5 120.9 155.0 110.0C157.2 94.7 159.3 80.4 161.5 80.4C163.2 80.4 164.8 95.8 166.5 110.0C168.0 122.5 169.4 153.5 170.9 174.6C172.1 191.7 173.3 215.4 174.5 225.0C176.0 237.0 177.5 249.6 179.0 249.6C181.0 249.6 183.0 230.1 185.0 218.0C187.0 205.7 189.1 186.1 191.1 174.6C192.9 164.4 194.7 149.0 196.5 149.0C198.3 149.0 200.2 149.7 202.0 150.5C203.7 151.3 205.3 155.2 207.0 157.5C209.2 160.5 211.3 162.9 213.5 166.3C215.0 168.7 216.6 172.4 218.1 174.6C220.3 177.6 222.5 182.0 224.7 182.0C226.9 182.0 229.1 176.1 231.3 174.6C233.3 173.2 235.2 171.6 237.2 171.6C240.9 171.6 244.5 174.9 248.2 174.9C252.1 174.9 256.1 170.3 260.0 170.3C265.4 170.3 270.8 178.4 276.2 178.4C281.3 178.4 286.5 168.8 291.6 168.8C293.8 168.8 296.0 171.5 298.2 174.6C300.0 177.0 301.7 186.0 303.5 190.0C305.2 193.9 307.0 199.6 308.7 199.6C310.8 199.6 313.0 182.6 315.1 174.6C317.5 165.6 319.8 156.5 322.2 148.6C324.6 140.7 326.9 126.7 329.3 126.7C331.0 126.7 332.8 137.3 334.5 145.0C336.1 152.3 337.8 165.8 339.4 174.6C343.3 195.4 347.2 229.2 351.1 229.2C354.6 229.2 358.0 194.0 361.5 174.6C363.1 165.6 364.7 152.9 366.3 146.0C368.1 138.3 369.9 128.0 371.7 128.0C374.6 128.0 377.6 144.9 380.5 155.0C382.2 160.9 383.9 169.4 385.6 174.6C387.4 180.0 389.2 187.0 391.0 188.0C394.0 189.6 397.0 190.5 400.0 190.5C402.0 190.5 404.0 189.8 406.0 189.3C408.0 188.8 410.0 188.1 412.0 187.0C413.6 186.1 415.2 184.3 416.8 182.2C418.2 180.4 419.6 176.3 421.0 174.6C422.4 172.9 423.7 171.5 425.1 170.8C426.1 170.3 427.1 169.6 428.1 169.6C429.9 169.6 431.7 171.1 433.5 172.0C435.7 173.1 437.8 175.6 440.0 175.6C445.8 175.6 451.7 171.3 457.5 171.3C461.9 171.3 466.2 172.7 470.6 173.2C473.0 173.5 475.4 173.5 477.8 174.0C479.4 174.3 480.9 175.2 482.5 176.5C484.5 178.2 486.5 187.5 488.5 190.5C490.8 194.0 493.2 198.2 495.5 198.2C497.9 198.2 500.4 181.7 502.8 174.6C505.7 166.0 508.6 156.4 511.5 151.0C514.7 145.1 517.8 137.5 521.0 137.5C523.5 137.5 526.0 144.1 528.5 151.0C530.1 155.3 531.6 166.8 533.2 174.6C535.1 183.8 536.9 193.0 538.8 202.0" stroke="#141414" stroke-width="0.7"/>
<path d="M58.5 130.0C59.7 126.8 60.8 123.7 62.0 122.5C63.7 120.7 65.5 119.1 67.2 119.1C69.0 119.1 70.7 122.7 72.5 126.0C74.2 129.2 75.9 136.0 77.6 143.5C79.3 151.0 81.0 162.8 82.7 174.6C84.8 189.0 86.9 213.2 89.0 225.0C91.5 239.2 94.1 257.3 96.6 257.3C97.7 257.3 98.9 246.3 100.0 238.0C101.9 224.3 103.7 191.8 105.6 174.6C107.5 157.0 109.4 140.4 111.3 130.0C113.0 120.5 114.8 110.8 116.5 108.0C118.6 104.6 120.8 101.9 122.9 101.9C124.2 101.9 125.5 106.7 126.8 112.0C127.7 115.8 128.7 125.2 129.6 135.0C130.5 144.5 131.4 162.0 132.3 174.6C133.7 194.1 135.1 215.9 136.5 230.0C138.2 247.4 140.0 271.5 141.7 271.5C143.3 271.5 144.9 247.4 146.5 230.0C147.8 215.9 149.1 192.9 150.4 174.6C151.9 152.9 153.5 120.9 155.0 110.0C157.2 94.7 159.3 80.4 161.5 80.4C163.2 80.4 164.8 95.8 166.5 110.0C168.0 122.5 169.4 153.5 170.9 174.6C172.1 191.7 173.3 215.4 174.5 225.0C176.0 237.0 177.5 249.6 179.0 249.6C181.0 249.6 183.0 230.1 185.0 218.0C187.0 205.7 189.1 189.7 191.1 174.6C192.1 167.3 193.0 157.6 194.0 152.0C195.2 145.2 196.3 140.0 197.5 136.0C198.3 133.1 199.2 129.9 200.0 129.0C200.9 128.0 201.7 127.2 202.6 127.2C203.4 127.2 204.2 128.6 205.0 130.0C206.0 131.7 207.0 136.2 208.0 140.0C209.0 143.8 210.0 148.8 211.0 153.0C212.0 157.2 213.0 162.0 214.0 165.0C215.4 169.1 216.7 172.4 218.1 174.6C220.3 178.0 222.5 182.0 224.7 182.0C226.9 182.0 229.1 176.1 231.3 174.6C233.3 173.2 235.2 171.6 237.2 171.6C240.9 171.6 244.5 174.9 248.2 174.9C252.1 174.9 256.1 170.3 260.0 170.3C265.4 170.3 270.8 178.4 276.2 178.4C281.3 178.4 286.5 168.8 291.6 168.8C293.8 168.8 296.0 171.5 298.2 174.6C300.0 177.0 301.7 186.0 303.5 190.0C305.2 193.9 307.0 199.6 308.7 199.6C310.8 199.6 313.0 182.6 315.1 174.6C317.5 165.6 319.8 156.5 322.2 148.6C324.6 140.7 326.9 126.7 329.3 126.7C331.0 126.7 332.8 137.3 334.5 145.0C336.1 152.3 337.8 165.8 339.4 174.6C343.3 195.4 347.2 229.2 351.1 229.2C354.6 229.2 358.0 194.0 361.5 174.6C363.1 165.6 364.7 152.9 366.3 146.0C368.1 138.3 369.9 128.0 371.7 128.0C374.6 128.0 377.6 144.9 380.5 155.0C382.2 160.9 383.9 169.4 385.6 174.6C387.4 180.0 389.2 187.0 391.0 188.0C394.0 189.6 397.0 190.5 400.0 190.5C402.0 190.5 404.0 189.8 406.0 189.3C408.0 188.8 410.0 188.1 412.0 187.0C413.6 186.1 415.2 184.3 416.8 182.2C418.2 180.4 419.6 176.3 421.0 174.6C422.4 172.9 423.7 171.5 425.1 170.8C426.1 170.3 427.1 169.6 428.1 169.6C429.9 169.6 431.7 171.1 433.5 172.0C435.7 173.1 437.8 175.6 440.0 175.6C445.8 175.6 451.7 171.3 457.5 171.3C461.9 171.3 466.2 172.7 470.6 173.2C473.0 173.5 475.4 173.5 477.8 174.0C479.4 174.3 480.9 175.2 482.5 176.5C484.5 178.2 486.5 187.5 488.5 190.5C490.8 194.0 493.2 198.2 495.5 198.2C497.9 198.2 500.4 181.7 502.8 174.6C505.7 166.0 508.6 156.4 511.5 151.0C514.7 145.1 517.8 137.5 521.0 137.5C523.5 137.5 526.0 144.1 528.5 151.0C530.1 155.3 531.6 166.8 533.2 174.6C535.1 183.8 536.9 193.0 538.8 202.0" stroke="#141414" stroke-width="0.7"/>
<path d="M58.5 130.0C59.7 126.8 60.8 123.7 62.0 122.5C63.7 120.7 65.5 119.1 67.2 119.1C69.0 119.1 70.7 122.7 72.5 126.0C74.2 129.2 75.9 136.0 77.6 143.5C79.3 151.0 81.0 162.8 82.7 174.6C84.8 189.0 86.9 213.2 89.0 225.0C91.5 239.2 94.1 257.3 96.6 257.3C97.7 257.3 98.9 246.3 100.0 238.0C101.9 224.3 103.7 191.8 105.6 174.6C107.5 157.0 109.4 140.4 111.3 130.0C113.0 120.5 114.8 110.8 116.5 108.0C118.6 104.6 120.8 101.9 122.9 101.9C124.2 101.9 125.5 106.7 126.8 112.0C127.7 115.8 128.7 125.2 129.6 135.0C130.5 144.5 131.4 162.0 132.3 174.6C133.7 194.1 135.1 215.9 136.5 230.0C138.2 247.4 140.0 271.5 141.7 271.5C143.3 271.5 144.9 247.4 146.5 230.0C147.8 215.9 149.1 192.9 150.4 174.6C151.9 152.9 153.5 120.9 155.0 110.0C157.2 94.7 159.3 80.4 161.5 80.4C163.2 80.4 164.8 95.8 166.5 110.0C168.0 122.5 169.4 153.5 170.9 174.6C172.1 191.7 173.3 215.4 174.5 225.0C176.0 237.0 177.5 249.6 179.0 249.6C181.0 249.6 183.0 230.1 185.0 218.0C187.0 205.7 189.1 174.6 191.1 174.6C191.2 174.6 191.2 174.6 191.3 174.6C192.3 174.6 193.2 159.7 194.2 154.0C195.1 148.5 196.1 143.0 197.0 140.0C197.8 137.3 198.7 135.0 199.5 134.0C200.1 133.3 200.6 132.5 201.2 132.5C202.0 132.5 202.7 133.8 203.5 135.0C204.5 136.6 205.5 141.6 206.5 145.0C207.7 148.9 208.8 153.4 210.0 157.0C211.2 160.6 212.3 164.5 213.5 167.0C215.1 170.4 216.7 172.9 218.3 175.0C220.4 177.8 222.6 182.0 224.7 182.0C226.9 182.0 229.1 176.1 231.3 174.6C233.3 173.2 235.2 171.6 237.2 171.6C240.9 171.6 244.5 174.9 248.2 174.9C252.1 174.9 256.1 170.3 260.0 170.3C265.4 170.3 270.8 178.4 276.2 178.4C281.3 178.4 286.5 168.8 291.6 168.8C293.8 168.8 296.0 171.5 298.2 174.6C300.0 177.0 301.7 186.0 303.5 190.0C305.2 193.9 307.0 199.6 308.7 199.6C310.8 199.6 313.0 182.6 315.1 174.6C317.5 165.6 319.8 156.5 322.2 148.6C324.6 140.7 326.9 126.7 329.3 126.7C331.0 126.7 332.8 137.3 334.5 145.0C336.1 152.3 337.8 165.8 339.4 174.6C343.3 195.4 347.2 229.2 351.1 229.2C354.6 229.2 358.0 194.0 361.5 174.6C363.1 165.6 364.7 152.9 366.3 146.0C368.1 138.3 369.9 128.0 371.7 128.0C374.6 128.0 377.6 144.9 380.5 155.0C382.2 160.9 383.9 169.4 385.6 174.6C387.4 180.0 389.2 187.0 391.0 188.0C394.0 189.6 397.0 190.5 400.0 190.5C402.0 190.5 404.0 189.8 406.0 189.3C408.0 188.8 410.0 188.1 412.0 187.0C413.6 186.1 415.2 184.3 416.8 182.2C418.2 180.4 419.6 176.3 421.0 174.6C422.4 172.9 423.7 171.5 425.1 170.8C426.1 170.3 427.1 169.6 428.1 169.6C429.9 169.6 431.7 171.1 433.5 172.0C435.7 173.1 437.8 175.6 440.0 175.6C445.8 175.6 451.7 171.3 457.5 171.3C461.9 171.3 466.2 172.7 470.6 173.2C473.0 173.5 475.4 173.5 477.8 174.0C479.4 174.3 480.9 175.2 482.5 176.5C484.5 178.2 486.5 187.5 488.5 190.5C490.8 194.0 493.2 198.2 495.5 198.2C497.9 198.2 500.4 181.7 502.8 174.6C505.7 166.0 508.6 156.4 511.5 151.0C514.7 145.1 517.8 137.5 521.0 137.5C523.5 137.5 526.0 144.1 528.5 151.0C530.1 155.3 531.6 166.8 533.2 174.6C535.1 183.8 536.9 193.0 538.8 202.0" stroke="#141414" stroke-width="0.7"/>
<path d="M58.5 130.0C59.7 126.8 60.8 123.7 62.0 122.5C63.7 120.7 65.5 119.1 67.2 119.1C69.0 119.1 70.7 122.7 72.5 126.0C74.2 129.2 75.9 136.0 77.6 143.5C79.3 151.0 81.0 162.8 82.7 174.6C84.8 189.0 86.9 213.2 89.0 225.0C91.5 239.2 94.1 257.3 96.6 257.3C97.7 257.3 98.9 246.3 100.0 238.0C101.9 224.3 103.7 191.8 105.6 174.6C107.5 157.0 109.4 140.4 111.3 130.0C113.0 120.5 114.8 110.8 116.5 108.0C118.6 104.6 120.8 101.9 122.9 101.9C124.2 101.9 125.5 106.7 126.8 112.0C127.7 115.8 128.7 125.2 129.6 135.0C130.5 144.5 131.4 162.0 132.3 174.6C133.7 194.1 135.1 215.9 136.5 230.0C138.2 247.4 140.0 271.5 141.7 271.5C143.3 271.5 144.9 247.4 146.5 230.0C147.8 215.9 149.1 192.9 150.4 174.6C151.9 152.9 153.5 120.9 155.0 110.0C157.2 94.7 159.3 80.4 161.5 80.4C163.2 80.4 164.8 95.8 166.5 110.0C168.0 122.5 169.4 153.5 170.9 174.6C172.1 191.7 173.3 215.4 174.5 225.0C176.0 237.0 177.5 249.6 179.0 249.6C181.0 249.6 183.0 230.1 185.0 218.0C187.0 205.7 189.1 186.1 191.1 174.6C192.9 164.4 194.7 149.0 196.5 149.0C198.3 149.0 200.2 149.7 202.0 150.5C203.7 151.3 205.3 155.2 207.0 157.5C209.2 160.5 211.3 162.9 213.5 166.3C215.0 168.7 216.6 172.4 218.1 174.6C220.3 177.6 222.5 182.0 224.7 182.0C226.9 182.0 229.1 176.1 231.3 174.6C233.3 173.2 235.2 171.6 237.2 171.6C240.9 171.6 244.5 174.9 248.2 174.9C252.1 174.9 256.1 170.3 260.0 170.3C265.4 170.3 270.8 178.4 276.2 178.4C281.3 178.4 286.5 168.8 291.6 168.8C293.8 168.8 296.0 171.5 298.2 174.6C300.0 177.0 301.7 186.0 303.5 190.0C305.2 193.9 307.0 199.6 308.7 199.6C310.8 199.6 313.0 182.6 315.1 174.6C317.5 165.6 319.8 156.5 322.2 148.6C324.6 140.7 326.9 126.7 329.3 126.7C331.0 126.7 332.8 137.3 334.5 145.0C336.1 152.3 337.8 165.8 339.4 174.6C343.3 195.4 347.2 229.2 351.1 229.2C354.6 229.2 358.0 194.0 361.5 174.6C363.1 165.6 364.7 152.9 366.3 146.0C368.1 138.3 369.9 128.0 371.7 128.0C374.6 128.0 377.6 144.9 380.5 155.0C382.2 160.9 383.9 169.4 385.6 174.6C387.4 180.0 389.2 187.0 391.0 188.0C394.0 189.6 397.0 190.5 400.0 190.5C402.0 190.5 404.0 189.8 406.0 189.3C408.0 188.8 410.0 188.1 412.0 187.0C413.6 186.1 415.2 184.3 416.8 182.2C418.2 180.4 419.6 176.3 421.0 174.6C422.4 172.9 423.7 171.5 425.1 170.8C426.1 170.3 427.1 169.6 428.1 169.6C429.9 169.6 431.7 171.1 433.5 172.0C435.7 173.1 437.8 175.6 440.0 175.6C445.8 175.6 451.7 171.3 457.5 171.3C461.9 171.3 466.2 172.7 470.6 173.2C473.0 173.5 475.4 173.5 477.8 174.0C479.4 174.3 480.9 175.2 482.5 176.5C484.5 178.2 486.5 187.5 488.5 190.5C490.8 194.0 493.2 198.2 495.5 198.2C497.9 198.2 500.4 180.5 502.8 174.6C503.5 172.8 504.3 171.8 505.0 170.0C506.7 166.0 508.3 158.4 510.0 155.0C512.3 150.4 514.5 144.9 516.8 144.9C518.4 144.9 519.9 150.9 521.5 155.0C523.3 159.8 525.1 167.9 526.9 173.9C530.1 184.4 533.2 193.6 536.4 203.5C537.2 206.0 538.0 208.5 538.8 211.0" stroke="#141414" stroke-width="0.7"/>
<path d="M58.5 130.0C59.7 126.8 60.8 123.7 62.0 122.5C63.7 120.7 65.5 119.1 67.2 119.1C69.0 119.1 70.7 122.7 72.5 126.0C74.2 129.2 75.9 136.0 77.6 143.5C79.3 151.0 81.0 162.8 82.7 174.6C84.8 189.0 86.9 213.2 89.0 225.0C91.5 239.2 94.1 257.3 96.6 257.3C97.7 257.3 98.9 246.3 100.0 238.0C101.9 224.3 103.7 191.8 105.6 174.6C107.5 157.0 109.4 140.4 111.3 130.0C113.0 120.5 114.8 110.8 116.5 108.0C118.6 104.6 120.8 101.9 122.9 101.9C124.2 101.9 125.5 106.7 126.8 112.0C127.7 115.8 128.7 125.2 129.6 135.0C130.5 144.5 131.4 162.0 132.3 174.6C133.7 194.1 135.1 215.9 136.5 230.0C138.2 247.4 140.0 271.5 141.7 271.5C143.3 271.5 144.9 247.4 146.5 230.0C147.8 215.9 149.1 192.9 150.4 174.6C151.9 152.9 153.5 120.9 155.0 110.0C157.2 94.7 159.3 80.4 161.5 80.4C163.2 80.4 164.8 95.8 166.5 110.0C168.0 122.5 169.4 153.5 170.9 174.6C172.1 191.7 173.3 215.4 174.5 225.0C176.0 237.0 177.5 249.6 179.0 249.6C181.0 249.6 183.0 230.1 185.0 218.0C187.0 205.7 189.1 186.1 191.1 174.6C192.9 164.4 194.7 149.0 196.5 149.0C198.3 149.0 200.2 149.7 202.0 150.5C203.7 151.3 205.3 155.2 207.0 157.5C209.2 160.5 211.3 162.9 213.5 166.3C215.0 168.7 216.6 172.4 218.1 174.6C220.3 177.6 222.5 182.0 224.7 182.0C226.9 182.0 229.1 176.1 231.3 174.6C233.3 173.2 235.2 171.6 237.2 171.6C240.9 171.6 244.5 174.9 248.2 174.9C252.1 174.9 256.1 170.3 260.0 170.3C265.4 170.3 270.8 178.4 276.2 178.4C281.3 178.4 286.5 168.8 291.6 168.8C293.8 168.8 296.0 171.5 298.2 174.6C300.0 177.0 301.7 186.0 303.5 190.0C305.2 193.9 307.0 199.6 308.7 199.6C310.8 199.6 313.0 182.6 315.1 174.6C317.5 165.6 319.8 156.5 322.2 148.6C324.6 140.7 326.9 126.7 329.3 126.7C331.0 126.7 332.8 137.3 334.5 145.0C336.1 152.3 337.8 165.8 339.4 174.6C343.3 195.4 347.2 229.2 351.1 229.2C354.6 229.2 358.0 194.0 361.5 174.6C363.1 165.6 364.7 152.9 366.3 146.0C368.1 138.3 369.9 128.0 371.7 128.0C374.6 128.0 377.6 144.9 380.5 155.0C382.2 160.9 383.9 169.4 385.6 174.6C387.4 180.0 389.2 187.0 391.0 188.0C394.0 189.6 397.0 190.5 400.0 190.5C402.0 190.5 404.0 189.8 406.0 189.3C408.0 188.8 410.0 188.1 412.0 187.0C413.6 186.1 415.2 184.3 416.8 182.2C418.2 180.4 419.6 176.3 421.0 174.6C422.4 172.9 423.7 171.5 425.1 170.8C426.1 170.3 427.1 169.6 428.1 169.6C429.9 169.6 431.7 171.1 433.5 172.0C435.7 173.1 437.8 175.6 440.0 175.6C445.8 175.6 451.7 171.3 457.5 171.3C461.9 171.3 466.2 172.7 470.6 173.2C473.0 173.5 475.4 173.5 477.8 174.0C479.4 174.3 480.9 175.2 482.5 176.5C484.5 178.2 486.5 187.5 488.5 190.5C490.8 194.0 493.2 198.2 495.5 198.2C497.9 198.2 500.4 178.4 502.8 174.6C503.5 173.4 504.3 173.1 505.0 172.0C506.7 169.5 508.3 163.6 510.0 160.0C511.8 156.0 513.7 149.0 515.5 149.0C516.7 149.0 517.8 153.5 519.0 157.0C520.3 160.9 521.6 169.4 522.9 173.9C526.5 186.4 530.1 193.4 533.7 203.5C535.4 208.3 537.1 213.1 538.8 218.0" stroke="#141414" stroke-width="0.7"/>
<path d="M58.5 130.0C59.7 126.8 60.8 123.7 62.0 122.5C63.7 120.7 65.5 119.1 67.2 119.1C69.0 119.1 70.7 122.7 72.5 126.0C74.2 129.2 75.9 136.0 77.6 143.5C79.3 151.0 81.0 162.8 82.7 174.6C84.8 189.0 86.9 213.2 89.0 225.0C91.5 239.2 94.1 257.3 96.6 257.3C97.7 257.3 98.9 246.3 100.0 238.0C101.9 224.3 103.7 191.8 105.6 174.6C107.5 157.0 109.4 140.4 111.3 130.0C113.0 120.5 114.8 110.8 116.5 108.0C118.6 104.6 120.8 101.9 122.9 101.9C124.2 101.9 125.5 106.7 126.8 112.0C127.7 115.8 128.7 125.2 129.6 135.0C130.5 144.5 131.4 162.0 132.3 174.6C133.7 194.1 135.1 215.9 136.5 230.0C138.2 247.4 140.0 271.5 141.7 271.5C143.3 271.5 144.9 247.4 146.5 230.0C147.8 215.9 149.1 192.9 150.4 174.6C151.9 152.9 153.5 120.9 155.0 110.0C157.2 94.7 159.3 80.4 161.5 80.4C163.2 80.4 164.8 95.8 166.5 110.0C168.0 122.5 169.4 153.5 170.9 174.6C172.1 191.7 173.3 215.4 174.5 225.0C176.0 237.0 177.5 249.6 179.0 249.6C181.0 249.6 183.0 230.1 185.0 218.0C187.0 205.7 189.1 186.1 191.1 174.6C192.9 164.4 194.7 149.0 196.5 149.0C198.3 149.0 200.2 149.7 202.0 150.5C203.7 151.3 205.3 155.2 207.0 157.5C209.2 160.5 211.3 162.9 213.5 166.3C215.0 168.7 216.6 172.4 218.1 174.6C220.3 177.6 222.5 182.0 224.7 182.0C226.9 182.0 229.1 176.1 231.3 174.6C233.3 173.2 235.2 171.6 237.2 171.6C240.9 171.6 244.5 174.9 248.2 174.9C252.1 174.9 256.1 170.3 260.0 170.3C265.4 170.3 270.8 178.4 276.2 178.4C281.3 178.4 286.5 168.8 291.6 168.8C293.8 168.8 296.0 171.5 298.2 174.6C300.0 177.0 301.7 186.0 303.5 190.0C305.2 193.9 307.0 199.6 308.7 199.6C310.8 199.6 313.0 182.6 315.1 174.6C317.5 165.6 319.8 156.5 322.2 148.6C324.6 140.7 326.9 126.7 329.3 126.7C331.0 126.7 332.8 137.3 334.5 145.0C336.1 152.3 337.8 165.8 339.4 174.6C343.3 195.4 347.2 229.2 351.1 229.2C354.6 229.2 358.0 194.0 361.5 174.6C363.1 165.6 364.7 152.9 366.3 146.0C368.1 138.3 369.9 128.0 371.7 128.0C374.6 128.0 377.6 144.9 380.5 155.0C382.2 160.9 383.9 169.4 385.6 174.6C387.4 180.0 389.2 187.0 391.0 188.0C394.0 189.6 397.0 190.5 400.0 190.5C402.0 190.5 404.0 189.8 406.0 189.3C408.0 188.8 410.0 188.1 412.0 187.0C413.6 186.1 415.2 184.3 416.8 182.2C418.2 180.4 419.6 176.3 421.0 174.6C422.4 172.9 423.7 171.5 425.1 170.8C426.1 170.3 427.1 169.6 428.1 169.6C429.9 169.6 431.7 171.1 433.5 172.0C435.7 173.1 437.8 175.6 440.0 175.6C445.8 175.6 451.7 171.3 457.5 171.3C461.9 171.3 466.2 172.7 470.6 173.2C473.0 173.5 475.4 173.5 477.8 174.0C479.4 174.3 480.9 175.2 482.5 176.5C484.5 178.2 486.5 187.5 488.5 190.5C490.8 194.0 493.2 198.2 495.5 198.2C497.9 198.2 500.4 181.7 502.8 174.6C505.7 166.0 508.6 156.4 511.5 151.0C514.7 145.1 517.8 137.5 521.0 137.5C523.5 137.5 526.0 144.1 528.5 151.0C530.1 155.3 531.6 166.8 533.2 174.6C535.1 183.8 536.9 193.0 538.8 202.0" stroke="#d41c24" stroke-width="2.0"/>
</g>
<path d="M68.63 316.70v-3.0M68.63 32.40v3.0M86.10 316.70v-3.0M86.10 32.40v3.0M103.56 316.70v-3.0M103.56 32.40v3.0M121.03 316.70v-5.5M121.03 32.40v5.5M138.49 316.70v-3.0M138.49 32.40v3.0M155.96 316.70v-3.0M155.96 32.40v3.0M173.42 316.70v-3.0M173.42 32.40v3.0M190.89 316.70v-3.0M190.89 32.40v3.0M208.35 316.70v-5.5M208.35 32.40v5.5M225.82 316.70v-3.0M225.82 32.40v3.0M243.28 316.70v-3.0M243.28 32.40v3.0M260.75 316.70v-3.0M260.75 32.40v3.0M278.22 316.70v-3.0M278.22 32.40v3.0M295.68 316.70v-5.5M295.68 32.40v5.5M313.15 316.70v-3.0M313.15 32.40v3.0M330.61 316.70v-3.0M330.61 32.40v3.0M348.08 316.70v-3.0M348.08 32.40v3.0M365.54 316.70v-3.0M365.54 32.40v3.0M383.01 316.70v-5.5M383.01 32.40v5.5M400.47 316.70v-3.0M400.47 32.40v3.0M417.94 316.70v-3.0M417.94 32.40v3.0M435.40 316.70v-3.0M435.40 32.40v3.0M452.87 316.70v-3.0M452.87 32.40v3.0M470.34 316.70v-5.5M470.34 32.40v5.5M487.80 316.70v-3.0M487.80 32.40v3.0M505.27 316.70v-3.0M505.27 32.40v3.0M522.73 316.70v-3.0M522.73 32.40v3.0M58.50 302.49h3.0M538.80 302.49h-3.0M58.50 288.27h3.0M538.80 288.27h-3.0M58.50 274.06h3.0M538.80 274.06h-3.0M58.50 259.84h3.0M538.80 259.84h-3.0M58.50 245.62h5.5M538.80 245.62h-5.5M58.50 231.41h3.0M538.80 231.41h-3.0M58.50 217.19h3.0M538.80 217.19h-3.0M58.50 202.98h3.0M538.80 202.98h-3.0M58.50 188.76h3.0M538.80 188.76h-3.0M58.50 174.55h5.5M538.80 174.55h-5.5M58.50 160.33h3.0M538.80 160.33h-3.0M58.50 146.12h3.0M538.80 146.12h-3.0M58.50 131.90h3.0M538.80 131.90h-3.0M58.50 117.69h3.0M538.80 117.69h-3.0M58.50 103.47h5.5M538.80 103.47h-5.5M58.50 89.26h3.0M538.80 89.26h-3.0M58.50 75.04h3.0M538.80 75.04h-3.0M58.50 60.83h3.0M538.80 60.83h-3.0M58.50 46.62h3.0M538.80 46.62h-3.0" stroke="#000" stroke-width="1.1" fill="none"/>
<rect x="58.50" y="32.40" width="480.30" height="284.30" fill="none" stroke="#000" stroke-width="1.3"/>
<text x="121.03" y="327.00" font-size="11.37" text-anchor="middle" textLength="28.38" lengthAdjust="spacingAndGlyphs" >2000</text>
<text x="208.35" y="327.00" font-size="11.37" text-anchor="middle" textLength="28.38" lengthAdjust="spacingAndGlyphs" >2005</text>
<text x="295.68" y="327.00" font-size="11.37" text-anchor="middle" textLength="28.38" lengthAdjust="spacingAndGlyphs" >2010</text>
<text x="383.01" y="327.00" font-size="11.37" text-anchor="middle" textLength="28.38" lengthAdjust="spacingAndGlyphs" >2015</text>
<text x="470.34" y="327.00" font-size="11.37" text-anchor="middle" textLength="28.38" lengthAdjust="spacingAndGlyphs" >2020</text>
<text x="56.10" y="320.75" font-size="11.37" text-anchor="end" textLength="23.53" lengthAdjust="spacingAndGlyphs" >−10</text>
<text x="56.10" y="249.68" font-size="11.37" text-anchor="end" textLength="16.44" lengthAdjust="spacingAndGlyphs" >−5</text>
<text x="56.10" y="178.60" font-size="11.37" text-anchor="end" textLength="7.09" lengthAdjust="spacingAndGlyphs" >0</text>
<text x="56.10" y="107.52" font-size="11.37" text-anchor="end" textLength="7.09" lengthAdjust="spacingAndGlyphs" >5</text>
<text x="56.10" y="36.45" font-size="11.37" text-anchor="end" textLength="14.19" lengthAdjust="spacingAndGlyphs" >10</text>
<path d="M119.35 341.60V625.70M207.13 341.60V625.70M294.92 341.60V625.70M382.70 341.60V625.70M470.48 341.60V625.70M56.50 554.68H539.30M56.50 483.65H539.30M56.50 412.62H539.30" stroke="#b4b4b4" stroke-width="0.85" stroke-dasharray="2.6,1.7" fill="none"/>
<clipPath id="cb"><rect x="56.5" y="341.6" width="482.79999999999995" height="284.1"/></clipPath>
<g clip-path="url(#cb)" fill="none" stroke-linejoin="round">
<path d="M56.5 393.5C58.2 393.5 60.0 393.8 61.7 394.3C63.9 394.8 66.2 402.8 68.4 409.7C70.0 414.9 71.7 424.6 73.3 431.9C74.8 438.6 76.3 445.3 77.8 451.7C79.1 457.1 80.4 460.6 81.6 467.5C82.2 470.6 82.8 475.4 83.4 479.8C84.5 488.8 85.7 498.7 86.8 509.5C87.8 518.9 88.8 533.0 89.8 540.4C90.8 548.2 91.9 555.2 93.0 558.5C94.1 562.1 95.2 565.9 96.4 565.9C97.8 565.9 99.2 553.4 100.6 541.7C101.9 530.2 103.3 498.0 104.7 479.9C106.3 459.1 107.9 436.4 109.5 424.6C111.7 408.2 113.9 389.4 116.1 389.4C118.8 389.4 121.4 403.4 124.1 417.5C126.2 428.7 128.2 458.4 130.3 480.7C131.8 496.7 133.4 515.5 134.9 531.4C136.3 546.8 137.8 574.9 139.2 574.9C140.7 574.9 142.1 548.4 143.5 533.7C145.0 518.0 146.6 502.8 148.1 483.2C149.6 463.1 151.2 426.8 152.8 410.9C154.2 396.4 155.6 378.3 157.1 378.3C158.8 378.3 160.6 396.4 162.3 410.0C164.4 426.3 166.5 455.7 168.6 480.3C170.0 496.7 171.4 524.7 172.8 531.8C174.3 539.2 175.7 545.7 177.2 545.7C178.5 545.7 179.9 543.1 181.2 540.6C182.7 537.7 184.2 530.1 185.8 522.3C187.6 512.8 189.4 491.5 191.3 481.4C192.5 475.0 193.6 468.4 194.8 465.8C196.4 462.2 198.1 458.8 199.7 458.8C202.9 458.8 206.0 467.6 209.1 471.5C212.7 476.1 216.3 484.3 220.0 484.3C224.1 484.3 228.3 470.5 232.4 470.5C237.1 470.5 241.9 483.6 246.6 483.6C251.0 483.6 255.5 473.3 260.0 473.3C265.0 473.3 269.9 483.2 274.9 483.2C279.1 483.2 283.3 475.9 287.5 475.9C289.6 475.9 291.7 478.5 293.8 481.4C295.9 484.3 298.1 496.4 300.2 503.4C302.2 509.9 304.3 522.0 306.3 522.0C307.8 522.0 309.3 515.2 310.8 509.3C312.2 503.9 313.5 492.6 314.9 482.6C316.6 470.0 318.4 449.6 320.1 438.9C322.2 425.9 324.3 408.5 326.4 408.5C328.3 408.5 330.2 419.9 332.1 429.7C334.2 440.6 336.2 466.6 338.3 483.7C340.3 499.9 342.3 518.5 344.3 530.0C346.5 543.1 348.8 561.0 351.0 561.0C352.7 561.0 354.4 542.4 356.1 529.3C357.6 517.4 359.2 499.5 360.7 482.8C362.3 466.3 363.8 439.9 365.3 429.1C367.1 416.3 368.9 402.1 370.7 402.1C372.8 402.1 374.8 419.0 376.8 429.1C378.8 439.4 380.9 455.4 382.9 464.2C384.3 470.2 385.7 473.7 387.1 479.0C388.5 484.1 389.8 491.3 391.1 495.5C393.6 503.6 396.2 514.4 398.7 514.4C402.2 514.4 405.7 511.6 409.2 508.9C412.7 506.2 416.2 498.7 419.7 492.9C422.0 488.9 424.4 480.0 426.8 480.0C430.6 480.0 434.3 482.6 438.1 482.6C443.1 482.6 448.2 475.4 453.3 475.4C457.5 475.4 461.7 480.3 466.0 480.3C469.6 480.3 473.3 477.5 477.0 477.5C479.8 477.5 482.6 485.4 485.4 492.1C486.7 495.3 488.0 503.0 489.4 505.8C491.1 509.4 492.9 513.5 494.6 513.5C496.0 513.5 497.4 508.6 498.8 504.4C500.4 499.7 501.9 488.8 503.5 480.7C504.7 474.0 506.0 466.0 507.3 460.0C509.4 450.0 511.6 438.8 513.7 433.7C515.9 428.5 518.1 422.7 520.3 422.7C523.7 422.7 527.1 436.7 530.5 446.3C532.8 452.8 535.1 462.0 537.5 470.3C538.1 472.5 538.7 474.8 539.3 477.0" stroke="#141414" stroke-width="0.7"/>
<path d="M56.5 438.0C58.1 437.7 59.8 437.7 61.4 437.7C63.2 437.7 65.0 443.1 66.7 445.8C68.4 448.4 70.1 450.5 71.8 453.7C73.0 456.0 74.3 459.0 75.5 462.3C76.7 465.5 78.0 468.9 79.2 473.7C79.9 476.7 80.7 480.4 81.5 485.2C82.6 492.0 83.7 504.9 84.8 513.6C86.2 524.9 87.6 534.9 89.1 544.5C90.1 551.3 91.1 559.0 92.1 563.7C93.2 568.8 94.4 575.8 95.5 575.8C96.4 575.8 97.3 555.8 98.2 544.3C99.6 526.6 101.0 501.6 102.4 484.4C104.0 464.8 105.6 439.5 107.2 433.0C109.3 424.2 111.5 417.3 113.7 417.3C116.7 417.3 119.8 421.5 122.9 428.4C124.9 433.0 126.9 463.3 128.9 484.2C130.4 499.2 131.8 518.8 133.3 534.9C134.7 551.1 136.2 581.3 137.7 581.3C139.2 581.3 140.6 550.4 142.1 535.0C143.8 518.1 145.4 503.7 147.0 484.3C148.7 464.5 150.4 424.1 152.0 414.7C153.5 406.2 155.0 398.6 156.5 398.6C158.3 398.6 160.1 407.4 161.9 416.3C164.0 426.8 166.1 460.3 168.3 484.3C169.7 500.5 171.1 523.2 172.6 535.5C174.1 548.6 175.6 566.1 177.1 566.1C178.5 566.1 179.9 556.0 181.2 550.0C182.8 543.3 184.3 535.9 185.8 526.8C187.7 515.8 189.5 495.9 191.4 486.0C192.6 479.6 193.8 472.4 195.0 470.5C196.6 468.0 198.3 466.0 199.9 466.0C203.1 466.0 206.2 471.6 209.4 474.8C213.0 478.6 216.6 487.8 220.3 487.8C224.4 487.8 228.6 473.4 232.8 473.4C237.5 473.4 242.3 486.3 247.0 486.3C251.5 486.3 256.0 475.8 260.5 475.8C265.5 475.8 270.5 485.1 275.5 485.1C279.8 485.1 284.0 483.3 288.2 483.3C290.3 483.3 292.4 483.9 294.6 484.8C296.7 485.7 298.9 499.0 301.1 505.9C303.0 512.3 305.0 524.8 307.0 524.8C308.5 524.8 309.9 516.4 311.4 509.5C312.6 503.6 313.8 493.0 315.1 483.1C316.7 470.5 318.3 449.8 319.9 439.8C321.9 427.2 323.9 411.3 325.9 411.3C327.7 411.3 329.5 421.4 331.3 430.3C333.4 440.5 335.4 467.2 337.5 484.0C339.4 500.2 341.4 517.1 343.4 530.0C345.7 544.8 347.9 568.1 350.2 568.1C351.9 568.1 353.7 544.3 355.4 529.8C357.0 516.4 358.6 500.3 360.2 483.6C361.7 467.2 363.3 438.2 364.8 430.1C366.7 420.5 368.5 411.9 370.3 411.9C372.3 411.9 374.3 424.5 376.3 433.4C378.4 442.5 380.4 459.5 382.5 469.2C383.8 475.7 385.2 479.8 386.6 485.8C387.9 491.7 389.2 500.5 390.6 505.2C393.2 514.1 395.7 525.1 398.3 525.1C401.0 525.1 403.6 523.2 406.3 521.4C409.4 519.1 412.6 512.0 415.8 507.8C419.7 502.6 423.7 493.6 427.6 493.3C431.5 493.1 435.4 493.2 439.2 493.0C444.3 492.7 449.4 486.5 454.4 486.5C458.6 486.5 462.7 491.9 466.9 491.9C470.4 491.9 473.9 491.1 477.5 491.1C480.2 491.1 482.9 496.2 485.6 501.5C486.8 504.0 488.1 510.6 489.3 514.0C491.1 518.6 492.8 525.5 494.5 525.5C495.9 525.5 497.2 517.5 498.6 511.8C500.2 505.3 501.8 494.3 503.3 485.9C504.6 478.8 506.0 470.9 507.3 465.0C509.4 455.3 511.6 444.0 513.8 440.4C516.0 436.7 518.2 433.4 520.4 433.4C523.8 433.4 527.2 446.9 530.6 458.4C532.9 466.1 535.2 481.6 537.5 493.2C538.1 496.4 538.7 499.6 539.3 502.7" stroke="#141414" stroke-width="0.7"/>
<path d="M56.5 415.7C58.5 413.9 60.4 413.9 62.4 413.9C64.3 413.9 66.2 421.5 68.2 426.5C69.8 430.8 71.5 436.6 73.1 442.1C74.5 446.6 75.8 451.3 77.2 456.2C78.4 460.8 79.7 464.5 80.9 470.5C81.6 473.8 82.3 478.4 83.0 483.3C84.2 491.3 85.3 503.2 86.4 512.8C87.6 523.3 88.9 535.0 90.1 543.5C91.1 550.4 92.1 558.0 93.1 561.4C94.2 565.0 95.3 568.9 96.3 568.9C97.4 568.9 98.4 554.3 99.5 543.3C100.8 529.4 102.1 499.6 103.4 482.2C105.0 461.9 106.5 438.9 108.1 429.3C110.2 415.9 112.4 402.8 114.6 402.8C117.5 402.8 120.3 412.4 123.2 424.2C125.2 432.6 127.3 462.0 129.3 483.5C130.8 498.8 132.2 518.0 133.7 533.4C135.1 548.8 136.6 576.5 138.0 576.5C139.5 576.5 140.9 549.2 142.4 534.6C144.0 518.6 145.6 503.6 147.2 484.3C148.9 464.2 150.5 428.0 152.2 413.0C153.7 399.3 155.2 382.6 156.7 382.6C158.6 382.6 160.4 399.6 162.3 412.7C164.5 428.4 166.7 458.8 168.9 483.0C170.5 499.7 172.0 524.5 173.5 534.5C175.1 544.7 176.7 556.1 178.3 556.1C179.6 556.1 181.0 549.6 182.3 544.8C183.8 539.6 185.3 532.1 186.7 523.3C188.5 512.9 190.2 492.4 191.9 482.2C193.0 475.9 194.0 469.0 195.1 466.8C196.6 463.5 198.2 460.7 199.7 460.7C202.8 460.7 205.9 468.8 209.0 472.6C212.6 477.1 216.2 485.5 219.9 485.5C224.0 485.5 228.2 471.9 232.4 471.9C237.1 471.9 241.8 484.3 246.5 484.3C251.0 484.3 255.5 475.1 259.9 475.1C264.9 475.1 269.9 484.6 274.9 484.6C279.1 484.6 283.3 480.8 287.5 480.8C289.6 480.8 291.7 481.6 293.8 482.9C296.0 484.2 298.2 497.4 300.4 504.3C302.4 510.7 304.4 522.9 306.5 522.9C308.0 522.9 309.5 515.8 311.0 509.7C312.4 504.2 313.8 493.3 315.2 483.5C317.0 470.9 318.7 450.4 320.5 439.7C322.7 426.7 324.8 409.3 327.0 409.3C328.9 409.3 330.8 420.1 332.8 429.6C334.9 440.0 337.0 466.1 339.1 483.3C341.1 499.4 343.1 517.9 345.1 529.8C347.4 543.1 349.6 561.9 351.8 561.9C353.5 561.9 355.2 543.4 356.8 530.5C358.3 518.7 359.9 501.5 361.4 485.0C362.9 468.9 364.4 440.8 365.8 432.0C367.6 421.5 369.4 411.4 371.1 411.4C373.1 411.4 375.0 424.7 377.0 433.6C378.9 442.8 380.9 459.4 382.9 468.5C384.3 474.6 385.6 478.5 387.0 483.9C388.3 489.2 389.7 496.8 391.0 500.8C393.6 508.5 396.2 517.9 398.9 517.9C401.9 517.9 405.0 514.8 408.1 512.1C411.4 509.1 414.8 501.3 418.2 496.7C421.6 492.0 424.9 483.8 428.3 483.8C432.2 483.8 436.1 485.9 439.9 485.9C445.0 485.9 450.1 479.7 455.2 479.7C459.4 479.7 463.5 486.0 467.7 486.0C471.3 486.0 474.9 485.1 478.4 485.1C481.1 485.1 483.8 491.2 486.5 497.1C487.8 499.8 489.0 507.0 490.3 509.9C492.0 513.9 493.7 518.9 495.4 518.9C496.7 518.9 498.1 512.6 499.4 507.6C500.9 502.1 502.4 491.3 503.8 482.7C505.0 475.8 506.2 467.4 507.4 461.3C509.5 451.0 511.5 439.9 513.6 435.1C515.7 430.2 517.8 425.0 519.9 425.0C523.3 425.0 526.6 438.7 530.0 448.4C532.3 455.1 534.6 467.2 536.9 473.8C537.7 476.1 538.5 478.0 539.3 479.7" stroke="#141414" stroke-width="0.7"/>
<path d="M56.5 422.4C58.5 418.7 60.5 418.7 62.6 418.7C64.4 418.7 66.2 425.7 68.0 430.2C69.6 434.3 71.3 439.8 72.9 445.2C74.1 449.3 75.4 454.1 76.7 458.6C77.9 463.0 79.0 466.3 80.2 471.9C80.9 475.1 81.6 479.3 82.3 484.3C83.3 491.9 84.4 504.8 85.4 513.9C86.7 525.4 88.1 536.5 89.4 545.7C90.4 552.8 91.4 561.2 92.4 564.6C93.6 568.3 94.7 572.2 95.9 572.2C96.9 572.2 97.9 555.9 99.0 544.8C100.4 529.4 101.8 501.4 103.2 483.6C104.8 463.6 106.4 440.1 108.1 430.8C110.2 418.3 112.4 406.2 114.6 406.2C117.6 406.2 120.6 414.3 123.6 425.2C125.6 432.5 127.6 462.2 129.6 483.6C131.1 498.9 132.5 518.6 134.0 534.1C135.4 549.8 136.9 577.7 138.3 577.7C139.8 577.7 141.3 548.9 142.7 534.0C144.4 517.6 146.0 503.0 147.6 483.6C149.2 464.0 150.9 426.3 152.6 414.1C154.0 403.1 155.5 391.5 157.0 391.5C158.8 391.5 160.5 403.9 162.3 415.0C164.4 428.0 166.5 459.8 168.6 484.0C170.0 500.3 171.4 523.7 172.8 535.3C174.3 547.6 175.8 563.0 177.3 563.0C178.7 563.0 180.1 553.5 181.5 547.7C183.1 541.1 184.6 533.6 186.2 524.5C188.1 513.4 190.1 493.0 192.0 483.2C193.3 476.9 194.5 470.2 195.8 468.1C197.5 465.1 199.2 462.7 200.9 462.7C204.1 462.7 207.3 470.5 210.5 474.3C214.1 478.7 217.8 487.3 221.4 487.3C225.6 487.3 229.7 473.6 233.9 473.6C238.6 473.6 243.2 485.3 247.9 485.3C252.3 485.3 256.7 475.6 261.1 475.6C266.0 475.6 270.9 485.1 275.8 485.1C279.9 485.1 284.0 482.2 288.2 482.2C290.2 482.2 292.3 482.9 294.4 484.0C296.5 485.1 298.7 498.5 300.8 505.4C302.9 511.9 304.9 524.3 306.9 524.3C308.4 524.3 310.0 517.0 311.5 510.7C312.8 505.2 314.2 494.4 315.5 484.4C317.2 472.0 318.9 450.9 320.6 440.6C322.6 427.9 324.7 411.7 326.8 411.7C328.6 411.7 330.5 421.5 332.3 430.4C334.4 440.4 336.5 467.2 338.6 484.0C340.7 500.4 342.7 518.4 344.7 530.2C347.1 543.7 349.4 562.7 351.7 562.7C353.5 562.7 355.2 543.0 357.0 529.4C358.6 517.3 360.1 499.9 361.7 483.0C363.2 466.9 364.7 439.3 366.2 429.8C368.0 418.7 369.7 407.5 371.5 407.5C373.4 407.5 375.3 422.2 377.3 431.7C379.2 441.3 381.2 457.7 383.1 466.9C384.4 473.0 385.7 476.7 387.0 482.2C388.2 487.6 389.5 495.5 390.7 499.7C393.2 508.0 395.7 518.2 398.2 518.2C400.9 518.2 403.6 515.7 406.3 513.4C409.4 510.7 412.6 502.6 415.7 498.4C419.5 493.5 423.2 485.7 426.9 485.7C430.8 485.7 434.7 488.2 438.6 488.2C443.7 488.2 448.8 482.7 453.9 482.7C458.1 482.7 462.4 489.0 466.6 489.0C470.1 489.0 473.6 487.4 477.2 487.4C479.9 487.4 482.5 492.3 485.2 497.5C486.4 499.8 487.5 506.6 488.7 509.5C490.3 513.5 492.0 518.6 493.6 518.6C494.9 518.6 496.3 512.8 497.6 508.3C499.2 503.0 500.7 492.4 502.3 484.5C503.6 477.7 504.9 469.9 506.2 464.1C508.4 454.5 510.6 443.2 512.8 439.7C515.0 436.1 517.2 432.8 519.5 432.8C522.9 432.8 526.4 446.1 529.8 456.9C532.2 464.4 534.6 480.1 537.0 489.7C537.7 492.8 538.5 495.6 539.3 498.3" stroke="#141414" stroke-width="0.7"/>
<path d="M56.5 393.3C58.2 393.3 59.9 395.5 61.5 397.7C63.4 400.1 65.3 407.8 67.1 414.1C68.8 419.8 70.5 426.7 72.1 433.9C73.4 439.4 74.7 446.0 76.0 451.8C77.2 457.2 78.4 461.2 79.6 467.4C80.2 470.8 80.9 474.7 81.5 479.6C82.5 487.1 83.5 499.9 84.5 508.5C85.8 519.5 87.1 529.9 88.4 538.3C89.4 544.9 90.4 552.4 91.5 555.7C92.6 559.5 93.8 563.5 95.0 563.5C96.0 563.5 97.1 550.5 98.2 540.5C99.7 527.1 101.1 498.0 102.6 480.1C104.2 459.9 105.9 437.8 107.6 425.8C109.8 409.5 112.0 390.3 114.3 390.3C117.3 390.3 120.3 402.9 123.4 417.3C125.4 427.3 127.5 458.8 129.6 480.9C131.1 497.1 132.6 516.1 134.2 531.6C135.7 547.4 137.3 575.2 138.8 575.2C140.4 575.2 142.0 549.0 143.5 534.7C145.3 519.1 147.0 504.5 148.7 484.9C150.4 465.1 152.2 429.3 153.9 412.2C155.4 397.1 157.0 376.7 158.5 376.7C160.3 376.7 162.1 396.6 163.9 411.1C165.9 427.9 168.0 456.5 170.1 481.3C171.4 497.3 172.7 528.6 174.1 532.1C175.5 535.8 176.9 538.2 178.3 538.2C179.6 538.2 180.8 537.9 182.1 537.3C183.6 536.7 185.1 528.6 186.5 521.6C188.4 512.9 190.2 490.7 192.0 481.0C193.2 474.6 194.4 468.1 195.6 465.6C197.3 462.0 199.0 458.8 200.7 458.8C203.9 458.8 207.2 467.8 210.4 471.7C214.0 476.1 217.7 483.7 221.4 483.7C225.6 483.7 229.8 468.3 234.0 468.3C238.7 468.3 243.4 481.8 248.1 481.8C252.5 481.8 256.8 470.8 261.2 470.8C266.1 470.8 270.9 481.9 275.7 481.9C279.8 481.9 283.9 470.2 287.9 470.2C289.9 470.2 291.9 474.6 293.9 478.6C296.0 482.8 298.2 493.9 300.3 500.8C302.3 507.4 304.3 519.6 306.4 519.6C307.9 519.6 309.5 514.2 311.0 508.9C312.4 504.1 313.8 492.7 315.2 482.7C316.9 470.3 318.6 450.0 320.4 439.0C322.4 425.9 324.5 407.7 326.6 407.7C328.4 407.7 330.2 419.4 332.0 429.3C334.0 440.3 336.1 466.1 338.1 482.9C340.0 499.1 342.0 517.8 343.9 528.9C346.2 541.8 348.5 559.0 350.7 559.0C352.4 559.0 354.1 541.0 355.9 528.3C357.5 516.5 359.1 498.8 360.7 482.1C362.2 465.8 363.8 440.2 365.4 428.7C367.2 415.2 369.0 399.2 370.9 399.2C372.8 399.2 374.8 418.0 376.8 428.6C378.9 439.5 380.9 455.3 383.0 464.3C384.4 470.4 385.8 474.1 387.2 479.4C388.6 484.7 390.0 491.8 391.3 496.0C394.0 503.9 396.6 514.4 399.2 514.4C402.1 514.4 404.9 511.1 407.8 508.3C411.1 505.0 414.4 496.2 417.6 491.6C421.3 486.4 425.1 478.5 428.8 478.5C432.7 478.5 436.5 481.2 440.4 481.2C445.5 481.2 450.6 474.0 455.7 474.0C459.9 474.0 464.1 478.5 468.3 478.5C471.8 478.5 475.4 474.7 479.0 474.7C481.7 474.7 484.3 483.6 487.0 491.0C488.3 494.4 489.5 502.5 490.7 505.1C492.3 508.6 494.0 512.3 495.6 512.3C496.9 512.3 498.2 508.1 499.5 504.3C501.0 500.0 502.5 489.1 504.0 481.1C505.2 474.4 506.4 466.5 507.7 460.4C509.8 449.9 512.0 439.3 514.1 432.9C516.3 426.3 518.5 417.7 520.7 417.7C524.2 417.7 527.6 433.2 531.1 441.4C533.4 447.1 535.8 449.7 538.1 459.0C538.5 460.7 538.9 463.9 539.3 466.7" stroke="#141414" stroke-width="0.7"/>
<path d="M56.5 451.9C58.3 450.3 60.1 450.0 62.0 450.0C63.8 450.0 65.6 452.4 67.5 453.8C69.1 455.1 70.7 456.2 72.2 458.2C73.5 459.8 74.7 462.3 76.0 465.2C77.1 468.0 78.3 471.3 79.4 476.2C80.1 479.0 80.8 483.4 81.4 488.0C82.5 495.6 83.6 507.5 84.7 516.7C86.1 527.7 87.4 538.8 88.7 548.4C89.7 556.0 90.8 562.8 91.8 569.4C92.9 576.6 94.1 589.9 95.2 589.9C96.3 589.9 97.3 561.3 98.4 546.6C99.8 527.1 101.2 503.9 102.6 486.9C104.2 467.3 105.8 440.2 107.5 435.9C109.7 429.9 111.9 426.1 114.1 426.1C117.1 426.1 120.1 428.7 123.1 433.3C125.2 436.5 127.3 467.4 129.4 487.8C131.0 502.7 132.5 521.6 134.0 538.1C135.6 554.8 137.1 587.5 138.7 587.5C140.2 587.5 141.8 551.2 143.4 534.6C145.1 516.5 146.8 502.9 148.5 483.3C150.3 463.6 152.0 422.0 153.7 413.9C155.2 406.8 156.8 400.9 158.3 400.9C160.0 400.9 161.8 408.5 163.5 416.6C165.5 426.1 167.5 460.0 169.6 484.9C170.9 500.9 172.2 523.5 173.5 537.0C174.9 551.4 176.2 572.2 177.6 572.2C178.9 572.2 180.2 560.1 181.4 553.5C182.9 545.9 184.4 538.4 185.8 529.1C187.7 517.4 189.5 497.9 191.4 488.0C192.6 481.5 193.8 473.1 195.0 472.3C196.7 471.3 198.5 470.7 200.2 470.7C203.4 470.7 206.7 474.3 209.9 477.1C213.6 480.4 217.3 491.5 221.0 491.5C225.3 491.5 229.5 476.0 233.8 476.0C238.6 476.0 243.4 490.8 248.2 490.8C252.7 490.8 257.3 478.7 261.8 478.7C266.8 478.7 271.8 488.3 276.8 488.3C281.0 488.3 285.2 486.5 289.4 486.5C291.5 486.5 293.6 487.0 295.7 487.7C297.9 488.5 300.0 500.9 302.2 507.7C304.2 514.1 306.3 527.5 308.3 527.5C309.8 527.5 311.3 517.1 312.7 509.6C314.1 502.9 315.4 493.2 316.7 483.3C318.4 470.9 320.0 450.0 321.7 440.3C323.7 428.6 325.7 414.4 327.8 414.4C329.5 414.4 331.3 423.3 333.0 431.7C335.0 441.1 337.0 468.2 338.9 485.1C340.8 501.1 342.7 517.4 344.6 530.9C346.7 546.4 348.9 572.4 351.0 572.4C352.7 572.4 354.3 545.8 356.0 530.7C357.5 516.6 359.0 500.9 360.5 484.4C362.1 467.8 363.6 438.7 365.1 430.8C367.0 421.2 368.8 412.8 370.6 412.8C372.7 412.8 374.7 424.8 376.8 433.3C378.9 442.1 380.9 459.0 383.0 468.4C384.5 474.9 385.9 478.8 387.4 485.0C388.8 491.0 390.2 500.2 391.6 505.4C394.2 515.0 396.9 527.7 399.5 527.7C402.4 527.7 405.3 527.3 408.2 526.8C411.5 526.2 414.7 521.8 417.9 518.8C421.5 515.5 425.0 508.0 428.5 507.2C432.3 506.3 436.2 506.4 440.0 505.7C445.0 504.9 450.1 501.5 455.2 501.5C459.4 501.5 463.6 502.8 467.8 502.8C471.4 502.8 474.9 499.1 478.5 499.1C481.3 499.1 484.0 501.9 486.7 505.5C488.0 507.1 489.2 513.2 490.5 516.4C492.2 520.7 493.8 527.8 495.5 527.8C496.8 527.8 498.2 519.2 499.5 513.2C501.0 506.6 502.5 495.7 504.0 487.2C505.2 480.3 506.4 472.4 507.6 466.9C509.7 457.5 511.8 446.3 513.9 443.9C516.0 441.4 518.2 439.5 520.3 439.5C523.7 439.5 527.1 455.9 530.5 469.3C532.8 478.6 535.2 495.9 537.5 509.5C538.1 513.1 538.7 516.7 539.3 520.3" stroke="#141414" stroke-width="0.7"/>
<path d="M56.5 384.6C58.0 385.2 59.5 387.3 61.0 389.6C63.3 393.0 65.5 400.4 67.7 408.2C69.4 414.0 71.0 423.7 72.7 431.1C74.2 437.8 75.7 444.2 77.2 450.8C78.4 456.2 79.6 459.7 80.8 467.0C81.3 470.0 81.8 475.2 82.3 479.6C83.4 489.0 84.5 498.5 85.6 509.3C86.6 518.7 87.6 532.9 88.5 539.9C89.6 547.8 90.6 554.6 91.7 557.9C92.9 561.6 94.0 565.5 95.2 565.5C96.7 565.5 98.1 553.2 99.6 541.8C101.0 530.5 102.5 498.7 103.9 480.7C105.5 460.3 107.1 437.8 108.8 426.0C111.0 409.9 113.2 391.2 115.4 391.2C118.1 391.2 120.7 405.3 123.3 419.4C125.4 430.6 127.4 460.3 129.5 482.2C131.0 498.0 132.5 516.6 134.0 531.9C135.5 547.1 137.0 574.3 138.4 574.3C139.9 574.3 141.4 547.5 142.9 533.1C144.5 517.1 146.2 502.3 147.8 482.6C149.5 462.3 151.2 426.1 152.9 409.3C154.4 394.1 156.0 374.2 157.5 374.2C159.4 374.2 161.2 394.4 163.0 409.1C165.2 426.3 167.3 455.6 169.5 480.0C170.9 496.7 172.4 527.7 173.9 531.5C175.4 535.5 176.9 538.2 178.5 538.2C179.8 538.2 181.1 538.0 182.5 537.6C184.0 537.2 185.4 528.8 186.9 521.5C188.7 512.8 190.5 490.8 192.2 480.1C193.3 473.5 194.4 466.4 195.5 463.6C197.1 459.4 198.7 455.5 200.2 455.5C203.4 455.5 206.5 465.5 209.6 469.7C213.3 474.6 217.0 482.6 220.6 482.6C224.8 482.6 229.1 467.9 233.3 467.9C238.1 467.9 242.9 481.6 247.7 481.6C252.2 481.6 256.7 471.5 261.2 471.5C266.2 471.5 271.2 482.6 276.2 482.6C280.4 482.6 284.6 473.9 288.8 473.9C290.9 473.9 293.0 477.4 295.1 480.9C297.2 484.5 299.4 496.1 301.5 503.0C303.5 509.5 305.6 521.3 307.6 521.3C309.0 521.3 310.5 515.4 312.0 509.7C313.2 504.7 314.5 492.8 315.8 482.7C317.5 469.8 319.1 449.4 320.7 438.3C322.7 424.7 324.7 406.1 326.7 406.1C328.5 406.1 330.3 418.0 332.0 427.9C334.0 439.1 336.0 465.0 338.0 481.9C339.9 498.4 341.9 517.3 343.8 528.6C346.0 541.7 348.3 559.2 350.5 559.2C352.3 559.2 354.0 541.2 355.7 528.5C357.4 516.6 359.0 498.7 360.6 482.0C362.2 465.5 363.9 440.1 365.5 428.3C367.4 414.6 369.2 398.2 371.1 398.2C373.2 398.2 375.2 417.1 377.2 427.8C379.3 438.5 381.3 454.4 383.4 463.1C384.8 468.9 386.1 472.3 387.5 477.2C388.9 481.9 390.2 488.1 391.6 492.0C394.1 499.4 396.7 509.8 399.3 509.8C402.9 509.8 406.5 506.5 410.1 503.4C413.7 500.3 417.3 492.5 420.8 486.5C423.2 482.5 425.6 473.9 428.0 473.9C431.8 473.9 435.6 477.1 439.3 477.1C444.4 477.1 449.4 469.5 454.4 469.5C458.6 469.5 462.7 474.4 466.9 474.4C470.4 474.4 473.9 471.1 477.4 471.1C480.1 471.1 482.8 481.1 485.4 489.1C486.6 492.7 487.8 500.9 489.0 503.6C490.7 507.2 492.3 510.7 493.9 510.7C495.2 510.7 496.5 506.7 497.9 502.9C499.3 498.7 500.8 487.9 502.3 480.0C503.6 473.4 504.8 465.6 506.0 459.6C508.2 449.4 510.3 438.9 512.4 432.7C514.6 426.3 516.8 418.1 519.0 418.1C522.4 418.1 525.8 434.0 529.3 441.9C531.6 447.3 534.0 452.7 536.3 458.1C537.3 460.4 538.3 462.7 539.3 464.9" stroke="#141414" stroke-width="0.7"/>
<path d="M56.5 432.3C58.2 430.0 60.0 430.0 61.7 430.0C63.9 430.0 66.0 435.9 68.2 439.6C69.9 442.6 71.5 446.5 73.2 450.0C74.7 453.2 76.2 455.9 77.7 459.7C78.9 463.0 80.2 466.0 81.5 471.7C82.1 474.4 82.7 479.5 83.3 484.1C84.5 492.6 85.6 503.1 86.7 513.8C87.8 523.6 88.8 537.4 89.9 545.7C90.9 553.6 91.8 560.8 92.8 565.1C93.9 569.9 95.0 575.7 96.1 575.7C97.3 575.7 98.6 557.8 99.9 544.5C101.2 530.0 102.6 500.7 104.0 483.4C105.6 463.3 107.2 439.7 108.8 431.4C111.0 420.0 113.2 409.7 115.4 409.7C118.0 409.7 120.7 416.8 123.4 426.0C125.4 432.9 127.4 461.9 129.4 483.2C130.8 498.3 132.2 518.1 133.6 533.7C135.1 549.3 136.5 577.3 137.9 577.3C139.4 577.3 140.8 549.5 142.3 535.0C143.9 518.8 145.5 504.2 147.1 485.0C148.8 465.0 150.5 429.3 152.2 414.3C153.7 400.8 155.2 384.3 156.8 384.3C158.6 384.3 160.5 400.9 162.3 413.9C164.5 429.3 166.6 459.3 168.8 483.8C170.2 500.1 171.6 524.5 173.1 534.9C174.6 545.7 176.0 558.1 177.5 558.1C178.8 558.1 180.1 551.6 181.4 547.0C182.9 541.7 184.4 534.1 185.8 525.4C187.6 514.8 189.5 494.3 191.3 484.2C192.4 477.7 193.6 470.9 194.8 468.3C196.5 464.5 198.2 461.1 199.8 461.1C203.1 461.1 206.3 468.8 209.5 472.5C213.2 476.8 216.9 485.1 220.5 485.1C224.8 485.1 229.0 471.6 233.2 471.6C237.9 471.6 242.7 484.6 247.4 484.6C251.9 484.6 256.4 476.1 260.8 476.1C265.8 476.1 270.8 485.8 275.7 485.8C279.9 485.8 284.1 483.5 288.3 483.5C290.3 483.5 292.4 483.7 294.5 483.9C296.7 484.2 298.8 497.8 301.0 504.5C303.0 510.9 305.1 523.1 307.1 523.1C308.6 523.1 310.2 515.6 311.7 509.4C313.1 503.7 314.5 493.1 315.9 483.2C317.6 470.8 319.3 450.0 321.0 439.5C323.1 427.1 325.1 410.7 327.1 410.7C328.9 410.7 330.7 420.6 332.5 429.5C334.5 439.6 336.5 466.5 338.4 483.5C340.4 499.9 342.3 517.8 344.2 530.1C346.4 544.4 348.6 565.3 350.9 565.3C352.6 565.3 354.3 543.6 356.0 529.7C357.6 516.8 359.1 500.0 360.7 483.2C362.3 466.8 363.8 438.3 365.4 429.6C367.1 419.4 368.9 409.7 370.7 409.7C372.7 409.7 374.6 422.8 376.6 431.9C378.6 441.0 380.5 457.7 382.5 467.2C383.9 473.7 385.2 477.9 386.5 483.8C387.9 489.7 389.2 498.5 390.5 503.0C393.1 511.6 395.7 521.8 398.4 521.8C401.8 521.8 405.3 519.1 408.8 516.5C412.4 513.8 416.0 506.1 419.6 500.4C422.4 495.8 425.3 485.8 428.1 485.8C432.0 485.8 435.9 487.2 439.8 487.2C444.8 487.2 449.9 481.2 455.0 481.2C459.1 481.2 463.3 488.3 467.4 488.3C470.9 488.3 474.5 488.3 478.0 488.3C480.6 488.3 483.3 493.9 486.0 499.3C487.2 501.8 488.4 508.3 489.7 511.1C491.4 515.1 493.1 520.0 494.8 520.0C496.2 520.0 497.6 513.7 499.1 508.8C500.7 503.3 502.3 492.8 503.9 484.6C505.2 477.8 506.5 469.9 507.8 463.9C510.0 454.0 512.2 442.4 514.4 438.0C516.6 433.6 518.8 429.2 521.0 429.2C524.4 429.2 527.8 441.1 531.2 450.5C533.6 457.0 535.9 467.6 538.2 477.9C538.6 479.5 538.9 481.3 539.3 483.1" stroke="#141414" stroke-width="0.7"/>
<path d="M56.5 408.5C57.9 407.3 59.4 407.3 60.8 407.3C62.9 407.3 65.0 414.7 67.2 420.2C68.9 424.6 70.5 431.8 72.2 438.0C73.7 443.4 75.2 449.0 76.7 454.7C77.9 459.6 79.2 463.3 80.5 469.8C81.1 473.0 81.7 477.6 82.3 482.2C83.4 490.6 84.6 501.4 85.7 511.5C86.8 521.5 87.9 534.5 89.0 542.2C90.1 549.7 91.2 556.9 92.3 560.3C93.5 564.0 94.7 567.9 95.9 567.9C97.2 567.9 98.6 554.5 99.9 542.9C101.3 530.7 102.7 499.6 104.2 481.7C105.7 461.6 107.3 438.3 108.9 428.3C111.1 414.4 113.3 400.3 115.5 400.3C118.3 400.3 121.0 410.1 123.8 421.4C125.9 430.1 128.0 459.6 130.1 481.0C131.7 496.7 133.2 515.9 134.8 531.5C136.3 547.1 137.8 575.1 139.4 575.1C140.9 575.1 142.4 548.0 143.9 533.3C145.6 517.6 147.2 502.8 148.8 483.4C150.5 463.8 152.1 427.9 153.7 412.8C155.2 399.4 156.6 382.9 158.1 382.9C159.8 382.9 161.5 399.5 163.3 412.6C165.3 427.9 167.4 457.5 169.4 482.1C170.7 498.2 172.1 523.9 173.4 533.0C174.9 542.5 176.3 552.4 177.7 552.4C179.0 552.4 180.3 546.8 181.5 542.7C183.0 537.9 184.5 530.8 185.9 522.6C187.8 512.2 189.6 491.1 191.5 481.1C192.7 474.4 193.9 467.6 195.2 465.0C197.0 461.4 198.7 458.1 200.5 458.1C203.8 458.1 207.1 467.2 210.4 471.4C214.1 476.1 217.8 484.8 221.5 484.8C225.7 484.8 229.9 471.4 234.1 471.4C238.8 471.4 243.4 483.9 248.1 483.9C252.5 483.9 256.8 473.8 261.2 473.8C266.0 473.8 270.8 482.8 275.7 482.8C279.7 482.8 283.8 478.1 287.9 478.1C289.9 478.1 291.9 479.4 294.0 481.2C296.1 483.0 298.2 496.2 300.4 503.1C302.4 509.7 304.4 521.9 306.5 521.9C308.0 521.9 309.5 515.3 311.0 509.4C312.4 504.1 313.8 493.2 315.2 483.3C316.9 471.0 318.6 450.6 320.3 439.9C322.4 427.0 324.5 409.6 326.5 409.6C328.4 409.6 330.2 420.4 332.0 429.7C334.1 440.2 336.1 466.2 338.1 483.1C340.1 499.3 342.0 517.8 344.0 529.3C346.2 542.7 348.5 561.1 350.8 561.1C352.5 561.1 354.2 541.9 355.9 528.8C357.5 516.5 359.2 498.8 360.8 482.0C362.4 465.5 363.9 438.2 365.5 428.4C367.4 417.0 369.2 405.1 371.1 405.1C373.1 405.1 375.1 421.1 377.1 431.1C379.1 441.2 381.1 457.8 383.1 467.0C384.4 473.1 385.7 476.9 387.1 482.2C388.3 487.3 389.6 494.4 390.9 498.4C393.5 506.1 396.0 515.7 398.6 515.7C401.9 515.7 405.3 512.4 408.7 509.4C412.2 506.4 415.7 498.7 419.2 493.4C422.1 489.2 425.0 480.7 427.9 480.7C431.8 480.7 435.7 483.2 439.6 483.2C444.7 483.2 449.9 475.7 455.0 475.7C459.3 475.7 463.5 480.2 467.8 480.2C471.3 480.2 474.9 477.8 478.5 477.8C481.2 477.8 484.0 486.3 486.7 493.6C487.9 496.9 489.1 504.6 490.3 507.7C492.0 511.8 493.6 516.7 495.3 516.7C496.6 516.7 497.9 511.4 499.1 506.9C500.6 501.9 502.1 491.1 503.5 482.8C504.7 476.1 505.9 467.8 507.1 461.9C509.1 451.6 511.2 440.5 513.2 435.9C515.4 431.1 517.5 426.3 519.6 426.3C523.0 426.3 526.4 440.1 529.8 450.0C532.1 456.7 534.4 469.6 536.7 476.0C537.5 478.5 538.4 480.4 539.3 482.1" stroke="#141414" stroke-width="0.7"/>
<path d="M56.5 445.3C58.4 443.0 60.3 442.3 62.3 442.3C64.4 442.3 66.5 445.5 68.6 447.7C70.2 449.4 71.9 451.6 73.6 454.2C75.0 456.5 76.4 459.0 77.8 462.5C78.9 465.4 80.1 468.4 81.3 474.2C81.8 476.8 82.4 482.2 82.9 486.7C83.9 495.4 84.9 505.8 86.0 516.0C87.0 526.2 88.0 539.3 89.1 548.0C90.1 556.4 91.1 562.7 92.1 569.2C93.2 576.6 94.3 589.8 95.4 589.8C96.7 589.8 97.9 562.6 99.2 546.6C100.6 528.7 102.1 503.3 103.5 486.0C105.1 466.2 106.8 439.4 108.4 434.6C110.6 428.0 112.9 423.6 115.1 423.6C117.9 423.6 120.6 426.8 123.4 432.2C125.5 436.1 127.5 466.3 129.6 486.8C131.1 501.5 132.5 519.9 134.0 536.5C135.5 553.0 136.9 586.0 138.4 586.0C139.8 586.0 141.3 549.8 142.7 533.5C144.3 515.6 145.8 502.3 147.4 483.4C149.0 463.9 150.6 419.3 152.2 415.6C153.7 412.2 155.1 410.0 156.6 410.0C158.4 410.0 160.2 414.4 162.0 419.8C164.2 426.3 166.3 462.9 168.5 486.3C170.0 502.5 171.5 524.4 172.9 537.4C174.5 551.0 176.1 570.3 177.7 570.3C179.1 570.3 180.5 557.8 181.9 550.9C183.5 543.2 185.1 535.6 186.7 526.1C188.6 514.6 190.5 494.5 192.4 484.8C193.6 478.7 194.9 471.2 196.1 470.1C197.8 468.6 199.5 467.6 201.2 467.6C204.4 467.6 207.6 473.2 210.8 476.6C214.4 480.5 218.0 490.0 221.6 490.0C225.7 490.0 229.8 475.7 234.0 475.7C238.6 475.7 243.3 489.8 247.9 489.8C252.3 489.8 256.6 480.0 261.0 480.0C265.9 480.0 270.8 489.9 275.7 489.9C279.8 489.9 283.9 487.9 288.0 487.9C290.1 487.9 292.2 488.1 294.3 488.5C296.4 488.9 298.5 501.4 300.7 508.1C302.7 514.4 304.7 527.3 306.7 527.3C308.1 527.3 309.6 517.6 311.0 510.3C312.3 503.8 313.6 493.5 314.8 483.4C316.5 470.6 318.1 449.1 319.7 439.1C321.8 426.5 323.8 410.9 325.8 410.9C327.7 410.9 329.5 420.1 331.4 428.5C333.4 438.2 335.5 465.6 337.6 482.5C339.7 499.0 341.7 514.7 343.8 529.3C346.1 545.9 348.4 576.0 350.8 576.0C352.5 576.0 354.3 546.1 356.1 530.0C357.7 515.4 359.3 500.9 360.9 484.2C362.5 468.1 364.0 438.3 365.6 431.1C367.4 422.8 369.2 415.7 371.0 415.7C373.0 415.7 375.0 427.3 377.0 435.7C379.0 444.3 381.0 461.5 383.1 471.1C384.4 477.6 385.8 481.8 387.1 488.0C388.5 494.0 389.8 503.3 391.1 508.2C393.7 517.6 396.2 529.3 398.7 529.3C402.0 529.3 405.3 528.0 408.6 526.6C412.1 525.1 415.5 520.4 419.0 516.4C421.9 513.0 424.9 504.7 427.8 504.2C431.7 503.4 435.6 503.5 439.5 502.9C444.6 502.2 449.7 498.4 454.9 498.4C459.1 498.4 463.4 500.7 467.6 500.7C471.2 500.7 474.8 497.6 478.4 497.6C481.1 497.6 483.8 500.6 486.6 504.4C487.8 506.0 489.0 512.0 490.2 515.2C491.9 519.5 493.5 526.6 495.2 526.6C496.5 526.6 497.8 518.0 499.1 512.0C500.5 505.3 502.0 494.4 503.5 485.9C504.7 478.9 505.9 470.9 507.1 465.4C509.2 455.8 511.4 444.7 513.5 442.0C515.7 439.2 517.9 436.9 520.2 436.9C523.6 436.9 527.1 452.3 530.6 464.8C533.0 473.5 535.4 487.5 537.8 502.7C538.3 505.7 538.8 509.5 539.3 513.2" stroke="#141414" stroke-width="0.7"/>
<path d="M56.5 452.3C57.9 451.0 59.3 449.9 60.7 449.9C62.9 449.9 65.1 451.2 67.2 452.4C68.9 453.3 70.6 455.0 72.4 457.1C73.9 458.9 75.4 461.5 76.9 464.8C78.2 467.6 79.5 470.6 80.8 476.2C81.4 478.7 81.9 483.8 82.5 488.3C83.6 496.7 84.6 506.8 85.7 517.6C86.7 527.3 87.6 541.3 88.6 549.9C89.5 558.5 90.4 564.4 91.4 571.4C92.4 579.2 93.5 594.3 94.5 594.3C95.9 594.3 97.2 563.9 98.5 546.6C99.9 528.2 101.2 503.1 102.6 485.9C104.2 466.0 105.9 438.0 107.5 434.4C109.7 429.3 111.9 426.3 114.2 426.3C116.9 426.3 119.6 428.8 122.3 433.2C124.4 436.6 126.6 467.6 128.7 488.0C130.2 503.1 131.8 521.9 133.3 538.6C134.9 555.3 136.4 588.5 138.0 588.5C139.5 588.5 141.1 551.7 142.6 535.0C144.3 516.9 146.0 503.2 147.7 483.8C149.4 464.0 151.1 421.0 152.8 414.6C154.4 408.8 155.9 404.4 157.5 404.4C159.4 404.4 161.3 410.7 163.1 417.7C165.3 426.1 167.6 461.3 169.8 485.1C171.3 501.4 172.8 523.1 174.3 536.7C175.9 550.7 177.4 571.3 179.0 571.3C180.3 571.3 181.7 558.6 183.1 551.6C184.6 543.9 186.1 536.0 187.6 526.4C189.4 514.9 191.2 495.3 193.0 485.5C194.1 479.5 195.2 471.1 196.3 470.8C197.9 470.4 199.5 470.3 201.1 470.3C204.2 470.3 207.3 474.6 210.5 477.8C214.0 481.3 217.6 492.3 221.2 492.3C225.4 492.3 229.5 476.8 233.6 476.8C238.3 476.8 243.0 491.8 247.7 491.8C252.1 491.8 256.6 480.1 261.0 480.1C265.9 480.1 270.8 489.7 275.7 489.7C279.9 489.7 284.1 487.4 288.3 487.4C290.4 487.4 292.5 487.6 294.6 487.8C296.8 488.1 299.0 500.7 301.2 507.5C303.3 513.9 305.3 527.6 307.4 527.6C308.9 527.6 310.5 517.0 312.0 509.5C313.4 502.8 314.7 493.3 316.1 483.4C317.7 471.2 319.4 450.0 321.1 440.2C323.1 428.3 325.1 413.5 327.1 413.5C328.8 413.5 330.6 422.2 332.3 430.5C334.3 439.8 336.2 467.2 338.2 484.0C340.1 500.3 341.9 516.0 343.8 530.2C346.0 546.8 348.2 576.3 350.4 576.3C352.2 576.3 353.9 545.9 355.6 530.0C357.2 515.0 358.8 500.2 360.4 483.7C362.0 467.2 363.6 436.8 365.3 430.3C367.2 422.7 369.1 416.6 370.9 416.6C373.0 416.6 375.1 427.3 377.2 435.5C379.2 443.8 381.3 461.2 383.4 471.0C384.8 477.5 386.2 481.7 387.6 488.1C388.9 494.1 390.3 503.5 391.6 508.5C394.1 518.2 396.7 530.4 399.2 530.4C402.7 530.4 406.1 529.7 409.5 528.9C413.0 528.1 416.6 524.9 420.1 521.6C422.7 519.1 425.4 511.4 428.1 510.5C431.9 509.2 435.7 509.3 439.5 508.5C444.6 507.4 449.6 504.3 454.6 504.3C458.7 504.3 462.9 505.3 467.0 505.3C470.4 505.3 473.9 501.9 477.4 501.9C480.0 501.9 482.6 504.4 485.3 507.8C486.5 509.3 487.7 515.0 488.9 518.1C490.6 522.5 492.3 530.1 494.0 530.1C495.4 530.1 496.8 520.4 498.2 514.1C499.8 507.1 501.3 496.3 502.9 487.9C504.2 481.0 505.5 473.5 506.7 468.0C508.9 458.8 511.0 447.6 513.2 445.2C515.4 442.7 517.6 440.8 519.8 440.8C523.2 440.8 526.7 457.5 530.1 471.2C532.5 480.7 534.9 498.6 537.3 512.3C537.9 516.3 538.6 520.2 539.3 524.1" stroke="#141414" stroke-width="0.7"/>
<path d="M56.5 387.8C58.1 387.8 59.7 389.5 61.2 391.3C63.3 393.7 65.3 401.3 67.3 408.4C69.0 414.2 70.6 423.2 72.3 431.1C73.6 437.6 75.0 445.0 76.4 451.4C77.6 457.2 78.8 461.2 80.0 467.8C80.6 471.3 81.3 475.8 81.9 480.6C83.1 489.1 84.2 500.7 85.3 510.4C86.6 520.9 87.8 533.2 89.0 541.3C90.1 548.6 91.2 556.2 92.3 559.4C93.5 562.9 94.7 566.4 95.9 566.4C97.1 566.4 98.3 552.9 99.5 541.6C100.9 528.8 102.3 497.9 103.7 479.7C105.2 459.3 106.8 436.1 108.3 425.1C110.4 409.8 112.5 393.2 114.6 393.2C117.4 393.2 120.2 406.8 122.9 421.4C124.9 431.9 126.9 461.9 128.9 483.5C130.4 499.5 131.9 518.3 133.3 533.5C134.8 548.9 136.3 575.9 137.8 575.9C139.3 575.9 140.9 548.7 142.4 534.1C144.0 518.1 145.7 503.4 147.4 483.8C149.1 463.8 150.8 427.7 152.5 411.8C154.1 397.4 155.6 379.2 157.2 379.2C159.0 379.2 160.9 397.8 162.8 411.7C165.0 428.2 167.2 457.6 169.4 481.8C170.9 498.4 172.4 525.9 173.9 533.2C175.5 540.7 177.0 547.5 178.6 547.5C180.0 547.5 181.3 545.0 182.7 542.5C184.2 539.7 185.7 531.7 187.2 523.7C189.0 514.1 190.8 492.9 192.6 482.4C193.8 475.9 194.9 469.0 196.0 466.3C197.7 462.3 199.3 458.7 200.9 458.7C204.0 458.7 207.2 466.8 210.3 470.6C213.9 474.9 217.5 482.7 221.1 482.7C225.3 482.7 229.4 467.5 233.6 467.5C238.3 467.5 243.0 480.9 247.6 480.9C252.0 480.9 256.4 469.9 260.8 469.9C265.7 469.9 270.6 481.3 275.5 481.3C279.6 481.3 283.8 470.6 287.9 470.6C289.9 470.6 292.0 475.4 294.1 479.6C296.2 483.9 298.4 494.8 300.5 501.6C302.5 508.1 304.6 519.9 306.6 519.9C308.1 519.9 309.7 514.0 311.2 508.5C312.5 503.6 313.9 492.4 315.3 482.5C317.0 470.2 318.6 450.0 320.3 439.4C322.4 426.7 324.4 409.5 326.5 409.5C328.3 409.5 330.1 421.0 331.9 430.7C334.0 441.6 336.0 467.7 338.1 484.6C340.0 501.0 342.0 519.5 344.0 530.9C346.3 544.1 348.6 562.1 350.9 562.1C352.6 562.1 354.3 543.3 356.1 530.3C357.7 518.3 359.3 500.6 360.9 483.9C362.5 467.5 364.0 441.4 365.6 430.3C367.4 417.3 369.2 402.5 371.1 402.5C373.0 402.5 375.0 420.0 377.0 430.3C379.0 440.7 381.0 456.8 383.0 465.8C384.4 471.7 385.7 475.5 387.0 480.6C388.3 485.5 389.6 492.0 391.0 495.8C393.5 503.1 396.1 512.5 398.7 512.5C401.9 512.5 405.1 508.3 408.3 504.9C411.8 501.2 415.2 492.6 418.7 487.5C421.9 482.8 425.2 475.0 428.4 475.0C432.4 475.0 436.3 478.3 440.3 478.3C445.4 478.3 450.6 470.7 455.7 470.7C460.0 470.7 464.2 475.5 468.4 475.5C472.0 475.5 475.6 472.5 479.1 472.5C481.8 472.5 484.5 481.8 487.2 489.4C488.4 492.8 489.7 500.5 490.9 503.5C492.6 507.6 494.2 512.2 495.9 512.2C497.2 512.2 498.5 508.0 499.8 504.2C501.3 499.9 502.8 489.2 504.2 481.1C505.4 474.6 506.6 466.6 507.8 460.6C509.9 450.4 511.9 439.7 514.0 433.9C516.1 427.9 518.2 420.6 520.3 420.6C523.6 420.6 526.9 434.8 530.2 442.8C532.5 448.2 534.7 455.1 537.0 460.4C537.8 462.3 538.5 464.0 539.3 465.6" stroke="#141414" stroke-width="0.7"/>
<path d="M56.5 451.9C58.2 450.4 59.9 449.5 61.5 449.5C63.4 449.5 65.3 450.6 67.1 451.5C68.7 452.3 70.3 453.3 71.9 455.1C73.2 456.5 74.5 459.4 75.8 462.5C77.1 465.4 78.3 468.8 79.5 474.1C80.2 477.0 80.9 481.8 81.6 486.6C82.8 494.7 83.9 506.5 85.1 516.1C86.4 527.0 87.7 538.8 89.0 548.0C90.1 555.8 91.2 562.5 92.3 568.6C93.4 575.3 94.6 586.9 95.8 586.9C97.0 586.9 98.1 560.5 99.3 545.6C100.7 527.2 102.1 502.5 103.5 485.1C105.1 465.5 106.7 439.9 108.3 433.7C110.5 425.3 112.7 418.9 114.9 418.9C117.7 418.9 120.6 423.6 123.5 430.8C125.5 436.0 127.5 466.0 129.6 486.6C131.0 501.7 132.5 520.6 134.0 536.8C135.5 553.4 137.0 585.1 138.5 585.1C140.1 585.1 141.6 551.0 143.1 535.0C144.8 517.6 146.4 503.9 148.1 484.7C149.7 465.3 151.4 422.7 153.1 416.2C154.6 410.4 156.1 406.0 157.6 406.0C159.4 406.0 161.2 412.2 163.1 419.3C165.2 427.6 167.3 462.5 169.4 486.6C170.8 502.4 172.2 524.8 173.5 537.3C175.0 550.3 176.4 568.1 177.8 568.1C179.1 568.1 180.3 556.9 181.6 550.5C183.0 543.2 184.5 535.6 185.9 526.4C187.7 514.9 189.6 495.1 191.4 485.7C192.6 479.4 193.8 472.0 195.0 470.9C196.7 469.2 198.5 468.3 200.2 468.3C203.4 468.3 206.7 473.8 209.9 477.2C213.6 481.1 217.3 491.0 221.0 491.0C225.2 491.0 229.4 476.2 233.5 476.2C238.2 476.2 242.9 490.0 247.6 490.0C252.1 490.0 256.5 478.8 260.9 478.8C265.8 478.8 270.8 487.8 275.7 487.8C279.9 487.8 284.0 485.5 288.2 485.5C290.2 485.5 292.3 485.9 294.3 486.7C296.4 487.5 298.5 500.8 300.6 507.9C302.6 514.5 304.5 527.9 306.5 527.9C307.9 527.9 309.4 518.6 310.8 511.6C312.1 505.2 313.4 495.1 314.7 485.2C316.4 472.6 318.1 451.5 319.8 441.6C321.8 429.3 323.9 414.0 326.0 414.0C327.8 414.0 329.7 423.1 331.5 431.6C333.6 441.1 335.7 468.3 337.7 485.2C339.7 501.3 341.7 517.2 343.7 531.1C346.0 547.0 348.2 574.5 350.5 574.5C352.2 574.5 353.9 545.7 355.6 529.8C357.2 515.3 358.8 499.9 360.4 483.2C362.0 466.6 363.5 437.4 365.1 429.5C367.0 420.2 368.8 412.0 370.7 412.0C372.7 412.0 374.8 424.0 376.8 432.7C378.9 441.5 380.9 458.3 383.0 468.3C384.4 474.9 385.7 479.3 387.1 485.7C388.4 491.9 389.8 501.5 391.1 506.5C393.7 516.3 396.2 528.5 398.8 528.5C401.8 528.5 404.8 527.6 407.8 526.6C411.1 525.4 414.5 520.5 417.8 516.9C421.2 513.2 424.5 504.9 427.9 504.0C431.8 502.9 435.7 503.0 439.6 502.2C444.7 501.2 449.8 497.5 454.9 497.5C459.1 497.5 463.3 500.3 467.5 500.3C471.1 500.3 474.7 497.4 478.3 497.4C481.0 497.4 483.7 500.5 486.4 504.2C487.6 505.9 488.9 511.4 490.1 514.2C491.8 518.0 493.5 523.9 495.2 523.9C496.5 523.9 497.8 515.9 499.1 510.2C500.6 504.0 502.1 493.3 503.5 485.1C504.7 478.5 505.9 470.8 507.0 465.6C509.1 456.5 511.1 445.4 513.1 443.5C515.2 441.6 517.3 440.2 519.4 440.2C522.8 440.2 526.1 457.1 529.5 470.4C531.8 479.6 534.1 501.0 536.4 509.1C537.4 512.5 538.3 515.2 539.3 517.0" stroke="#141414" stroke-width="0.7"/>
<path d="M56.5 419.8C57.9 419.3 59.4 419.3 60.8 419.3C62.5 419.3 64.3 427.1 66.0 431.4C67.7 435.6 69.4 440.0 71.1 445.0C72.3 448.8 73.6 453.2 74.9 457.5C76.1 461.7 77.4 465.4 78.7 470.4C79.5 473.8 80.4 477.3 81.2 482.3C82.4 489.1 83.5 502.7 84.7 511.5C86.2 523.2 87.7 533.3 89.2 543.2C90.3 549.9 91.3 558.6 92.4 562.2C93.5 566.0 94.6 570.2 95.7 570.2C96.5 570.2 97.4 553.7 98.2 543.4C99.6 526.8 101.0 500.0 102.3 482.7C103.9 462.4 105.5 439.6 107.1 429.9C109.3 416.4 111.5 402.8 113.8 402.8C116.9 402.8 120.1 411.7 123.3 423.5C125.4 431.2 127.4 461.3 129.5 483.0C131.0 498.4 132.5 517.9 134.0 533.6C135.4 549.0 136.9 577.0 138.4 577.0C139.8 577.0 141.3 548.9 142.7 534.1C144.3 517.7 145.9 502.7 147.5 483.3C149.2 463.2 150.9 427.6 152.6 412.8C154.1 399.2 155.6 382.7 157.1 382.7C159.0 382.7 160.8 399.2 162.6 412.2C164.7 427.5 166.9 457.5 169.0 482.0C170.4 498.3 171.8 523.9 173.2 533.3C174.7 543.2 176.2 553.8 177.7 553.8C179.0 553.8 180.3 548.7 181.7 544.7C183.2 540.2 184.7 532.3 186.2 523.8C188.0 513.4 189.9 492.7 191.7 482.8C192.9 476.5 194.0 469.9 195.2 467.5C196.8 464.1 198.5 461.1 200.1 461.1C203.2 461.1 206.4 468.6 209.5 472.3C213.1 476.5 216.7 484.9 220.2 484.9C224.4 484.9 228.5 471.6 232.7 471.6C237.4 471.6 242.1 484.3 246.8 484.3C251.2 484.3 255.7 474.8 260.2 474.8C265.1 474.8 270.1 484.5 275.1 484.5C279.3 484.5 283.5 479.0 287.7 479.0C289.8 479.0 292.0 480.8 294.1 483.1C296.3 485.5 298.5 498.1 300.6 505.2C302.7 511.8 304.7 524.2 306.7 524.2C308.2 524.2 309.6 517.5 311.1 511.5C312.4 506.2 313.7 494.9 315.0 484.9C316.6 472.2 318.3 451.3 319.9 440.7C321.9 427.7 324.0 410.7 326.0 410.7C327.8 410.7 329.6 421.2 331.5 430.3C333.5 440.7 335.6 467.0 337.7 483.6C339.8 499.8 341.8 517.8 343.8 529.3C346.2 542.6 348.5 561.0 350.9 561.0C352.6 561.0 354.4 542.1 356.2 528.9C357.8 517.0 359.4 499.8 361.0 483.1C362.6 467.0 364.1 440.2 365.6 429.9C367.4 417.9 369.2 405.0 371.0 405.0C373.0 405.0 375.0 420.9 377.0 430.6C379.1 440.7 381.1 457.0 383.2 465.8C384.6 471.9 386.0 475.6 387.5 480.8C388.8 485.9 390.2 492.9 391.6 496.9C394.2 504.5 396.8 514.5 399.4 514.5C401.9 514.5 404.5 510.9 407.0 508.0C410.1 504.5 413.1 495.7 416.2 491.6C420.3 486.1 424.4 478.5 428.4 478.5C432.3 478.5 436.2 481.2 440.0 481.2C445.1 481.2 450.2 474.7 455.3 474.7C459.4 474.7 463.6 481.0 467.8 481.0C471.3 481.0 474.8 480.1 478.4 480.1C481.0 480.1 483.6 488.1 486.3 495.0C487.5 498.1 488.6 505.5 489.8 508.4C491.4 512.3 493.1 516.8 494.7 516.8C496.0 516.8 497.3 511.1 498.6 506.6C500.1 501.4 501.6 490.7 503.1 482.6C504.4 475.9 505.7 467.9 507.0 462.1C509.1 452.1 511.2 440.9 513.4 436.5C515.6 432.1 517.8 427.7 520.0 427.7C523.4 427.7 526.9 440.6 530.3 450.2C532.7 456.8 535.0 469.4 537.4 476.6C538.0 478.5 538.7 480.2 539.3 481.8" stroke="#141414" stroke-width="0.7"/>
<path d="M56.5 436.0C58.0 434.4 59.5 434.4 60.9 434.4C62.8 434.4 64.6 440.3 66.4 443.3C68.1 446.1 69.8 448.6 71.5 451.9C72.8 454.3 74.1 457.0 75.4 460.2C76.7 463.3 77.9 466.4 79.2 471.3C79.9 474.2 80.7 478.1 81.4 483.1C82.5 490.0 83.6 503.5 84.6 512.4C86.0 524.0 87.4 534.6 88.7 544.1C89.7 550.9 90.7 559.4 91.7 562.9C92.8 566.9 94.0 571.2 95.1 571.2C96.1 571.2 97.0 554.9 98.0 544.3C99.4 528.5 100.9 501.3 102.3 483.9C103.9 464.2 105.5 440.6 107.2 432.2C109.4 420.8 111.6 410.4 113.8 410.4C116.9 410.4 120.0 416.9 123.0 426.2C125.1 432.5 127.1 462.2 129.2 483.3C130.7 498.5 132.2 518.1 133.6 533.6C135.1 549.1 136.6 576.7 138.1 576.7C139.5 576.7 141.0 548.4 142.5 533.6C144.1 517.3 145.7 502.5 147.4 483.3C149.0 463.5 150.7 427.4 152.4 413.3C153.9 400.5 155.5 385.4 157.0 385.4C158.8 385.4 160.7 401.7 162.5 414.5C164.7 429.9 166.9 460.5 169.2 484.9C170.7 501.6 172.2 524.6 173.7 536.9C175.2 549.6 176.8 566.5 178.3 566.5C179.7 566.5 181.1 556.8 182.4 550.7C183.9 544.0 185.4 536.0 186.9 526.6C188.7 515.1 190.5 494.9 192.4 484.8C193.5 478.5 194.6 471.2 195.8 469.4C197.5 466.8 199.1 464.8 200.8 464.8C204.0 464.8 207.2 471.7 210.3 475.4C214.0 479.6 217.6 488.6 221.3 488.6C225.4 488.6 229.6 474.9 233.7 474.9C238.4 474.9 243.1 487.1 247.7 487.1C252.2 487.1 256.6 477.2 261.0 477.2C265.9 477.2 270.9 486.2 275.8 486.2C280.0 486.2 284.1 483.7 288.3 483.7C290.4 483.7 292.5 483.9 294.6 484.4C296.8 484.9 298.9 498.5 301.1 505.4C303.1 511.9 305.1 524.5 307.2 524.5C308.7 524.5 310.1 516.4 311.6 509.8C313.0 503.9 314.3 493.4 315.6 483.4C317.3 471.0 318.9 449.9 320.6 439.8C322.7 427.4 324.7 411.7 326.8 411.7C328.6 411.7 330.4 421.2 332.2 429.9C334.3 439.6 336.3 466.4 338.3 483.4C340.3 499.5 342.2 517.3 344.1 529.6C346.3 543.7 348.6 564.6 350.8 564.6C352.4 564.6 354.1 543.6 355.8 529.8C357.4 517.2 358.9 500.1 360.4 483.4C362.0 466.9 363.5 438.3 365.0 429.4C366.8 418.9 368.6 408.9 370.4 408.9C372.4 408.9 374.4 422.2 376.4 431.2C378.4 440.6 380.5 457.5 382.5 467.0C384.0 473.7 385.4 477.9 386.8 484.0C388.2 490.0 389.6 498.8 391.0 503.4C393.6 512.2 396.3 522.9 398.9 522.9C401.6 522.9 404.3 520.7 407.0 518.8C410.2 516.5 413.3 509.9 416.5 506.3C420.4 501.8 424.4 494.5 428.3 494.5C432.2 494.5 436.1 495.8 440.0 495.8C445.1 495.8 450.2 490.5 455.4 490.5C459.6 490.5 463.8 494.6 468.0 494.6C471.6 494.6 475.2 492.3 478.7 492.3C481.4 492.3 484.1 496.4 486.8 500.9C488.0 502.9 489.2 509.0 490.4 511.9C492.0 515.9 493.6 521.8 495.2 521.8C496.5 521.8 497.9 514.5 499.2 509.3C500.7 503.2 502.2 492.7 503.8 484.7C505.1 477.8 506.4 470.1 507.7 464.4C509.9 454.8 512.0 443.3 514.2 440.0C516.4 436.7 518.7 433.8 520.9 433.8C524.3 433.8 527.7 448.5 531.1 461.1C533.4 469.4 535.7 484.2 538.0 498.8C538.4 501.6 538.9 505.0 539.3 508.3" stroke="#141414" stroke-width="0.7"/>
<path d="M56.5 432.1C58.2 432.1 60.0 432.2 61.7 432.3C63.4 432.4 65.1 440.0 66.8 443.6C68.5 447.1 70.1 449.8 71.8 453.7C73.0 456.4 74.1 459.6 75.3 463.1C76.4 466.6 77.6 469.9 78.7 474.8C79.5 477.9 80.2 481.8 81.0 486.8C82.0 493.8 83.1 507.4 84.2 515.8C85.7 528.0 87.2 537.4 88.8 547.6C89.9 554.7 90.9 562.6 92.0 568.1C93.2 574.3 94.4 583.7 95.5 583.7C96.4 583.7 97.3 558.4 98.1 546.0C99.6 525.5 101.0 502.6 102.4 485.1C104.0 465.3 105.6 439.9 107.3 433.2C109.5 424.1 111.6 416.9 113.8 416.9C117.0 416.9 120.2 421.9 123.4 429.9C125.4 435.0 127.5 465.3 129.5 486.0C131.0 501.1 132.5 519.8 134.0 536.1C135.5 552.6 136.9 584.3 138.4 584.3C140.0 584.3 141.5 549.7 143.0 533.6C144.7 516.1 146.3 502.7 148.0 483.5C149.7 463.9 151.4 423.8 153.1 414.7C154.6 406.5 156.1 399.2 157.6 399.2C159.4 399.2 161.2 407.3 163.0 415.7C165.2 425.6 167.3 459.7 169.4 483.9C170.8 500.2 172.2 523.0 173.7 535.7C175.2 549.0 176.7 567.2 178.2 567.2C179.6 567.2 180.9 556.6 182.3 550.4C183.9 543.4 185.4 536.0 187.0 526.7C188.9 515.5 190.8 495.7 192.7 485.8C193.9 479.5 195.1 471.8 196.3 470.6C198.0 468.9 199.7 467.8 201.3 467.8C204.5 467.8 207.6 472.9 210.8 476.2C214.4 480.0 218.0 489.9 221.6 489.9C225.7 489.9 229.8 475.0 233.9 475.0C238.6 475.0 243.2 487.6 247.9 487.6C252.3 487.6 256.7 476.8 261.1 476.8C266.1 476.8 271.0 486.1 275.9 486.1C280.1 486.1 284.3 484.4 288.4 484.4C290.6 484.4 292.7 485.0 294.8 485.9C297.0 486.9 299.2 500.0 301.4 507.0C303.5 513.6 305.5 526.8 307.6 526.8C309.1 526.8 310.7 517.9 312.2 510.9C313.5 504.8 314.9 494.6 316.2 484.4C317.9 472.1 319.5 450.8 321.1 440.5C323.1 428.2 325.1 412.4 327.0 412.4C328.8 412.4 330.5 421.9 332.2 430.5C334.2 440.4 336.2 467.5 338.2 484.2C340.1 500.7 342.1 517.1 344.0 530.4C346.3 545.9 348.6 571.1 350.8 571.1C352.6 571.1 354.3 545.4 356.0 530.2C357.6 516.3 359.2 500.6 360.8 483.6C362.3 467.2 363.8 437.9 365.4 429.6C367.1 420.1 368.9 411.3 370.7 411.3C372.6 411.3 374.5 424.3 376.5 433.3C378.5 442.6 380.5 459.8 382.5 469.5C383.8 476.1 385.2 480.4 386.5 486.5C387.9 492.6 389.3 501.3 390.7 505.9C393.3 514.8 396.0 525.5 398.6 525.5C401.1 525.5 403.6 523.3 406.1 521.3C409.2 518.8 412.4 511.8 415.5 508.0C419.8 502.7 424.2 494.2 428.6 494.2C432.5 494.2 436.4 494.3 440.3 494.3C445.4 494.3 450.5 488.8 455.6 488.8C459.8 488.8 463.9 494.0 468.1 494.0C471.6 494.0 475.2 492.7 478.7 492.7C481.4 492.7 484.1 497.3 486.8 502.1C488.1 504.3 489.4 510.4 490.6 513.6C492.4 517.9 494.1 524.3 495.8 524.3C497.2 524.3 498.6 516.4 500.0 510.7C501.6 504.4 503.1 493.8 504.6 485.3C505.8 478.7 507.0 471.0 508.2 465.4C510.2 456.1 512.2 445.1 514.3 441.9C516.3 438.7 518.3 435.8 520.4 435.8C523.7 435.8 527.0 450.0 530.2 461.7C532.5 469.7 534.8 487.1 537.0 496.6C537.8 499.7 538.5 502.4 539.3 504.9" stroke="#141414" stroke-width="0.7"/>
<path d="M56.5 429.5C58.1 427.5 59.8 427.5 61.4 427.5C63.2 427.5 65.0 434.3 66.8 438.3C68.3 441.6 69.8 445.6 71.3 449.5C72.5 452.7 73.7 455.9 74.9 459.5C76.1 463.2 77.4 466.6 78.6 471.5C79.4 474.8 80.3 478.8 81.1 483.6C82.4 491.1 83.6 503.3 84.9 512.9C86.3 523.5 87.7 534.9 89.1 544.3C90.1 551.2 91.2 559.5 92.2 563.2C93.3 567.2 94.5 571.6 95.6 571.6C96.9 571.6 98.2 556.0 99.5 544.3C101.1 530.2 102.6 501.1 104.2 483.6C106.0 464.0 107.7 440.7 109.5 431.9C111.7 420.9 113.9 410.3 116.1 410.3C118.5 410.3 120.9 417.7 123.3 426.5C125.4 434.1 127.4 462.7 129.5 483.6C131.0 498.9 132.5 518.4 134.0 533.9C135.5 549.4 137.0 577.0 138.5 577.0C140.0 577.0 141.5 548.8 143.0 533.9C144.6 517.7 146.3 502.9 147.9 483.6C149.6 464.0 151.2 428.1 152.9 413.9C154.4 401.1 155.9 386.0 157.4 386.0C159.2 386.0 161.0 401.4 162.8 413.9C164.9 428.7 167.1 459.3 169.2 483.6C170.6 500.0 172.1 523.4 173.5 535.0C175.0 547.2 176.5 562.6 178.0 562.6C179.3 562.6 180.7 553.7 182.0 548.0C183.5 541.6 185.0 534.0 186.5 524.9C188.3 513.8 190.2 493.6 192.0 483.6C193.2 477.3 194.3 470.6 195.5 468.3C197.2 465.0 198.8 462.2 200.5 462.2C203.7 462.2 206.8 469.5 210.0 473.1C213.6 477.3 217.3 485.6 220.9 485.6C225.1 485.6 229.2 472.3 233.4 472.3C238.1 472.3 242.8 484.4 247.5 484.4C251.9 484.4 256.4 475.5 260.8 475.5C265.7 475.5 270.7 484.8 275.6 484.8C279.8 484.8 283.9 482.6 288.1 482.6C290.2 482.6 292.3 483.0 294.4 483.6C296.6 484.3 298.7 498.2 300.9 505.0C302.9 511.4 305.0 523.6 307.0 523.6C308.5 523.6 310.0 516.3 311.5 510.0C312.8 504.4 314.2 493.6 315.5 483.6C317.2 471.2 318.8 450.4 320.5 440.0C322.5 427.3 324.6 410.8 326.6 410.8C328.4 410.8 330.2 421.0 332.0 430.0C334.0 440.2 336.1 466.8 338.1 483.6C340.1 500.0 342.0 518.1 344.0 530.0C346.3 543.7 348.5 563.0 350.8 563.0C352.5 563.0 354.3 543.3 356.0 530.0C357.6 517.7 359.2 500.4 360.8 483.6C362.4 467.3 363.9 439.0 365.5 430.0C367.3 419.5 369.2 409.4 371.0 409.4C373.0 409.4 375.0 422.9 377.0 432.0C379.0 441.3 381.1 457.9 383.1 467.4C384.5 473.8 385.8 477.8 387.2 483.6C388.5 489.4 389.9 498.0 391.2 502.4C393.8 510.8 396.3 520.8 398.9 520.8C402.6 520.8 406.3 518.4 410.0 515.7C413.0 513.5 416.0 505.2 419.0 500.4C422.0 495.6 425.0 487.0 428.0 487.0C431.9 487.0 435.7 488.7 439.6 488.7C444.7 488.7 449.8 482.4 454.9 482.4C459.1 482.4 463.3 488.3 467.5 488.3C471.1 488.3 474.6 486.9 478.2 486.9C480.9 486.9 483.6 492.3 486.3 497.7C487.5 500.2 488.8 507.1 490.0 510.0C491.7 514.0 493.3 519.0 495.0 519.0C496.3 519.0 497.7 512.8 499.0 508.0C500.5 502.6 502.0 491.9 503.5 483.6C504.7 476.9 506.0 468.7 507.2 462.9C509.3 452.9 511.4 441.5 513.5 437.7C515.7 433.7 517.8 430.0 520.0 430.0C523.4 430.0 526.8 442.4 530.2 452.7C532.5 459.8 534.9 474.7 537.2 483.6C537.9 486.3 538.6 488.7 539.3 491.0" stroke="#d41c24" stroke-width="2.0"/>
</g>
<path d="M66.68 625.70v-3.0M66.68 341.60v3.0M84.24 625.70v-3.0M84.24 341.60v3.0M101.80 625.70v-3.0M101.80 341.60v3.0M119.35 625.70v-5.5M119.35 341.60v5.5M136.91 625.70v-3.0M136.91 341.60v3.0M154.46 625.70v-3.0M154.46 341.60v3.0M172.02 625.70v-3.0M172.02 341.60v3.0M189.58 625.70v-3.0M189.58 341.60v3.0M207.13 625.70v-5.5M207.13 341.60v5.5M224.69 625.70v-3.0M224.69 341.60v3.0M242.25 625.70v-3.0M242.25 341.60v3.0M259.80 625.70v-3.0M259.80 341.60v3.0M277.36 625.70v-3.0M277.36 341.60v3.0M294.92 625.70v-5.5M294.92 341.60v5.5M312.47 625.70v-3.0M312.47 341.60v3.0M330.03 625.70v-3.0M330.03 341.60v3.0M347.58 625.70v-3.0M347.58 341.60v3.0M365.14 625.70v-3.0M365.14 341.60v3.0M382.70 625.70v-5.5M382.70 341.60v5.5M400.25 625.70v-3.0M400.25 341.60v3.0M417.81 625.70v-3.0M417.81 341.60v3.0M435.37 625.70v-3.0M435.37 341.60v3.0M452.92 625.70v-3.0M452.92 341.60v3.0M470.48 625.70v-5.5M470.48 341.60v5.5M488.04 625.70v-3.0M488.04 341.60v3.0M505.59 625.70v-3.0M505.59 341.60v3.0M523.15 625.70v-3.0M523.15 341.60v3.0M56.50 611.50h3.0M539.30 611.50h-3.0M56.50 597.29h3.0M539.30 597.29h-3.0M56.50 583.09h3.0M539.30 583.09h-3.0M56.50 568.88h3.0M539.30 568.88h-3.0M56.50 554.68h5.5M539.30 554.68h-5.5M56.50 540.47h3.0M539.30 540.47h-3.0M56.50 526.26h3.0M539.30 526.26h-3.0M56.50 512.06h3.0M539.30 512.06h-3.0M56.50 497.86h3.0M539.30 497.86h-3.0M56.50 483.65h5.5M539.30 483.65h-5.5M56.50 469.45h3.0M539.30 469.45h-3.0M56.50 455.24h3.0M539.30 455.24h-3.0M56.50 441.04h3.0M539.30 441.04h-3.0M56.50 426.83h3.0M539.30 426.83h-3.0M56.50 412.62h5.5M539.30 412.62h-5.5M56.50 398.42h3.0M539.30 398.42h-3.0M56.50 384.22h3.0M539.30 384.22h-3.0M56.50 370.01h3.0M539.30 370.01h-3.0M56.50 355.81h3.0M539.30 355.81h-3.0" stroke="#000" stroke-width="1.1" fill="none"/>
<rect x="56.50" y="341.60" width="482.80" height="284.10" fill="none" stroke="#000" stroke-width="1.3"/>
<text x="119.35" y="636.00" font-size="11.37" text-anchor="middle" textLength="28.38" lengthAdjust="spacingAndGlyphs" >2000</text>
<text x="207.13" y="636.00" font-size="11.37" text-anchor="middle" textLength="28.38" lengthAdjust="spacingAndGlyphs" >2005</text>
<text x="294.92" y="636.00" font-size="11.37" text-anchor="middle" textLength="28.38" lengthAdjust="spacingAndGlyphs" >2010</text>
<text x="382.70" y="636.00" font-size="11.37" text-anchor="middle" textLength="28.38" lengthAdjust="spacingAndGlyphs" >2015</text>
<text x="470.48" y="636.00" font-size="11.37" text-anchor="middle" textLength="28.38" lengthAdjust="spacingAndGlyphs" >2020</text>
<text x="54.10" y="629.75" font-size="11.37" text-anchor="end" textLength="23.53" lengthAdjust="spacingAndGlyphs" >−12</text>
<text x="54.10" y="558.73" font-size="11.37" text-anchor="end" textLength="16.44" lengthAdjust="spacingAndGlyphs" >−6</text>
<text x="54.10" y="487.70" font-size="11.37" text-anchor="end" textLength="7.09" lengthAdjust="spacingAndGlyphs" >0</text>
<text x="54.10" y="416.68" font-size="11.37" text-anchor="end" textLength="7.09" lengthAdjust="spacingAndGlyphs" >6</text>
<text x="54.10" y="345.65" font-size="11.37" text-anchor="end" textLength="14.19" lengthAdjust="spacingAndGlyphs" >12</text>
<path d="M653.98 32.40V316.70M743.05 32.40V316.70M832.12 32.40V316.70M921.19 32.40V316.70M1010.27 32.40V316.70M590.20 245.62H1080.10M590.20 174.55H1080.10M590.20 103.47H1080.10" stroke="#b4b4b4" stroke-width="0.85" stroke-dasharray="2.6,1.7" fill="none"/>
<clipPath id="cc"><rect x="590.2" y="32.4" width="489.89999999999986" height="284.3"/></clipPath>
<g clip-path="url(#cc)" fill="none" stroke-linejoin="round">
<path d="M590.2 76.5C591.7 83.8 593.2 90.7 594.7 96.7C596.6 104.4 598.5 109.7 600.4 117.5C602.3 125.3 604.2 135.4 606.1 144.3C608.1 154.0 610.2 162.8 612.2 173.1C613.9 181.4 615.5 191.5 617.2 199.6C618.9 207.9 620.5 214.9 622.2 222.7C623.5 228.7 624.9 236.6 626.2 241.0C627.3 244.7 628.4 249.9 629.5 249.9C631.6 249.9 633.6 237.8 635.7 227.8C638.0 216.8 640.4 190.6 642.7 175.1C644.4 163.5 646.1 147.9 647.8 143.7C649.6 139.4 651.4 135.6 653.2 135.6C655.0 135.6 656.9 142.9 658.8 148.3C660.9 154.6 663.1 166.3 665.3 174.8C667.7 184.0 670.0 201.3 672.4 201.3C673.9 201.3 675.4 196.2 676.9 191.4C678.0 188.0 679.0 177.2 680.1 173.9C681.9 168.2 683.6 164.1 685.4 162.6C688.4 160.1 691.4 158.2 694.4 158.2C695.8 158.2 697.3 161.8 698.7 164.4C700.0 166.5 701.2 170.3 702.4 173.0C705.0 178.9 707.7 189.4 710.3 189.4C712.3 189.4 714.2 176.3 716.2 173.9C719.0 170.5 721.9 167.5 724.8 167.5C728.7 167.5 732.5 175.0 736.4 175.0C740.3 175.0 744.3 173.0 748.2 171.9C750.7 171.3 753.1 170.8 755.5 169.9C758.8 168.6 762.2 163.4 765.5 163.4C768.2 163.4 770.8 170.8 773.5 173.7C777.0 177.6 780.4 183.6 783.9 183.6C786.8 183.6 789.7 177.7 792.5 173.6C795.0 170.1 797.4 160.3 799.8 160.3C803.0 160.3 806.2 170.2 809.4 173.8C812.6 177.4 815.8 182.7 818.9 182.7C822.1 182.7 825.2 178.8 828.3 178.8C831.5 178.8 834.8 185.6 838.0 190.1C841.1 194.4 844.2 206.2 847.3 206.2C849.7 206.2 852.2 188.5 854.7 175.4C856.4 166.7 858.0 149.0 859.7 141.0C861.6 131.8 863.5 119.9 865.5 119.9C867.2 119.9 869.0 132.6 870.8 141.4C872.6 150.2 874.4 162.0 876.2 175.8C877.4 184.8 878.6 201.4 879.7 208.5C881.2 216.9 882.6 226.8 884.0 226.8C885.1 226.8 886.2 221.6 887.4 215.2C887.8 212.8 888.2 204.1 888.6 201.1C890.5 188.1 892.3 181.5 894.1 175.7C896.0 169.5 897.9 163.8 899.9 161.6C902.0 159.2 904.2 159.0 906.4 156.9C907.6 155.8 908.9 153.7 910.1 152.2C911.7 150.3 913.2 146.8 914.7 146.8C916.1 146.8 917.5 154.6 918.9 159.6C920.1 163.9 921.4 171.0 922.6 175.3C924.8 183.2 927.0 194.7 929.3 194.7C932.2 194.7 935.2 177.1 938.2 173.9C940.7 171.2 943.2 168.8 945.7 168.6C948.5 168.3 951.3 168.1 954.0 168.1C957.4 168.1 960.8 171.2 964.1 173.5C967.5 175.8 970.8 183.4 974.1 183.4C976.9 183.4 979.7 177.0 982.5 173.7C985.3 170.3 988.1 163.2 990.9 163.2C994.3 163.2 997.6 169.1 1001.0 172.4C1004.9 176.2 1008.8 185.0 1012.7 185.0C1016.0 185.0 1019.3 177.4 1022.7 172.7C1024.1 170.7 1025.5 165.9 1026.9 165.9C1030.0 165.9 1033.0 172.8 1036.1 172.8C1040.5 172.8 1044.8 165.7 1049.2 161.0C1051.5 158.5 1053.8 154.9 1056.1 152.3C1059.6 148.3 1063.1 141.6 1066.6 141.6C1069.6 141.6 1072.5 153.9 1075.4 166.8C1077.0 173.6 1078.5 188.3 1080.1 203.0" stroke="#141414" stroke-width="0.7"/>
<path d="M590.2 60.9C592.0 73.6 593.8 85.0 595.6 93.9C597.6 103.8 599.6 110.7 601.6 118.8C603.9 128.2 606.3 136.1 608.6 146.0C610.7 154.8 612.8 164.1 614.9 175.0C616.4 182.8 617.9 192.9 619.4 201.4C620.8 209.1 622.2 216.4 623.6 223.8C624.6 229.6 625.7 237.1 626.7 241.0C627.6 244.3 628.6 248.7 629.5 248.7C631.4 248.7 633.4 235.8 635.4 225.6C637.6 214.1 639.8 188.0 642.0 173.1C643.8 161.0 645.6 146.0 647.4 141.3C649.2 136.6 651.0 132.2 652.8 132.2C654.7 132.2 656.6 140.4 658.5 146.1C660.7 152.8 662.8 164.4 665.0 172.9C667.3 182.1 669.6 199.1 672.0 199.1C673.5 199.1 675.0 194.3 676.5 189.7C677.5 186.3 678.6 175.6 679.7 172.2C681.5 166.7 683.3 162.7 685.0 161.1C688.1 158.5 691.1 156.5 694.1 156.5C695.7 156.5 697.2 160.9 698.8 163.7C700.1 166.1 701.4 169.6 702.7 172.3C705.5 178.0 708.3 188.3 711.1 188.3C713.2 188.3 715.2 174.9 717.3 172.5C720.3 169.1 723.3 166.3 726.2 166.3C730.2 166.3 734.1 173.7 738.0 173.7C742.0 173.7 745.9 171.4 749.8 170.0C752.2 169.2 754.5 168.3 756.9 167.2C760.1 165.6 763.3 161.0 766.5 161.0C769.1 161.0 771.6 170.8 774.1 173.8C777.5 177.8 780.9 182.8 784.2 182.8C787.0 182.8 789.8 177.2 792.6 172.8C795.0 169.2 797.3 157.5 799.7 157.5C802.8 157.5 805.9 167.7 809.0 171.4C812.0 175.0 815.1 180.5 818.1 180.5C821.1 180.5 824.2 176.7 827.2 176.7C830.3 176.7 833.5 184.1 836.7 188.7C839.7 193.2 842.8 204.4 845.9 204.4C848.4 204.4 850.9 187.3 853.5 174.6C855.2 165.8 857.0 148.1 858.7 139.6C860.8 129.7 862.8 116.5 864.9 116.5C866.7 116.5 868.6 130.2 870.5 139.5C872.3 148.6 874.2 160.5 876.0 174.2C877.2 182.9 878.3 199.8 879.5 205.2C880.9 211.5 882.2 217.8 883.6 217.8C884.7 217.8 885.8 213.3 886.9 209.4C887.6 206.9 888.3 201.3 889.1 197.8C891.0 188.1 893.0 178.0 894.9 171.9C897.0 165.7 899.0 159.6 901.0 157.5C902.9 155.6 904.8 155.2 906.7 153.7C908.1 152.7 909.5 151.3 910.9 149.9C912.5 148.4 914.1 144.9 915.7 144.9C917.2 144.9 918.6 153.6 920.1 159.0C921.3 163.4 922.5 170.1 923.7 174.4C925.9 182.3 928.1 194.0 930.3 194.0C933.2 194.0 936.1 166.5 939.1 166.5C941.6 166.5 944.1 167.5 946.6 167.5C949.4 167.5 952.1 166.9 954.9 166.9C958.3 166.9 961.6 170.2 965.0 172.2C968.3 174.1 971.6 178.5 974.9 178.5C977.6 178.5 980.4 174.2 983.1 170.9C985.8 167.7 988.5 157.2 991.2 157.2C994.4 157.2 997.7 165.2 1001.0 168.8C1004.8 173.0 1008.7 180.4 1012.5 180.4C1015.8 180.4 1019.0 175.3 1022.3 171.0C1023.7 169.2 1025.1 163.3 1026.5 163.3C1029.6 163.3 1032.7 171.8 1035.7 171.8C1040.2 171.8 1044.6 164.8 1049.1 160.5C1051.4 158.2 1053.8 155.2 1056.2 152.8C1059.8 149.0 1063.4 142.1 1067.0 142.1C1070.0 142.1 1073.0 153.9 1076.0 167.5C1077.3 173.8 1078.7 188.8 1080.1 203.3" stroke="#141414" stroke-width="0.7"/>
<path d="M590.2 110.7C591.9 110.7 593.7 110.7 595.4 110.7C597.4 110.7 599.3 115.3 601.3 119.6C603.5 124.4 605.7 136.7 607.8 146.0C609.9 154.8 612.0 163.3 614.0 173.9C615.5 181.7 617.0 191.9 618.5 200.5C620.0 208.6 621.4 216.2 622.8 224.4C623.9 230.7 625.0 239.5 626.1 244.0C627.0 248.0 628.0 253.3 629.0 253.3C631.0 253.3 633.0 239.4 635.0 228.6C637.2 216.5 639.5 189.7 641.7 174.6C643.5 162.6 645.3 146.7 647.1 143.4C648.9 140.1 650.7 137.4 652.5 137.4C654.4 137.4 656.3 143.7 658.1 148.7C660.3 154.5 662.5 166.4 664.7 175.2C667.0 184.7 669.4 203.7 671.7 203.7C673.3 203.7 674.8 198.3 676.3 193.4C677.5 189.9 678.6 179.3 679.7 175.8C681.5 170.3 683.3 165.8 685.1 164.6C688.1 162.5 691.1 161.1 694.1 161.1C695.6 161.1 697.1 164.3 698.6 166.8C699.8 168.9 701.0 173.0 702.2 175.7C704.9 181.7 707.6 192.2 710.3 192.2C712.2 192.2 714.2 179.1 716.1 176.5C719.0 172.6 722.0 169.1 724.9 169.1C728.7 169.1 732.6 175.8 736.5 175.8C740.4 175.8 744.3 173.3 748.2 172.2C750.6 171.5 752.9 171.1 755.3 170.2C758.5 169.0 761.8 164.3 765.0 164.3C767.5 164.3 770.1 170.7 772.6 173.6C775.9 177.5 779.3 184.6 782.7 184.6C785.5 184.6 788.3 178.1 791.1 174.1C793.5 170.8 795.9 162.4 798.3 162.4C801.5 162.4 804.7 172.5 807.9 176.2C811.1 179.9 814.3 185.6 817.5 185.6C820.7 185.6 823.8 182.4 827.0 182.4C830.3 182.4 833.5 188.2 836.8 192.7C839.9 196.9 843.1 211.0 846.2 211.0C848.7 211.0 851.2 190.1 853.8 176.2C855.5 166.8 857.2 149.0 858.9 141.9C860.9 133.8 862.8 124.5 864.8 124.5C866.6 124.5 868.5 133.6 870.3 140.9C872.1 148.3 874.0 161.0 875.8 174.6C877.0 183.5 878.2 200.2 879.4 207.4C880.8 215.7 882.1 225.8 883.5 225.8C884.6 225.8 885.8 220.0 886.9 214.7C887.5 211.9 888.1 204.8 888.6 201.3C890.5 190.5 892.4 182.3 894.2 176.6C896.2 170.7 898.1 165.3 900.0 163.2C902.0 161.1 903.9 160.8 905.8 159.1C907.1 158.0 908.4 156.2 909.7 154.9C911.3 153.2 912.9 150.0 914.5 150.0C916.0 150.0 917.4 156.9 918.9 161.5C920.2 165.6 921.5 172.6 922.8 177.0C925.1 184.7 927.4 196.5 929.7 196.5C932.7 196.5 935.8 177.8 938.8 177.1C941.3 176.6 943.9 176.5 946.4 176.2C949.2 175.9 952.0 175.2 954.7 175.2C958.1 175.2 961.5 176.4 964.8 177.9C968.2 179.4 971.5 190.0 974.8 190.0C977.6 190.0 980.3 181.7 983.1 178.4C985.9 175.1 988.6 169.9 991.3 169.9C994.7 169.9 998.0 174.4 1001.4 177.5C1005.3 181.0 1009.2 191.0 1013.1 191.0C1016.4 191.0 1019.7 181.3 1023.0 176.5C1024.4 174.5 1025.8 170.4 1027.2 170.4C1030.2 170.4 1033.3 176.8 1036.3 176.8C1040.6 176.8 1045.0 170.4 1049.4 166.7C1051.7 164.8 1054.0 162.4 1056.3 160.5C1059.9 157.7 1063.5 152.7 1067.0 152.7C1070.0 152.7 1073.0 161.6 1076.0 173.4C1077.4 178.7 1078.7 194.3 1080.1 208.8" stroke="#141414" stroke-width="0.7"/>
<path d="M590.2 51.5C591.9 66.6 593.6 80.2 595.3 89.6C597.4 101.6 599.6 109.7 601.7 117.7C604.4 127.8 607.1 133.9 609.9 143.8C612.1 152.1 614.4 161.5 616.7 172.4C618.3 179.9 619.9 189.4 621.5 198.2C622.8 205.6 624.1 212.9 625.5 220.9C626.5 226.7 627.4 234.5 628.4 239.1C629.2 242.8 630.0 248.2 630.8 248.2C632.6 248.2 634.4 235.8 636.2 226.0C638.2 214.8 640.3 189.1 642.3 174.7C644.1 162.4 645.8 147.6 647.5 142.6C649.3 137.5 651.1 132.7 652.9 132.7C654.7 132.7 656.6 141.5 658.4 147.5C660.5 154.4 662.7 165.9 664.8 174.3C667.1 183.4 669.4 199.9 671.7 199.9C673.1 199.9 674.6 195.0 676.0 190.2C677.1 186.8 678.1 175.8 679.1 172.3C680.9 166.4 682.6 162.4 684.4 160.4C687.4 157.0 690.4 154.1 693.4 154.1C695.0 154.1 696.5 159.1 698.1 162.0C699.4 164.6 700.7 168.0 702.1 170.7C704.9 176.5 707.7 186.9 710.5 186.9C712.6 186.9 714.6 173.5 716.7 171.2C719.7 167.8 722.6 165.1 725.6 165.1C729.4 165.1 733.3 172.7 737.2 172.7C741.1 172.7 744.9 170.8 748.8 169.6C751.1 168.9 753.5 168.2 755.8 167.1C759.0 165.6 762.2 161.0 765.5 161.0C768.0 161.0 770.6 171.0 773.2 174.0C776.7 178.0 780.1 183.1 783.6 183.1C786.5 183.1 789.4 178.1 792.3 174.0C794.8 170.6 797.2 159.2 799.7 159.2C802.9 159.2 806.1 169.6 809.3 173.1C812.5 176.6 815.6 181.4 818.8 181.4C821.8 181.4 824.9 176.4 828.0 176.4C831.1 176.4 834.3 183.0 837.5 187.2C840.5 191.3 843.6 202.1 846.6 202.1C849.1 202.1 851.6 185.4 854.1 172.8C855.8 164.1 857.5 146.4 859.2 137.8C861.2 127.7 863.2 114.1 865.2 114.1C867.1 114.1 869.0 128.5 870.8 138.0C872.7 147.5 874.6 159.6 876.4 173.2C877.6 182.0 878.8 199.5 880.0 204.0C881.4 209.1 882.7 213.7 884.1 213.7C885.2 213.7 886.3 210.0 887.3 206.7C888.1 204.4 888.9 199.4 889.6 195.8C891.5 187.0 893.4 175.8 895.3 169.7C897.2 163.4 899.1 157.5 901.1 155.2C902.7 153.3 904.4 152.9 906.0 151.5C907.4 150.3 908.7 148.8 910.0 147.4C911.7 145.7 913.4 141.9 915.0 141.9C916.6 141.9 918.1 151.6 919.7 157.2C921.0 162.0 922.3 168.4 923.6 172.9C926.0 180.8 928.3 193.3 930.6 193.3C933.7 193.3 936.7 164.9 939.7 164.9C942.2 164.9 944.7 167.6 947.2 167.6C949.9 167.6 952.6 167.0 955.3 167.0C958.6 167.0 961.9 170.1 965.1 172.0C968.4 173.9 971.6 178.7 974.8 178.7C977.5 178.7 980.2 174.1 982.9 170.7C985.6 167.4 988.3 157.5 991.0 157.5C994.3 157.5 997.7 165.2 1001.0 168.7C1004.9 172.7 1008.8 179.7 1012.7 179.7C1016.0 179.7 1019.4 174.2 1022.7 169.6C1024.2 167.6 1025.6 161.2 1027.1 161.2C1030.1 161.2 1033.2 169.9 1036.3 169.9C1040.7 169.9 1045.1 162.4 1049.5 157.6C1051.8 155.0 1054.1 151.1 1056.5 148.5C1060.0 144.5 1063.5 138.1 1067.1 138.1C1070.0 138.1 1073.0 151.6 1076.0 166.3C1077.3 173.1 1078.7 188.3 1080.1 203.0" stroke="#141414" stroke-width="0.7"/>
<path d="M590.2 127.4C591.9 122.2 593.7 118.4 595.4 118.4C597.1 118.4 598.9 120.1 600.6 122.6C602.1 124.7 603.5 141.0 605.0 149.0C606.8 159.2 608.7 166.7 610.5 176.7C612.1 184.9 613.6 195.1 615.1 203.5C616.8 212.8 618.5 220.4 620.2 229.9C621.6 237.4 622.9 249.5 624.3 254.3C625.5 258.5 626.7 263.4 627.9 263.4C630.1 263.4 632.3 244.9 634.6 232.2C637.1 217.9 639.6 192.6 642.1 176.3C643.9 164.5 645.7 147.4 647.5 144.5C649.4 141.4 651.3 139.2 653.1 139.2C655.1 139.2 657.0 144.5 658.9 149.1C661.1 154.4 663.2 166.6 665.4 175.9C667.8 185.7 670.1 206.5 672.4 206.5C673.9 206.5 675.4 200.5 676.9 195.1C677.9 191.4 678.9 180.5 680.0 177.1C681.7 171.5 683.5 167.0 685.2 165.9C688.2 164.1 691.1 162.9 694.1 162.9C695.5 162.9 696.9 166.4 698.4 169.0C699.6 171.1 700.8 175.2 702.0 177.9C704.7 183.9 707.3 193.9 710.0 193.9C712.0 193.9 713.9 180.3 715.9 177.7C718.8 173.7 721.7 170.1 724.6 170.1C728.6 170.1 732.5 177.2 736.5 177.2C740.5 177.2 744.5 175.5 748.5 174.5C751.0 173.9 753.5 173.4 756.0 172.5C759.3 171.4 762.6 167.9 766.0 167.9C768.6 167.9 771.3 172.9 773.9 175.7C777.3 179.4 780.7 187.7 784.1 187.7C786.9 187.7 789.7 178.9 792.5 174.6C794.8 171.0 797.2 163.8 799.5 163.8C802.5 163.8 805.6 173.2 808.7 176.9C811.7 180.5 814.7 186.3 817.8 186.3C820.8 186.3 823.8 183.6 826.8 183.6C830.0 183.6 833.1 189.1 836.3 193.5C839.4 197.8 842.5 212.4 845.6 212.4C848.2 212.4 850.8 189.7 853.4 175.5C855.2 165.5 857.0 146.8 858.8 140.7C860.9 133.7 863.0 126.7 865.1 126.7C867.0 126.7 868.9 133.3 870.8 139.6C872.7 145.8 874.6 159.5 876.4 173.8C877.6 182.9 878.8 201.1 880.0 208.7C881.4 217.5 882.7 228.1 884.1 228.1C885.2 228.1 886.3 224.8 887.4 217.0C887.6 215.6 887.8 205.2 888.0 203.3C889.7 186.5 891.5 183.6 893.2 178.1C895.2 171.8 897.1 166.1 899.1 164.3C901.6 161.9 904.1 161.9 906.6 160.0C908.0 158.9 909.4 156.9 910.7 155.5C912.4 153.8 914.1 150.9 915.7 150.9C917.3 150.9 918.8 156.8 920.3 161.2C921.6 165.0 922.9 172.4 924.2 176.9C926.5 184.8 928.7 197.1 931.0 197.1C933.9 197.1 936.8 179.0 939.8 179.0C942.2 179.0 944.6 182.1 947.0 182.1C949.6 182.1 952.2 180.4 954.8 180.4C958.0 180.4 961.2 180.5 964.4 180.8C967.6 181.1 970.8 193.9 974.0 193.9C976.8 193.9 979.5 184.1 982.2 181.5C984.9 179.0 987.7 176.0 990.4 176.0C993.8 176.0 997.1 180.7 1000.5 184.1C1004.4 188.0 1008.4 200.4 1012.3 200.4C1015.7 200.4 1019.1 190.0 1022.4 185.2C1023.9 183.1 1025.4 179.0 1026.9 179.0C1030.0 179.0 1033.0 188.3 1036.1 188.3C1040.5 188.3 1045.0 182.2 1049.4 177.7C1051.7 175.3 1054.1 170.2 1056.4 168.3C1060.0 165.4 1063.5 162.3 1067.1 162.3C1070.0 162.3 1073.0 168.1 1076.0 177.2C1077.3 181.4 1078.7 198.1 1080.1 213.2" stroke="#141414" stroke-width="0.7"/>
<path d="M590.2 100.0C591.9 101.9 593.6 104.6 595.2 107.7C597.0 110.9 598.8 114.5 600.5 120.3C602.2 125.9 603.9 138.1 605.6 146.7C607.5 156.1 609.3 164.3 611.2 174.2C612.7 182.1 614.1 192.2 615.6 200.1C617.2 208.5 618.8 215.5 620.3 223.1C621.6 229.3 622.9 237.2 624.2 241.6C625.4 245.5 626.5 250.7 627.7 250.7C629.9 250.7 632.1 238.8 634.3 228.8C636.7 217.8 639.2 191.1 641.6 175.5C643.5 163.7 645.3 147.7 647.1 143.8C649.0 140.0 650.8 136.7 652.6 136.7C654.5 136.7 656.4 143.3 658.2 148.5C660.4 154.4 662.5 166.2 664.6 174.9C666.8 184.2 669.1 202.5 671.4 202.5C672.8 202.5 674.2 197.1 675.6 192.2C676.7 188.6 677.7 177.8 678.7 174.6C680.5 169.0 682.3 164.7 684.0 163.7C687.1 162.1 690.1 161.1 693.2 161.1C694.8 161.1 696.4 164.8 698.0 167.4C699.4 169.7 700.7 173.6 702.1 176.4C705.0 182.1 707.8 192.4 710.6 192.4C712.7 192.4 714.8 179.1 716.9 176.4C719.9 172.6 722.8 169.2 725.8 169.2C729.7 169.2 733.6 176.3 737.5 176.3C741.5 176.3 745.4 174.2 749.3 173.3C751.7 172.8 754.1 172.5 756.4 171.8C759.7 170.8 762.9 166.3 766.1 166.3C768.7 166.3 771.3 172.6 773.8 175.5C777.2 179.4 780.6 186.6 783.9 186.6C786.7 186.6 789.5 179.8 792.3 175.5C794.6 171.9 796.9 162.8 799.3 162.8C802.3 162.8 805.4 172.2 808.5 175.7C811.6 179.1 814.6 184.4 817.7 184.4C820.7 184.4 823.8 179.9 826.8 179.9C830.0 179.9 833.2 186.0 836.4 190.2C839.5 194.3 842.7 206.0 845.8 206.0C848.4 206.0 851.0 187.4 853.6 174.3C855.3 165.2 857.1 147.4 858.9 139.8C860.9 131.1 863.0 120.5 865.0 120.5C866.9 120.5 868.7 131.6 870.6 140.0C872.3 148.2 874.1 160.3 875.9 174.5C877.0 183.3 878.1 200.3 879.3 207.4C880.6 215.8 881.9 225.8 883.2 225.8C884.3 225.8 885.4 220.5 886.5 214.4C886.9 211.9 887.4 203.5 887.8 200.5C889.7 187.7 891.6 181.2 893.5 175.6C895.6 169.6 897.7 164.1 899.8 162.1C902.2 159.9 904.5 159.7 906.9 157.8C908.3 156.7 909.8 154.8 911.2 153.3C912.8 151.6 914.5 148.0 916.1 148.0C917.6 148.0 919.0 155.2 920.5 160.3C921.7 164.4 922.9 171.6 924.1 175.9C926.3 183.8 928.5 195.6 930.6 195.6C933.5 195.6 936.4 178.2 939.3 175.8C941.8 173.9 944.2 172.6 946.6 172.2C949.3 171.7 952.0 171.4 954.7 171.4C957.9 171.4 961.2 173.5 964.5 175.4C967.8 177.4 971.1 186.4 974.4 186.4C977.2 186.4 980.0 179.0 982.8 176.1C985.6 173.1 988.4 168.2 991.2 168.2C994.6 168.2 998.0 173.6 1001.5 176.9C1005.4 180.7 1009.3 190.3 1013.3 190.3C1016.6 190.3 1019.9 180.9 1023.3 176.0C1024.7 174.0 1026.0 169.7 1027.4 169.7C1030.4 169.7 1033.4 174.8 1036.4 174.8C1040.7 174.8 1045.0 167.3 1049.4 162.8C1051.6 160.4 1053.9 157.2 1056.1 154.8C1059.6 151.2 1063.1 145.3 1066.6 145.3C1069.5 145.3 1072.5 156.8 1075.4 169.4C1077.0 176.0 1078.5 191.2 1080.1 206.2" stroke="#141414" stroke-width="0.7"/>
<path d="M590.2 98.5C592.0 100.9 593.8 104.5 595.6 108.6C597.1 111.9 598.6 113.8 600.0 121.0C600.8 124.6 601.5 141.8 602.2 147.9C603.8 161.0 605.4 166.6 607.0 175.6C608.5 184.3 610.0 194.0 611.6 201.1C613.5 210.1 615.5 216.2 617.4 223.9C619.1 230.3 620.7 238.8 622.3 243.3C623.8 247.4 625.2 252.9 626.7 252.9C629.2 252.9 631.7 239.6 634.1 229.0C636.9 217.2 639.6 191.9 642.3 174.9C644.1 163.7 645.9 146.9 647.7 143.1C649.5 139.1 651.3 135.9 653.2 135.9C655.0 135.9 656.9 142.4 658.8 147.5C661.0 153.4 663.2 165.0 665.4 173.7C667.7 183.1 670.1 201.8 672.4 201.8C673.9 201.8 675.4 197.1 676.9 192.4C677.9 189.2 678.9 178.9 680.0 175.7C681.7 170.2 683.5 166.0 685.2 164.8C688.2 162.7 691.2 161.3 694.2 161.3C695.7 161.3 697.2 164.4 698.7 166.7C700.0 168.7 701.3 172.4 702.6 175.1C705.3 180.7 708.1 190.9 710.9 190.9C713.0 190.9 715.0 177.5 717.1 174.9C720.1 171.1 723.1 167.7 726.2 167.7C730.1 167.7 734.1 175.0 738.1 175.0C742.1 175.0 746.1 173.0 750.1 172.2C752.5 171.6 754.9 171.4 757.3 170.7C760.6 169.8 763.9 165.2 767.1 165.2C769.7 165.2 772.3 171.6 774.8 174.5C778.2 178.4 781.5 185.7 784.9 185.7C787.6 185.7 790.4 178.7 793.1 174.4C795.4 170.9 797.7 162.0 800.0 162.0C803.1 162.0 806.2 171.3 809.2 174.8C812.3 178.2 815.3 183.5 818.4 183.5C821.4 183.5 824.5 179.5 827.5 179.5C830.7 179.5 833.9 185.8 837.0 190.3C840.1 194.6 843.2 207.4 846.3 207.4C848.8 207.4 851.3 188.3 853.9 174.9C855.6 165.8 857.3 147.6 859.0 140.6C860.9 132.5 862.9 123.4 864.8 123.4C866.7 123.4 868.5 132.8 870.3 140.4C872.1 148.0 873.9 160.8 875.7 174.9C876.9 184.0 878.0 201.5 879.2 208.7C880.6 217.3 881.9 227.4 883.3 227.4C884.2 227.4 885.2 201.5 886.1 201.5C886.3 201.5 886.4 215.8 886.5 215.8C888.0 215.8 889.5 181.7 891.0 175.9C893.0 168.2 895.0 163.5 897.0 161.7C900.0 159.0 903.0 159.2 905.9 157.0C907.4 156.0 908.8 153.8 910.2 152.3C911.9 150.5 913.6 147.1 915.3 147.1C916.9 147.1 918.5 154.2 920.0 159.1C921.4 163.3 922.7 170.3 924.0 174.8C926.3 182.5 928.6 194.4 930.9 194.4C933.8 194.4 936.8 176.3 939.8 175.0C942.2 173.9 944.7 173.6 947.2 173.1C949.8 172.5 952.5 171.7 955.2 171.7C958.5 171.7 961.8 173.7 965.0 175.7C968.3 177.6 971.5 186.1 974.8 186.1C977.5 186.1 980.3 178.8 983.0 175.8C985.7 172.8 988.4 168.0 991.1 168.0C994.5 168.0 997.8 173.5 1001.1 177.0C1005.0 181.0 1008.9 191.5 1012.8 191.5C1016.1 191.5 1019.4 181.9 1022.7 177.3C1024.2 175.3 1025.6 171.4 1027.0 171.4C1030.1 171.4 1033.1 178.5 1036.2 178.5C1040.6 178.5 1045.0 172.2 1049.4 168.2C1051.8 166.2 1054.1 163.2 1056.4 161.2C1060.0 158.0 1063.5 152.9 1067.1 152.9C1070.1 152.9 1073.0 161.2 1076.0 172.3C1077.4 177.4 1078.7 193.1 1080.1 207.6" stroke="#141414" stroke-width="0.7"/>
<path d="M590.2 48.5C591.7 63.1 593.1 76.3 594.6 87.3C596.2 99.0 597.7 106.4 599.3 117.8C600.4 125.7 601.5 137.1 602.6 144.4C604.4 156.2 606.1 164.0 607.9 173.6C609.5 182.5 611.2 192.4 612.8 199.8C614.7 208.6 616.6 215.1 618.6 222.5C620.2 228.5 621.7 236.2 623.3 240.2C624.7 243.7 626.1 248.2 627.5 248.2C630.0 248.2 632.4 235.5 634.8 225.2C637.4 213.9 640.1 189.3 642.7 173.2C644.5 162.2 646.3 146.5 648.1 142.1C650.0 137.7 651.8 133.6 653.7 133.6C655.5 133.6 657.4 142.2 659.3 148.1C661.5 154.9 663.6 166.3 665.8 174.8C668.1 183.7 670.3 200.3 672.6 200.3C674.1 200.3 675.5 195.3 677.0 190.4C678.0 187.0 679.0 176.2 680.0 172.9C681.8 167.3 683.5 163.6 685.2 161.8C688.2 158.6 691.2 155.8 694.2 155.8C695.8 155.8 697.3 160.5 698.8 163.3C700.1 165.7 701.4 168.7 702.7 171.3C705.4 176.9 708.2 187.4 711.0 187.4C713.0 187.4 715.0 174.2 717.0 171.9C719.9 168.7 722.8 165.9 725.7 165.9C729.6 165.9 733.4 173.2 737.2 173.2C741.1 173.2 744.9 170.8 748.8 169.3C751.1 168.5 753.4 167.5 755.8 166.4C759.0 164.7 762.2 160.2 765.4 160.2C767.9 160.2 770.5 170.0 773.0 173.0C776.4 177.0 779.8 182.0 783.1 182.0C785.9 182.0 788.7 176.7 791.5 172.5C793.9 169.0 796.2 157.4 798.5 157.4C801.6 157.4 804.7 167.7 807.8 171.2C810.9 174.8 814.0 179.9 817.1 179.9C820.1 179.9 823.2 175.8 826.3 175.8C829.6 175.8 832.8 183.4 836.0 188.1C839.2 192.6 842.4 204.1 845.5 204.1C848.1 204.1 850.7 187.4 853.3 175.0C855.1 166.4 856.9 148.9 858.7 140.5C860.8 130.8 862.9 117.8 865.0 117.8C866.8 117.8 868.7 131.3 870.6 140.6C872.5 149.6 874.3 161.5 876.1 175.3C877.3 183.9 878.4 200.9 879.6 206.0C880.9 211.9 882.2 217.6 883.5 217.6C884.5 217.6 885.5 197.7 886.5 197.7C886.5 197.7 886.5 209.1 886.6 209.1C888.2 209.1 889.8 178.1 891.5 172.1C893.4 164.8 895.4 159.6 897.4 157.9C900.2 155.6 902.9 155.8 905.7 153.9C907.1 152.9 908.4 151.1 909.8 149.6C911.4 147.8 913.1 143.9 914.7 143.9C916.2 143.9 917.6 152.7 919.1 158.0C920.3 162.5 921.5 169.0 922.8 173.3C925.0 181.1 927.2 193.1 929.4 193.1C932.4 193.1 935.3 163.0 938.2 163.0C940.7 163.0 943.2 167.9 945.7 167.9C948.4 167.9 951.2 167.8 953.9 167.8C957.3 167.8 960.6 171.1 963.9 173.2C967.2 175.3 970.5 180.8 973.8 180.8C976.6 180.8 979.4 176.0 982.2 173.0C984.9 170.0 987.7 162.4 990.4 162.4C993.8 162.4 997.1 169.2 1000.5 172.6C1004.4 176.5 1008.3 184.2 1012.2 184.2C1015.5 184.2 1018.9 177.2 1022.2 171.5C1023.7 169.0 1025.1 161.4 1026.6 161.4C1029.6 161.4 1032.7 168.4 1035.8 168.4C1040.2 168.4 1044.6 159.8 1049.1 154.0C1051.4 151.0 1053.8 145.9 1056.1 143.1C1059.7 138.9 1063.2 133.3 1066.8 133.3C1069.7 133.3 1072.7 149.3 1075.7 164.9C1077.2 172.6 1078.6 187.7 1080.1 202.7" stroke="#141414" stroke-width="0.7"/>
<path d="M590.2 63.5C591.5 73.7 592.9 83.1 594.2 91.5C595.7 101.0 597.2 105.7 598.7 117.1C599.5 123.4 600.4 136.8 601.2 143.2C602.9 156.0 604.5 162.8 606.2 172.2C607.8 181.2 609.4 191.3 611.0 198.7C613.0 207.9 615.0 214.6 617.0 222.2C618.7 228.6 620.4 236.6 622.1 240.9C623.6 244.7 625.1 249.7 626.6 249.7C629.1 249.7 631.6 237.2 634.1 226.9C636.8 215.7 639.5 191.0 642.2 174.2C644.0 163.2 645.8 146.8 647.5 142.4C649.4 137.9 651.2 134.0 653.0 134.0C654.9 134.0 656.8 141.9 658.7 147.6C660.9 154.2 663.1 165.6 665.3 174.2C667.6 183.5 670.0 201.2 672.4 201.2C673.9 201.2 675.5 196.3 677.0 191.5C678.1 188.2 679.2 177.4 680.2 173.9C682.0 168.3 683.7 164.2 685.4 162.4C688.4 159.5 691.3 157.0 694.2 157.0C695.6 157.0 697.0 160.9 698.5 163.6C699.6 165.8 700.8 169.2 702.0 171.8C704.6 177.5 707.3 187.6 709.9 187.6C711.9 187.6 713.8 174.1 715.8 171.8C718.7 168.4 721.6 165.6 724.5 165.6C728.4 165.6 732.3 173.6 736.2 173.6C740.2 173.6 744.2 172.0 748.2 171.4C750.6 170.9 753.1 170.8 755.5 170.2C758.9 169.4 762.2 164.6 765.5 164.6C768.1 164.6 770.8 172.5 773.4 175.4C776.8 179.1 780.2 184.7 783.6 184.7C786.4 184.7 789.2 178.6 792.0 174.2C794.3 170.6 796.6 159.9 799.0 159.9C802.0 159.9 805.1 170.0 808.2 173.7C811.2 177.3 814.3 182.7 817.4 182.7C820.5 182.7 823.5 178.9 826.6 178.9C829.9 178.9 833.1 186.2 836.4 190.8C839.6 195.3 842.8 207.1 846.0 207.1C848.6 207.1 851.2 189.4 853.8 176.3C855.5 167.4 857.3 149.7 859.1 141.0C861.1 131.3 863.1 118.0 865.1 118.0C866.9 118.0 868.7 130.9 870.5 139.8C872.3 148.6 874.1 160.4 875.8 173.9C877.0 182.5 878.1 198.8 879.3 204.6C880.6 211.6 882.0 219.0 883.4 219.0C884.5 219.0 885.6 198.3 886.8 198.3C886.8 198.3 886.8 210.2 886.8 210.2C888.5 210.2 890.3 179.1 892.0 173.1C894.1 166.0 896.1 160.7 898.2 159.2C901.1 157.1 904.0 157.4 906.9 155.6C908.2 154.8 909.5 153.0 910.8 151.6C912.4 150.0 913.9 146.3 915.5 146.3C916.9 146.3 918.4 154.8 919.8 159.9C921.0 164.3 922.2 170.8 923.4 175.1C925.6 182.8 927.9 194.6 930.1 194.6C933.0 194.6 936.0 172.8 939.0 171.1C941.5 169.8 944.0 169.1 946.5 168.8C949.3 168.5 952.0 168.3 954.8 168.3C958.2 168.3 961.5 171.2 964.9 173.2C968.2 175.2 971.6 181.1 974.9 181.1C977.7 181.1 980.5 175.2 983.3 171.8C986.0 168.4 988.8 160.6 991.5 160.6C994.8 160.6 998.1 167.5 1001.5 171.1C1005.3 175.3 1009.1 184.1 1012.9 184.1C1016.2 184.1 1019.4 177.2 1022.6 172.3C1024.0 170.3 1025.3 164.9 1026.7 164.9C1029.7 164.9 1032.7 171.5 1035.7 171.5C1040.1 171.5 1044.5 163.9 1048.9 159.3C1051.2 156.8 1053.6 153.4 1055.9 150.9C1059.5 147.2 1063.1 140.8 1066.6 140.8C1069.6 140.8 1072.6 153.3 1075.6 166.7C1077.1 173.4 1078.6 188.2 1080.1 202.9" stroke="#141414" stroke-width="0.7"/>
<path d="M590.2 110.4C591.6 110.6 593.1 111.7 594.5 112.9C596.4 114.4 598.2 117.2 600.1 121.5C602.0 126.0 603.9 139.8 605.8 148.9C607.8 158.4 609.8 167.0 611.9 177.3C613.5 185.5 615.1 195.6 616.7 204.1C618.3 212.7 619.9 220.2 621.5 228.7C622.7 235.2 624.0 244.9 625.2 249.0C626.2 252.3 627.2 256.3 628.3 256.3C630.3 256.3 632.3 240.8 634.3 229.4C636.6 216.5 638.9 190.6 641.1 175.0C642.8 163.2 644.6 146.8 646.3 143.5C648.1 140.1 649.8 137.5 651.6 137.5C653.5 137.5 655.3 143.2 657.2 147.9C659.3 153.4 661.5 165.1 663.6 174.0C666.0 183.7 668.3 203.9 670.6 203.9C672.2 203.9 673.7 198.1 675.2 193.0C676.3 189.4 677.4 178.8 678.5 175.5C680.3 170.0 682.1 165.6 683.9 164.6C686.9 162.9 689.9 161.9 692.9 161.9C694.4 161.9 695.9 165.4 697.4 168.0C698.7 170.2 699.9 174.1 701.2 176.9C703.9 182.8 706.6 193.2 709.3 193.2C711.3 193.2 713.3 180.2 715.4 177.7C718.3 174.1 721.3 170.8 724.3 170.8C728.2 170.8 732.2 178.0 736.2 178.0C740.1 178.0 744.1 175.9 748.1 174.7C750.6 174.0 753.0 173.3 755.5 172.3C758.8 171.0 762.1 167.2 765.4 167.2C768.0 167.2 770.7 171.9 773.3 174.7C776.7 178.3 780.2 186.8 783.6 186.8C786.4 186.8 789.2 178.8 792.1 174.7C794.4 171.2 796.7 164.2 799.1 164.2C802.1 164.2 805.2 173.9 808.3 177.5C811.3 181.0 814.4 186.2 817.4 186.2C820.4 186.2 823.4 182.0 826.4 182.0C829.6 182.0 832.8 187.6 836.0 191.6C839.1 195.5 842.2 207.5 845.3 207.5C847.9 207.5 850.5 187.5 853.1 174.1C854.9 164.7 856.7 146.5 858.6 139.5C860.6 131.5 862.7 122.4 864.8 122.4C866.8 122.4 868.7 132.3 870.6 140.2C872.5 147.9 874.4 160.7 876.3 174.7C877.5 183.8 878.7 200.9 879.9 208.3C881.3 216.8 882.7 227.0 884.1 227.0C885.2 227.0 886.2 222.1 887.3 216.0C887.7 213.7 888.1 205.5 888.6 202.6C890.3 190.0 892.1 183.4 893.9 177.8C895.8 171.7 897.7 166.2 899.6 164.1C901.7 161.9 903.8 161.6 905.9 159.8C907.1 158.7 908.4 156.7 909.7 155.4C911.2 153.7 912.8 150.9 914.3 150.9C915.8 150.9 917.3 157.3 918.7 161.8C920.0 165.8 921.3 173.0 922.6 177.3C925.0 185.1 927.4 196.8 929.7 196.8C932.8 196.8 935.9 178.7 939.0 177.2C941.7 176.0 944.3 175.6 947.0 175.0C949.8 174.4 952.7 173.5 955.5 173.5C958.9 173.5 962.3 174.9 965.7 176.4C969.0 178.0 972.3 187.8 975.6 187.8C978.3 187.8 981.0 179.6 983.7 176.5C986.4 173.4 989.0 168.7 991.7 168.7C994.9 168.7 998.2 173.8 1001.5 177.3C1005.3 181.4 1009.1 193.1 1012.9 193.1C1016.3 193.1 1019.6 184.2 1022.9 180.2C1024.3 178.4 1025.8 175.2 1027.2 175.2C1030.4 175.2 1033.5 182.4 1036.6 182.4C1041.1 182.4 1045.6 174.8 1050.0 170.1C1052.4 167.6 1054.8 163.9 1057.2 161.5C1060.8 158.0 1064.4 152.8 1068.0 152.8C1071.0 152.8 1074.0 160.1 1077.0 172.6C1078.1 176.9 1079.1 193.8 1080.1 208.1" stroke="#141414" stroke-width="0.7"/>
<path d="M590.2 83.4C591.7 91.2 593.2 98.2 594.7 103.6C596.5 110.1 598.4 113.1 600.2 119.8C602.1 126.7 604.0 138.1 605.8 147.1C607.9 156.8 609.9 165.4 611.9 175.7C613.5 183.9 615.1 193.9 616.7 202.2C618.4 210.7 620.0 218.1 621.7 226.2C623.0 232.5 624.3 241.4 625.6 245.2C626.7 248.4 627.9 252.2 629.0 252.2C631.1 252.2 633.2 239.0 635.3 228.4C637.6 216.7 639.9 190.3 642.2 174.7C644.0 162.9 645.7 147.1 647.4 143.0C649.2 138.8 651.0 135.2 652.8 135.2C654.6 135.2 656.4 142.4 658.3 147.7C660.4 153.9 662.5 165.3 664.7 173.7C667.0 182.8 669.3 200.1 671.6 200.1C673.0 200.1 674.5 195.3 675.9 190.8C677.0 187.6 678.0 177.5 679.0 174.5C680.8 169.4 682.5 165.6 684.3 164.5C687.3 162.6 690.3 161.4 693.3 161.4C694.8 161.4 696.3 164.9 697.8 167.4C699.1 169.5 700.4 173.1 701.7 175.6C704.4 181.2 707.2 191.0 709.9 191.0C711.9 191.0 713.9 177.2 715.9 174.5C718.9 170.5 721.8 167.0 724.8 167.0C728.7 167.0 732.6 174.0 736.6 174.0C740.5 174.0 744.5 171.9 748.5 170.9C751.0 170.3 753.5 170.0 756.0 169.2C759.4 168.1 762.7 163.2 766.1 163.2C768.8 163.2 771.6 171.1 774.3 174.2C777.8 178.0 781.3 184.0 784.8 184.0C787.7 184.0 790.6 178.1 793.5 173.8C795.9 170.4 798.3 160.3 800.7 160.3C803.8 160.3 806.9 170.2 810.1 173.9C813.1 177.5 816.2 183.0 819.3 183.0C822.3 183.0 825.3 179.0 828.3 179.0C831.5 179.0 834.7 185.6 837.8 190.0C840.9 194.3 844.0 205.9 847.1 205.9C849.6 205.9 852.1 187.9 854.6 174.8C856.3 165.9 858.0 148.2 859.8 140.0C861.8 130.6 863.8 118.5 865.8 118.5C867.6 118.5 869.4 130.6 871.2 139.3C873.0 147.8 874.8 159.6 876.6 173.6C877.7 182.2 878.8 198.8 879.8 205.4C881.1 213.3 882.4 222.3 883.7 222.3C884.7 222.3 885.8 217.8 886.8 212.3C887.2 210.0 887.6 201.9 888.1 199.0C889.9 186.1 891.8 179.4 893.6 173.5C895.6 167.1 897.7 161.2 899.7 158.9C901.9 156.3 904.1 155.9 906.4 153.8C907.7 152.5 909.1 150.3 910.5 148.6C912.1 146.5 913.7 142.2 915.3 142.2C916.7 142.2 918.2 150.8 919.6 156.1C920.8 160.5 922.0 167.2 923.2 171.5C925.4 179.5 927.6 191.6 929.8 191.6C932.7 191.6 935.7 166.3 938.6 166.3C941.1 166.3 943.7 166.3 946.2 166.4C949.0 166.5 951.8 166.6 954.6 166.8C958.0 167.1 961.4 170.3 964.8 172.7C968.2 175.0 971.5 181.7 974.9 181.7C977.7 181.7 980.5 175.5 983.3 172.0C986.0 168.7 988.8 161.2 991.5 161.2C994.8 161.2 998.1 167.7 1001.4 171.4C1005.2 175.7 1009.0 185.5 1012.9 185.5C1016.1 185.5 1019.4 177.3 1022.6 173.5C1024.0 171.9 1025.4 168.8 1026.8 168.8C1029.8 168.8 1032.9 175.1 1035.9 175.1C1040.3 175.1 1044.7 168.3 1049.1 164.0C1051.5 161.7 1053.8 158.5 1056.1 156.0C1059.7 152.1 1063.3 144.8 1066.8 144.8C1069.8 144.8 1072.8 155.9 1075.8 168.8C1077.2 175.0 1078.7 190.1 1080.1 204.8" stroke="#141414" stroke-width="0.7"/>
<path d="M590.2 46.8C591.9 61.7 593.7 75.1 595.4 86.2C597.3 98.1 599.1 107.2 601.0 116.9C602.8 126.2 604.5 134.6 606.3 143.4C608.3 153.2 610.2 162.3 612.2 172.6C613.8 180.7 615.3 190.7 616.9 198.5C618.5 206.7 620.1 213.5 621.8 221.0C623.0 226.9 624.3 234.6 625.6 238.9C626.7 242.6 627.9 247.7 629.0 247.7C631.1 247.7 633.3 235.5 635.4 225.7C637.9 214.6 640.3 190.2 642.7 174.8C644.5 163.3 646.3 148.0 648.1 142.9C649.9 137.6 651.7 132.5 653.6 132.5C655.4 132.5 657.3 141.1 659.2 147.0C661.4 153.8 663.6 165.2 665.7 173.5C668.1 182.4 670.4 198.6 672.7 198.6C674.2 198.6 675.6 193.7 677.1 189.0C678.1 185.6 679.2 174.7 680.2 171.3C681.9 165.6 683.6 161.8 685.4 159.8C688.3 156.4 691.3 153.3 694.3 153.3C695.8 153.3 697.2 158.8 698.7 161.9C700.0 164.5 701.2 167.8 702.5 170.4C705.2 176.2 707.9 186.5 710.6 186.5C712.6 186.5 714.6 173.1 716.6 171.0C719.6 168.0 722.5 165.5 725.5 165.5C729.4 165.5 733.3 173.5 737.2 173.5C741.2 173.5 745.1 171.5 749.1 170.1C751.4 169.3 753.8 168.1 756.2 166.8C759.4 165.1 762.6 160.7 765.9 160.7C768.4 160.7 770.9 171.7 773.5 174.8C776.8 178.9 780.2 183.7 783.5 183.7C786.4 183.7 789.2 178.8 792.0 174.7C794.4 171.3 796.7 159.0 799.1 159.0C802.3 159.0 805.5 169.2 808.7 172.3C811.8 175.5 815.0 179.7 818.1 179.7C821.2 179.7 824.3 174.4 827.4 174.4C830.5 174.4 833.7 181.6 836.8 186.2C839.9 190.6 842.9 201.9 845.9 201.9C848.4 201.9 850.8 185.6 853.3 173.2C854.9 164.8 856.5 147.4 858.2 139.0C860.1 129.2 862.1 116.0 864.0 116.0C865.8 116.0 867.6 130.7 869.4 140.2C871.2 149.8 872.9 161.7 874.7 175.1C875.9 183.8 877.0 200.8 878.2 205.2C879.6 210.5 881.0 215.2 882.3 215.2C883.5 215.2 884.6 212.0 885.7 207.6C886.2 206.0 886.6 199.3 887.0 196.6C888.9 184.5 890.8 176.5 892.7 170.6C894.8 164.1 896.9 157.9 899.0 156.0C901.3 153.8 903.7 153.8 906.1 152.0C907.6 151.0 909.0 149.0 910.4 147.4C912.2 145.4 913.9 140.9 915.6 140.9C917.2 140.9 918.7 150.0 920.3 155.3C921.6 159.8 922.9 165.9 924.2 170.3C926.5 178.0 928.8 190.7 931.1 190.7C934.0 190.7 936.9 160.0 939.8 160.0C942.3 160.0 944.7 166.6 947.1 166.6C949.7 166.6 952.4 166.6 955.0 166.6C958.3 166.6 961.5 170.0 964.8 172.0C968.0 174.0 971.3 178.7 974.6 178.7C977.3 178.7 980.1 174.6 982.8 171.4C985.6 168.2 988.3 157.8 991.1 157.8C994.4 157.8 997.8 165.6 1001.1 168.9C1005.0 172.8 1008.8 179.4 1012.7 179.4C1016.0 179.4 1019.3 175.0 1022.5 170.0C1023.9 168.0 1025.3 158.8 1026.6 158.8C1029.7 158.8 1032.7 168.1 1035.7 168.1C1040.1 168.1 1044.5 159.5 1048.9 153.9C1051.2 150.9 1053.5 146.1 1055.8 143.3C1059.4 138.9 1063.0 132.7 1066.5 132.7C1069.5 132.7 1072.5 148.4 1075.5 163.5C1077.0 171.2 1078.6 185.9 1080.1 200.7" stroke="#141414" stroke-width="0.7"/>
<path d="M590.2 119.9C591.8 117.4 593.3 116.8 594.9 116.8C596.5 116.8 598.2 119.3 599.9 122.9C601.2 125.7 602.4 142.4 603.7 150.0C605.5 160.9 607.3 168.2 609.1 177.8C610.7 186.3 612.3 196.3 613.9 204.3C615.8 213.6 617.7 220.8 619.5 229.6C621.1 237.0 622.6 248.1 624.1 252.6C625.5 256.6 626.9 261.1 628.3 261.1C630.6 261.1 633.0 243.4 635.4 230.8C637.9 217.0 640.5 191.7 643.1 175.1C644.9 163.7 646.7 146.4 648.4 143.7C650.2 141.1 652.0 139.1 653.8 139.1C655.6 139.1 657.5 144.6 659.3 149.3C661.4 154.7 663.6 166.7 665.7 175.8C668.0 185.5 670.3 205.7 672.5 205.7C674.0 205.7 675.4 200.0 676.8 194.7C677.8 191.0 678.8 180.1 679.8 176.7C681.4 170.8 683.1 166.3 684.7 165.0C687.6 162.9 690.5 161.5 693.4 161.5C694.8 161.5 696.2 164.7 697.6 167.1C698.8 169.2 700.1 173.2 701.3 175.8C704.0 181.8 706.8 191.7 709.6 191.7C711.7 191.7 713.8 178.0 715.9 175.3C719.0 171.5 722.1 168.0 725.2 168.0C729.2 168.0 733.2 175.4 737.3 175.4C741.3 175.4 745.3 173.8 749.4 172.8C751.8 172.3 754.2 171.8 756.6 171.0C759.9 169.9 763.1 165.9 766.3 165.9C768.8 165.9 771.3 171.0 773.9 173.9C777.2 177.7 780.5 186.7 783.8 186.7C786.5 186.7 789.2 178.7 792.0 174.6C794.3 171.2 796.6 164.4 798.9 164.4C802.0 164.4 805.1 174.1 808.2 177.6C811.3 181.1 814.4 186.3 817.5 186.3C820.6 186.3 823.7 182.7 826.7 182.7C830.0 182.7 833.2 188.1 836.4 192.4C839.6 196.5 842.8 210.7 845.9 210.7C848.5 210.7 851.1 189.1 853.7 175.1C855.5 165.4 857.2 147.2 859.0 140.5C861.0 132.9 863.0 124.6 865.0 124.6C866.9 124.6 868.7 133.2 870.5 140.6C872.2 147.8 873.9 160.9 875.7 175.6C876.7 184.6 877.8 202.7 878.8 210.1C880.1 219.0 881.3 229.4 882.6 229.4C883.6 229.4 884.6 227.0 885.6 218.0C885.8 217.0 885.9 204.9 886.0 203.6C887.7 183.5 889.5 183.4 891.3 177.9C893.4 171.3 895.5 165.6 897.6 163.6C900.3 161.0 903.1 161.0 905.8 158.9C907.3 157.8 908.8 155.7 910.3 154.2C912.0 152.5 913.7 149.4 915.5 149.4C917.0 149.4 918.6 156.2 920.1 161.1C921.4 165.2 922.7 172.4 924.0 176.9C926.2 184.6 928.4 196.6 930.7 196.6C933.6 196.6 936.5 177.6 939.4 177.3C941.8 177.1 944.2 177.1 946.7 176.9C949.3 176.7 952.0 176.0 954.7 176.0C957.9 176.0 961.2 176.7 964.5 177.6C967.7 178.6 971.0 189.8 974.3 189.8C977.0 189.8 979.7 180.8 982.5 178.2C985.2 175.6 987.9 172.3 990.6 172.3C994.0 172.3 997.3 177.5 1000.7 181.2C1004.5 185.4 1008.4 198.1 1012.3 198.1C1015.6 198.1 1018.9 188.5 1022.2 184.1C1023.6 182.3 1025.1 178.9 1026.5 178.9C1029.5 178.9 1032.6 188.8 1035.6 188.8C1040.1 188.8 1044.5 182.3 1048.9 177.6C1051.3 175.1 1053.7 170.3 1056.0 168.0C1059.7 164.6 1063.3 160.4 1066.9 160.4C1069.9 160.4 1073.0 166.5 1076.0 176.1C1077.4 180.4 1078.7 197.0 1080.1 211.9" stroke="#141414" stroke-width="0.7"/>
<path d="M590.2 71.9C591.9 81.9 593.6 90.9 595.3 98.2C597.3 106.5 599.2 111.6 601.1 119.2C603.2 127.4 605.3 136.6 607.4 145.9C609.4 155.0 611.4 163.8 613.4 174.2C614.9 182.1 616.5 192.1 618.0 200.2C619.5 208.2 621.0 215.3 622.5 222.9C623.7 228.9 624.9 236.7 626.0 240.8C627.1 244.5 628.1 249.3 629.2 249.3C631.2 249.3 633.3 236.8 635.3 226.7C637.6 215.3 639.9 189.1 642.2 173.9C644.0 162.1 645.8 146.8 647.6 142.4C649.4 138.0 651.2 134.1 653.1 134.1C655.0 134.1 656.9 142.0 658.8 147.7C661.0 154.3 663.3 165.8 665.5 174.3C667.9 183.4 670.3 200.5 672.7 200.5C674.3 200.5 675.8 195.5 677.4 190.7C678.5 187.3 679.6 176.5 680.7 173.0C682.5 167.3 684.2 162.9 686.0 161.4C689.0 158.9 691.9 157.1 694.9 157.1C696.3 157.1 697.7 160.5 699.2 163.1C700.4 165.2 701.5 169.0 702.7 171.6C705.4 177.5 708.0 187.9 710.6 187.9C712.5 187.9 714.4 174.8 716.3 172.5C719.2 169.1 722.0 166.3 724.9 166.3C728.8 166.3 732.6 174.0 736.5 174.0C740.5 174.0 744.5 172.0 748.5 170.8C751.0 170.1 753.5 169.6 756.0 168.6C759.4 167.3 762.8 162.8 766.2 162.8C768.9 162.8 771.6 171.3 774.4 174.3C777.9 178.2 781.4 183.8 784.9 183.8C787.8 183.8 790.7 178.0 793.5 173.8C795.9 170.3 798.3 160.1 800.6 160.1C803.7 160.1 806.8 170.1 809.8 173.7C812.8 177.3 815.8 182.6 818.8 182.6C821.8 182.6 824.7 178.2 827.7 178.2C830.8 178.2 833.9 185.0 837.0 189.3C840.1 193.5 843.2 204.6 846.2 204.6C848.8 204.6 851.4 186.9 853.9 174.0C855.7 165.0 857.5 147.4 859.3 139.0C861.3 129.3 863.3 116.6 865.3 116.6C867.2 116.6 869.0 129.1 870.8 138.1C872.5 146.6 874.3 158.1 876.0 172.3C877.0 180.9 878.1 197.9 879.1 204.7C880.4 212.9 881.6 222.3 882.8 222.3C883.8 222.3 884.8 217.5 885.8 212.4C886.2 209.9 886.7 202.6 887.2 199.5C889.0 187.5 890.8 179.9 892.6 174.0C894.6 167.7 896.6 161.8 898.6 159.6C900.6 157.4 902.7 157.1 904.8 155.4C906.2 154.2 907.6 152.4 909.0 150.8C910.7 148.9 912.4 144.8 914.1 144.8C915.7 144.8 917.3 153.0 918.9 158.0C920.3 162.3 921.7 168.5 923.0 172.9C925.4 180.4 927.7 192.6 930.0 192.6C933.0 192.6 936.0 169.1 939.0 168.3C941.5 167.6 944.0 167.4 946.5 167.2C949.3 167.0 952.0 166.7 954.7 166.7C958.0 166.7 961.3 169.8 964.6 171.8C967.8 173.9 971.1 179.9 974.4 179.9C977.1 179.9 979.9 174.7 982.6 171.4C985.3 168.2 988.0 159.9 990.7 159.9C994.0 159.9 997.3 167.5 1000.6 171.2C1004.5 175.6 1008.3 184.0 1012.1 184.0C1015.4 184.0 1018.7 177.0 1022.0 172.6C1023.3 170.7 1024.7 166.0 1026.1 166.0C1029.1 166.0 1032.1 173.0 1035.2 173.0C1039.5 173.0 1043.9 166.0 1048.3 161.1C1050.7 158.5 1053.0 154.4 1055.4 151.5C1059.0 147.2 1062.5 140.0 1066.1 140.0C1069.2 140.0 1072.2 153.4 1075.3 167.0C1076.9 174.2 1078.5 188.9 1080.1 203.7" stroke="#141414" stroke-width="0.7"/>
<path d="M590.2 126.6C591.7 122.0 593.1 118.4 594.6 118.4C596.1 118.4 597.7 119.7 599.3 122.1C600.2 123.5 601.1 142.5 602.0 149.0C603.7 161.4 605.4 167.3 607.1 176.7C608.7 185.6 610.3 195.8 611.9 203.7C613.9 213.4 615.8 220.6 617.8 229.4C619.4 236.7 621.0 247.4 622.6 251.7C624.1 255.5 625.5 259.9 627.0 259.9C629.4 259.9 631.9 243.2 634.3 231.0C637.0 217.5 639.7 192.3 642.4 175.3C644.2 163.9 646.0 146.3 647.8 143.5C649.7 140.5 651.5 138.4 653.4 138.4C655.3 138.4 657.2 144.0 659.2 148.8C661.3 154.2 663.5 166.2 665.7 175.3C668.1 185.0 670.4 205.5 672.8 205.5C674.2 205.5 675.7 199.9 677.2 194.7C678.3 191.1 679.3 180.6 680.4 177.3C682.1 171.8 683.8 167.5 685.5 166.4C688.5 164.5 691.4 163.2 694.4 163.2C695.8 163.2 697.3 166.4 698.7 168.9C699.9 170.9 701.1 174.7 702.4 177.3C705.1 183.0 707.8 193.0 710.5 193.0C712.5 193.0 714.4 179.4 716.4 176.8C719.3 173.1 722.2 169.9 725.2 169.9C729.0 169.9 732.9 177.5 736.8 177.5C740.7 177.5 744.7 175.8 748.6 174.7C751.0 174.0 753.4 173.2 755.8 172.2C759.1 171.0 762.4 167.7 765.6 167.7C768.2 167.7 770.9 172.6 773.5 175.6C776.9 179.5 780.3 189.0 783.7 189.0C786.5 189.0 789.4 180.6 792.2 176.4C794.6 172.8 797.0 165.6 799.3 165.6C802.5 165.6 805.6 175.1 808.7 178.6C811.9 182.2 815.0 187.6 818.1 187.6C821.2 187.6 824.2 184.1 827.3 184.1C830.5 184.1 833.7 189.4 837.0 193.6C840.1 197.6 843.2 211.8 846.3 211.8C848.8 211.8 851.3 189.8 853.8 175.6C855.6 165.8 857.3 146.9 859.1 141.0C861.1 134.2 863.1 127.5 865.1 127.5C867.0 127.5 868.9 134.7 870.7 141.3C872.6 147.9 874.4 161.6 876.3 176.1C877.4 185.3 878.6 203.5 879.8 211.0C881.1 219.6 882.4 229.8 883.7 229.8C884.6 229.8 885.5 203.3 886.3 203.3C886.5 203.3 886.7 217.8 886.8 217.8C888.3 217.8 889.7 183.4 891.2 177.9C893.1 170.4 895.1 165.7 897.1 164.2C900.0 161.9 902.9 162.1 905.8 160.2C907.2 159.3 908.6 157.4 910.0 156.2C911.7 154.7 913.4 152.1 915.1 152.1C916.6 152.1 918.2 158.1 919.7 162.5C921.0 166.3 922.3 173.4 923.7 177.7C925.9 185.3 928.2 197.1 930.5 197.1C933.5 197.1 936.4 178.4 939.4 178.4C941.9 178.4 944.4 180.9 946.9 180.9C949.6 180.9 952.3 179.5 955.0 179.5C958.4 179.5 961.7 179.9 965.1 180.4C968.4 180.9 971.7 193.5 975.0 193.5C977.8 193.5 980.5 184.0 983.3 180.9C986.0 177.8 988.7 173.5 991.4 173.5C994.7 173.5 997.9 177.2 1001.2 180.1C1005.0 183.4 1008.8 195.0 1012.6 195.0C1015.9 195.0 1019.1 185.1 1022.4 180.9C1023.8 179.1 1025.2 176.0 1026.6 176.0C1029.7 176.0 1032.7 185.3 1035.8 185.3C1040.3 185.3 1044.7 179.0 1049.2 174.5C1051.6 172.1 1054.0 167.7 1056.4 165.6C1060.0 162.4 1063.6 158.4 1067.2 158.4C1070.3 158.4 1073.3 164.8 1076.4 175.4C1077.6 179.6 1078.9 196.9 1080.1 211.9" stroke="#141414" stroke-width="0.7"/>
<path d="M590.2 88.1C591.6 94.2 593.0 99.8 594.4 104.0C596.5 110.5 598.6 113.5 600.8 119.6C603.3 127.0 605.9 136.9 608.5 146.8C610.8 155.5 613.0 164.6 615.3 175.4C616.9 183.1 618.5 192.9 620.1 201.6C621.6 209.2 623.0 216.6 624.4 224.3C625.5 230.2 626.6 238.0 627.6 242.3C628.6 245.8 629.5 250.6 630.4 250.6C632.3 250.6 634.2 238.1 636.1 227.9C638.2 216.5 640.3 189.3 642.5 174.4C644.2 162.2 646.0 146.8 647.7 142.6C649.5 138.5 651.2 134.9 653.0 134.9C654.8 134.9 656.6 142.2 658.4 147.6C660.5 153.8 662.6 165.4 664.7 173.9C667.0 183.1 669.3 200.6 671.5 200.6C673.0 200.6 674.4 195.7 675.9 191.0C676.9 187.7 677.9 177.4 679.0 174.3C680.7 169.1 682.5 165.1 684.2 164.1C687.3 162.4 690.3 161.3 693.3 161.3C694.8 161.3 696.3 164.6 697.8 167.1C699.1 169.2 700.4 173.0 701.7 175.7C704.5 181.4 707.2 191.8 709.9 191.8C712.0 191.8 714.0 178.6 716.0 176.1C719.0 172.3 722.0 168.9 724.9 168.9C728.9 168.9 732.9 175.7 736.8 175.7C740.8 175.7 744.8 173.2 748.9 172.0C751.3 171.3 753.8 170.9 756.3 170.0C759.6 168.8 763.0 164.0 766.3 164.0C769.0 164.0 771.7 170.6 774.4 173.7C777.8 177.6 781.3 184.8 784.7 184.8C787.6 184.8 790.5 178.4 793.3 174.2C795.7 170.8 798.1 161.8 800.5 161.8C803.6 161.8 806.7 171.1 809.8 174.6C812.9 177.9 815.9 183.1 818.9 183.1C821.9 183.1 824.9 179.0 827.9 179.0C831.1 179.0 834.2 185.4 837.4 189.7C840.4 193.9 843.4 205.7 846.5 205.7C849.0 205.7 851.4 187.2 853.9 174.1C855.7 165.1 857.4 147.0 859.1 139.4C861.1 130.5 863.2 119.7 865.2 119.7C867.1 119.7 869.0 131.2 870.9 139.7C872.8 148.2 874.7 160.4 876.6 174.6C877.7 183.6 878.9 200.6 880.1 208.1C881.4 216.5 882.8 227.0 884.1 227.0C885.2 227.0 886.2 220.9 887.2 216.0C887.9 212.7 888.6 205.8 889.3 202.0C891.2 191.4 893.1 182.4 895.0 176.4C896.9 170.1 898.9 164.5 900.9 162.0C902.6 159.7 904.4 159.0 906.1 157.2C907.4 155.9 908.7 154.1 910.1 152.7C911.7 150.9 913.2 147.4 914.8 147.4C916.3 147.4 917.8 155.1 919.3 160.0C920.5 164.3 921.8 171.2 923.1 175.6C925.3 183.3 927.6 195.0 929.9 195.0C932.8 195.0 935.8 177.8 938.7 175.0C941.2 172.6 943.6 170.4 946.1 170.3C948.8 170.1 951.5 170.1 954.2 170.1C957.4 170.1 960.7 173.0 964.0 175.4C967.3 177.9 970.6 187.1 973.9 187.1C976.7 187.1 979.5 180.0 982.3 177.1C985.1 174.3 987.9 169.7 990.7 169.7C994.0 169.7 997.4 174.6 1000.8 177.8C1004.7 181.5 1008.6 191.4 1012.4 191.4C1015.7 191.4 1019.0 181.7 1022.3 176.6C1023.6 174.5 1025.0 170.2 1026.3 170.2C1029.3 170.2 1032.3 175.6 1035.2 175.6C1039.6 175.6 1043.9 168.4 1048.3 164.2C1050.6 162.0 1052.9 159.2 1055.2 156.8C1058.8 153.2 1062.5 146.4 1066.1 146.4C1069.2 146.4 1072.3 157.3 1075.4 169.5C1076.9 175.8 1078.5 190.5 1080.1 205.1" stroke="#141414" stroke-width="0.7"/>
<path d="M590.2 86.8C591.8 92.5 593.4 97.9 595.0 103.0C596.8 108.7 598.6 112.6 600.4 119.0C602.4 126.2 604.5 136.9 606.5 146.0C608.6 155.4 610.7 164.0 612.8 174.6C614.4 182.5 615.9 193.1 617.5 201.0C619.2 209.4 620.8 216.4 622.5 224.0C623.8 230.1 625.2 237.8 626.5 242.0C627.7 245.7 628.8 250.5 630.0 250.5C632.0 250.5 634.0 238.4 636.0 228.0C638.1 217.2 640.1 189.0 642.2 174.6C644.0 162.2 645.7 146.9 647.5 143.0C649.3 139.0 651.1 135.6 652.9 135.6C654.8 135.6 656.6 142.7 658.5 148.0C660.7 154.2 662.8 165.9 665.0 174.6C667.3 183.9 669.7 201.8 672.0 201.8C673.5 201.8 675.0 196.8 676.5 192.0C677.6 188.6 678.6 177.9 679.7 174.6C681.5 169.0 683.2 164.6 685.0 163.5C688.0 161.6 691.0 160.3 694.0 160.3C695.5 160.3 697.0 163.5 698.5 166.0C699.8 168.1 701.0 171.9 702.3 174.6C705.0 180.3 707.8 190.5 710.5 190.5C712.5 190.5 714.5 177.1 716.5 174.6C719.4 170.8 722.4 167.4 725.3 167.4C729.2 167.4 733.1 174.7 737.0 174.7C740.9 174.7 744.9 172.6 748.8 171.8C751.2 171.3 753.6 171.1 756.0 170.5C759.3 169.6 762.5 164.7 765.8 164.7C768.4 164.7 771.0 171.6 773.6 174.6C777.0 178.4 780.4 185.0 783.8 185.0C786.6 185.0 789.5 178.7 792.3 174.6C794.7 171.1 797.0 161.6 799.4 161.6C802.5 161.6 805.7 171.0 808.8 174.6C811.9 178.0 815.0 183.4 818.1 183.4C821.2 183.4 824.2 179.3 827.3 179.3C830.5 179.3 833.7 185.7 836.9 190.0C840.0 194.2 843.1 205.8 846.2 205.8C848.7 205.8 851.3 187.6 853.8 174.6C855.5 165.6 857.3 148.0 859.0 140.0C861.0 130.7 863.0 118.9 865.0 118.9C866.8 118.9 868.7 131.2 870.5 140.0C872.3 148.6 874.1 160.6 875.9 174.6C877.0 183.4 878.2 199.9 879.3 207.0C880.6 215.3 882.0 225.3 883.3 225.3C883.5 225.3 883.8 223.2 884.0 222.0C885.7 213.3 887.3 201.3 889.0 190.0C890.2 182.1 891.3 170.9 892.5 165.0C893.7 158.8 895.0 150.7 896.2 150.7C897.5 150.7 898.7 154.6 900.0 158.0C901.3 161.6 902.7 171.3 904.0 176.0C905.1 180.0 906.3 185.9 907.4 185.9C908.4 185.9 909.5 179.5 910.5 175.0C911.5 170.7 912.5 162.1 913.5 158.0C914.3 154.6 915.2 150.0 916.0 150.0C917.1 150.0 918.3 154.6 919.4 158.0C920.7 161.8 921.9 170.1 923.2 174.6C925.5 182.6 927.7 194.3 930.0 194.3C933.0 194.3 935.9 177.8 938.9 174.6C941.4 171.9 943.9 169.1 946.4 169.1C949.1 169.1 951.9 169.1 954.6 169.1C957.9 169.1 961.3 172.2 964.6 174.6C967.9 176.9 971.2 184.8 974.5 184.8C977.3 184.8 980.0 177.7 982.8 174.6C985.5 171.4 988.3 165.8 991.0 165.8C994.3 165.8 997.7 171.2 1001.0 174.6C1004.9 178.4 1008.7 188.1 1012.6 188.1C1015.9 188.1 1019.2 178.9 1022.5 174.6C1023.9 172.7 1025.3 169.1 1026.7 169.1C1029.7 169.1 1032.8 174.9 1035.8 174.9C1040.2 174.9 1044.6 168.1 1049.0 164.1C1051.3 162.0 1053.7 159.3 1056.0 157.0C1059.6 153.5 1063.1 146.8 1066.7 146.8C1069.7 146.8 1072.7 157.1 1075.7 169.3C1077.2 175.3 1078.6 190.4 1080.1 205.0" stroke="#141414" stroke-width="0.7"/>
<path d="M590.2 86.8C591.8 92.5 593.4 97.9 595.0 103.0C596.8 108.7 598.6 112.6 600.4 119.0C602.4 126.2 604.5 136.9 606.5 146.0C608.6 155.4 610.7 164.0 612.8 174.6C614.4 182.5 615.9 193.1 617.5 201.0C619.2 209.4 620.8 216.4 622.5 224.0C623.8 230.1 625.2 237.8 626.5 242.0C627.7 245.7 628.8 250.5 630.0 250.5C632.0 250.5 634.0 238.4 636.0 228.0C638.1 217.2 640.1 189.0 642.2 174.6C644.0 162.2 645.7 146.9 647.5 143.0C649.3 139.0 651.1 135.6 652.9 135.6C654.8 135.6 656.6 142.7 658.5 148.0C660.7 154.2 662.8 165.9 665.0 174.6C667.3 183.9 669.7 201.8 672.0 201.8C673.5 201.8 675.0 196.8 676.5 192.0C677.6 188.6 678.6 177.9 679.7 174.6C681.5 169.0 683.2 164.6 685.0 163.5C688.0 161.6 691.0 160.3 694.0 160.3C695.5 160.3 697.0 163.5 698.5 166.0C699.8 168.1 701.0 171.9 702.3 174.6C705.0 180.3 707.8 190.5 710.5 190.5C712.5 190.5 714.5 177.1 716.5 174.6C719.4 170.8 722.4 167.4 725.3 167.4C729.2 167.4 733.1 174.7 737.0 174.7C740.9 174.7 744.9 172.6 748.8 171.8C751.2 171.3 753.6 171.1 756.0 170.5C759.3 169.6 762.5 164.7 765.8 164.7C768.4 164.7 771.0 171.6 773.6 174.6C777.0 178.4 780.4 185.0 783.8 185.0C786.6 185.0 789.5 178.7 792.3 174.6C794.7 171.1 797.0 161.6 799.4 161.6C802.5 161.6 805.7 171.0 808.8 174.6C811.9 178.0 815.0 183.4 818.1 183.4C821.2 183.4 824.2 179.3 827.3 179.3C830.5 179.3 833.7 185.7 836.9 190.0C840.0 194.2 843.1 205.8 846.2 205.8C848.7 205.8 851.3 187.6 853.8 174.6C855.5 165.6 857.3 148.0 859.0 140.0C861.0 130.7 863.0 118.9 865.0 118.9C866.8 118.9 868.7 131.2 870.5 140.0C872.3 148.6 874.1 160.6 875.9 174.6C877.0 183.4 878.2 199.9 879.3 207.0C880.6 215.3 882.0 225.3 883.3 225.3C883.6 225.3 883.9 223.3 884.2 222.0C885.8 215.0 887.4 202.3 889.0 192.0C890.3 183.9 891.5 172.8 892.8 167.0C894.0 161.4 895.3 154.0 896.5 154.0C897.8 154.0 899.2 158.8 900.5 162.0C901.8 165.2 903.2 171.2 904.5 174.0C905.5 176.1 906.6 179.0 907.6 179.0C908.7 179.0 909.7 173.8 910.8 170.0C911.8 166.5 912.8 159.0 913.8 156.0C914.6 153.6 915.4 150.5 916.2 150.5C917.3 150.5 918.5 155.1 919.6 158.5C920.8 162.2 922.1 170.1 923.3 174.6C925.5 182.5 927.8 194.3 930.0 194.3C933.0 194.3 935.9 177.8 938.9 174.6C941.4 171.9 943.9 169.1 946.4 169.1C949.1 169.1 951.9 169.1 954.6 169.1C957.9 169.1 961.3 172.2 964.6 174.6C967.9 176.9 971.2 184.8 974.5 184.8C977.3 184.8 980.0 177.7 982.8 174.6C985.5 171.4 988.3 165.8 991.0 165.8C994.3 165.8 997.7 171.2 1001.0 174.6C1004.9 178.4 1008.7 188.1 1012.6 188.1C1015.9 188.1 1019.2 178.9 1022.5 174.6C1023.9 172.7 1025.3 169.1 1026.7 169.1C1029.7 169.1 1032.8 174.9 1035.8 174.9C1040.2 174.9 1044.6 168.1 1049.0 164.1C1051.3 162.0 1053.7 159.3 1056.0 157.0C1059.6 153.5 1063.1 146.8 1066.7 146.8C1069.7 146.8 1072.7 157.1 1075.7 169.3C1077.2 175.3 1078.6 190.4 1080.1 205.0" stroke="#141414" stroke-width="0.7"/>
<path d="M590.2 86.8C591.8 92.5 593.4 97.9 595.0 103.0C596.8 108.7 598.6 112.6 600.4 119.0C602.4 126.2 604.5 136.9 606.5 146.0C608.6 155.4 610.7 164.0 612.8 174.6C614.4 182.5 615.9 193.1 617.5 201.0C619.2 209.4 620.8 216.4 622.5 224.0C623.8 230.1 625.2 237.8 626.5 242.0C627.7 245.7 628.8 250.5 630.0 250.5C632.0 250.5 634.0 238.4 636.0 228.0C638.1 217.2 640.1 189.0 642.2 174.6C644.0 162.2 645.7 146.9 647.5 143.0C649.3 139.0 651.1 135.6 652.9 135.6C654.8 135.6 656.6 142.7 658.5 148.0C660.7 154.2 662.8 165.9 665.0 174.6C667.3 183.9 669.7 201.8 672.0 201.8C673.5 201.8 675.0 196.8 676.5 192.0C677.6 188.6 678.6 177.9 679.7 174.6C681.5 169.0 683.2 164.6 685.0 163.5C688.0 161.6 691.0 160.3 694.0 160.3C695.5 160.3 697.0 163.5 698.5 166.0C699.8 168.1 701.0 171.9 702.3 174.6C705.0 180.3 707.8 190.5 710.5 190.5C712.5 190.5 714.5 177.1 716.5 174.6C719.4 170.8 722.4 167.4 725.3 167.4C729.2 167.4 733.1 174.7 737.0 174.7C740.9 174.7 744.9 172.6 748.8 171.8C751.2 171.3 753.6 171.1 756.0 170.5C759.3 169.6 762.5 164.7 765.8 164.7C768.4 164.7 771.0 171.6 773.6 174.6C777.0 178.4 780.4 185.0 783.8 185.0C786.6 185.0 789.5 178.7 792.3 174.6C794.7 171.1 797.0 161.6 799.4 161.6C802.5 161.6 805.7 171.0 808.8 174.6C811.9 178.0 815.0 183.4 818.1 183.4C821.2 183.4 824.2 179.3 827.3 179.3C830.5 179.3 833.7 185.7 836.9 190.0C840.0 194.2 843.1 205.8 846.2 205.8C848.7 205.8 851.3 187.6 853.8 174.6C855.5 165.6 857.3 148.0 859.0 140.0C861.0 130.7 863.0 118.9 865.0 118.9C866.8 118.9 868.7 131.2 870.5 140.0C872.3 148.6 874.1 160.6 875.9 174.6C877.0 183.4 878.2 199.9 879.3 207.0C880.6 215.3 882.0 225.3 883.3 225.3C883.7 225.3 884.0 223.4 884.4 222.0C886.0 216.1 887.5 202.4 889.1 193.0C890.4 185.2 891.7 175.2 893.0 170.0C894.3 164.7 895.7 158.0 897.0 158.0C898.3 158.0 899.7 161.2 901.0 163.0C902.3 164.8 903.7 167.8 905.0 169.0C906.0 169.9 907.0 171.0 908.0 171.0C909.0 171.0 910.0 166.9 911.0 164.0C912.0 161.1 913.0 154.6 914.0 153.0C914.8 151.7 915.5 150.5 916.3 150.5C917.4 150.5 918.6 155.1 919.7 158.5C920.9 162.2 922.2 170.1 923.4 174.6C925.6 182.5 927.8 194.3 930.0 194.3C933.0 194.3 935.9 177.8 938.9 174.6C941.4 171.9 943.9 169.1 946.4 169.1C949.1 169.1 951.9 169.1 954.6 169.1C957.9 169.1 961.3 172.2 964.6 174.6C967.9 176.9 971.2 184.8 974.5 184.8C977.3 184.8 980.0 177.7 982.8 174.6C985.5 171.4 988.3 165.8 991.0 165.8C994.3 165.8 997.7 171.2 1001.0 174.6C1004.9 178.4 1008.7 188.1 1012.6 188.1C1015.9 188.1 1019.2 178.9 1022.5 174.6C1023.9 172.7 1025.3 169.1 1026.7 169.1C1029.7 169.1 1032.8 174.9 1035.8 174.9C1040.2 174.9 1044.6 168.1 1049.0 164.1C1051.3 162.0 1053.7 159.3 1056.0 157.0C1059.6 153.5 1063.1 146.8 1066.7 146.8C1069.7 146.8 1072.7 157.1 1075.7 169.3C1077.2 175.3 1078.6 190.4 1080.1 205.0" stroke="#141414" stroke-width="0.7"/>
<path d="M590.2 86.8C591.8 92.5 593.4 97.9 595.0 103.0C596.8 108.7 598.6 112.6 600.4 119.0C602.4 126.2 604.5 136.9 606.5 146.0C608.6 155.4 610.7 164.0 612.8 174.6C614.4 182.5 615.9 193.1 617.5 201.0C619.2 209.4 620.8 216.4 622.5 224.0C623.8 230.1 625.2 237.8 626.5 242.0C627.7 245.7 628.8 250.5 630.0 250.5C632.0 250.5 634.0 238.4 636.0 228.0C638.1 217.2 640.1 189.0 642.2 174.6C644.0 162.2 645.7 146.9 647.5 143.0C649.3 139.0 651.1 135.6 652.9 135.6C654.8 135.6 656.6 142.7 658.5 148.0C660.7 154.2 662.8 165.9 665.0 174.6C667.3 183.9 669.7 201.8 672.0 201.8C673.5 201.8 675.0 196.8 676.5 192.0C677.6 188.6 678.6 177.9 679.7 174.6C681.5 169.0 683.2 164.6 685.0 163.5C688.0 161.6 691.0 160.3 694.0 160.3C695.5 160.3 697.0 163.5 698.5 166.0C699.8 168.1 701.0 171.9 702.3 174.6C705.0 180.3 707.8 190.5 710.5 190.5C712.5 190.5 714.5 177.1 716.5 174.6C719.4 170.8 722.4 167.4 725.3 167.4C729.2 167.4 733.1 174.7 737.0 174.7C740.9 174.7 744.9 172.6 748.8 171.8C751.2 171.3 753.6 171.1 756.0 170.5C759.3 169.6 762.5 164.7 765.8 164.7C768.4 164.7 771.0 171.6 773.6 174.6C777.0 178.4 780.4 185.0 783.8 185.0C786.6 185.0 789.5 178.7 792.3 174.6C794.7 171.1 797.0 161.6 799.4 161.6C802.5 161.6 805.7 171.0 808.8 174.6C811.9 178.0 815.0 183.4 818.1 183.4C821.2 183.4 824.2 179.3 827.3 179.3C830.5 179.3 833.7 185.7 836.9 190.0C840.0 194.2 843.1 205.8 846.2 205.8C848.7 205.8 851.3 187.6 853.8 174.6C855.5 165.6 857.3 148.0 859.0 140.0C861.0 130.7 863.0 118.9 865.0 118.9C866.8 118.9 868.7 131.2 870.5 140.0C872.3 148.6 874.1 160.6 875.9 174.6C877.0 183.4 878.2 199.9 879.3 207.0C880.6 215.3 882.0 225.3 883.3 225.3C883.7 225.3 884.2 223.4 884.6 222.0C886.1 216.9 887.7 202.5 889.2 194.0C890.6 186.0 892.1 177.1 893.5 172.0C894.8 167.2 896.2 161.0 897.5 161.0C898.8 161.0 900.2 162.3 901.5 163.0C902.8 163.7 904.2 165.0 905.5 165.0C906.5 165.0 907.5 165.0 908.5 165.0C909.5 165.0 910.5 160.5 911.5 158.0C912.5 155.5 913.5 150.8 914.5 150.0C915.2 149.5 915.8 149.0 916.5 149.0C917.6 149.0 918.7 154.3 919.8 158.0C921.0 162.2 922.3 170.0 923.5 174.6C925.7 182.5 927.8 194.3 930.0 194.3C933.0 194.3 935.9 177.8 938.9 174.6C941.4 171.9 943.9 169.1 946.4 169.1C949.1 169.1 951.9 169.1 954.6 169.1C957.9 169.1 961.3 172.2 964.6 174.6C967.9 176.9 971.2 184.8 974.5 184.8C977.3 184.8 980.0 177.7 982.8 174.6C985.5 171.4 988.3 165.8 991.0 165.8C994.3 165.8 997.7 171.2 1001.0 174.6C1004.9 178.4 1008.7 188.1 1012.6 188.1C1015.9 188.1 1019.2 178.9 1022.5 174.6C1023.9 172.7 1025.3 169.1 1026.7 169.1C1029.7 169.1 1032.8 174.9 1035.8 174.9C1040.2 174.9 1044.6 168.1 1049.0 164.1C1051.3 162.0 1053.7 159.3 1056.0 157.0C1059.6 153.5 1063.1 146.8 1066.7 146.8C1069.7 146.8 1072.7 157.1 1075.7 169.3C1077.2 175.3 1078.6 190.4 1080.1 205.0" stroke="#141414" stroke-width="0.7"/>
<path d="M590.2 86.8C591.8 92.5 593.4 97.9 595.0 103.0C596.8 108.7 598.6 112.6 600.4 119.0C602.4 126.2 604.5 136.9 606.5 146.0C608.6 155.4 610.7 164.0 612.8 174.6C614.4 182.5 615.9 193.1 617.5 201.0C619.2 209.4 620.8 216.4 622.5 224.0C623.8 230.1 625.2 237.8 626.5 242.0C627.7 245.7 628.8 250.5 630.0 250.5C632.0 250.5 634.0 238.4 636.0 228.0C638.1 217.2 640.1 189.0 642.2 174.6C644.0 162.2 645.7 146.9 647.5 143.0C649.3 139.0 651.1 135.6 652.9 135.6C654.8 135.6 656.6 142.7 658.5 148.0C660.7 154.2 662.8 165.9 665.0 174.6C667.3 183.9 669.7 201.8 672.0 201.8C673.0 201.8 674.0 196.6 675.0 193.0C676.7 187.0 678.3 174.8 680.0 168.0C681.3 162.5 682.7 154.0 684.0 154.0C685.7 154.0 687.3 158.6 689.0 162.0C691.0 166.1 693.0 175.0 695.0 179.0C696.8 182.6 698.6 187.5 700.4 187.5C702.3 187.5 704.1 184.7 706.0 183.0C708.0 181.2 710.0 178.4 712.0 177.0C713.5 176.0 715.0 175.5 716.5 174.6C719.4 172.7 722.4 167.4 725.3 167.4C729.2 167.4 733.1 174.7 737.0 174.7C740.9 174.7 744.9 172.6 748.8 171.8C751.2 171.3 753.6 171.1 756.0 170.5C759.3 169.6 762.5 164.7 765.8 164.7C768.4 164.7 771.0 171.6 773.6 174.6C777.0 178.4 780.4 185.0 783.8 185.0C786.6 185.0 789.5 178.7 792.3 174.6C794.7 171.1 797.0 161.6 799.4 161.6C802.5 161.6 805.7 171.0 808.8 174.6C811.9 178.0 815.0 183.4 818.1 183.4C821.2 183.4 824.2 179.3 827.3 179.3C830.5 179.3 833.7 185.7 836.9 190.0C840.0 194.2 843.1 205.8 846.2 205.8C848.7 205.8 851.3 187.6 853.8 174.6C855.5 165.6 857.3 148.0 859.0 140.0C861.0 130.7 863.0 118.9 865.0 118.9C866.8 118.9 868.7 131.2 870.5 140.0C872.3 148.6 874.1 160.6 875.9 174.6C877.0 183.4 878.2 199.9 879.3 207.0C880.6 215.3 882.0 225.3 883.3 225.3C884.4 225.3 885.4 219.1 886.5 214.0C887.2 210.8 887.8 203.9 888.5 200.0C890.3 189.5 892.1 180.2 893.9 174.6C895.9 168.2 897.9 162.7 899.9 160.4C901.9 158.1 903.9 157.7 905.9 155.9C907.3 154.7 908.6 153.0 910.0 151.5C911.6 149.7 913.3 146.2 914.9 146.2C916.4 146.2 917.9 153.8 919.4 158.9C920.7 163.2 921.9 170.2 923.2 174.6C925.5 182.4 927.7 194.3 930.0 194.3C933.0 194.3 935.9 177.8 938.9 174.6C941.4 171.9 943.9 169.1 946.4 169.1C949.1 169.1 951.9 169.1 954.6 169.1C957.9 169.1 961.3 172.2 964.6 174.6C967.9 176.9 971.2 184.8 974.5 184.8C977.3 184.8 980.0 177.7 982.8 174.6C985.5 171.4 988.3 165.8 991.0 165.8C994.3 165.8 997.7 171.2 1001.0 174.6C1004.9 178.4 1008.7 188.1 1012.6 188.1C1015.9 188.1 1019.2 178.9 1022.5 174.6C1023.9 172.7 1025.3 169.1 1026.7 169.1C1029.7 169.1 1032.8 174.9 1035.8 174.9C1040.2 174.9 1044.6 168.1 1049.0 164.1C1051.3 162.0 1053.7 159.3 1056.0 157.0C1059.6 153.5 1063.1 146.8 1066.7 146.8C1069.7 146.8 1072.7 157.1 1075.7 169.3C1077.2 175.3 1078.6 190.4 1080.1 205.0" stroke="#141414" stroke-width="0.7"/>
<path d="M590.2 86.8C591.8 92.5 593.4 97.9 595.0 103.0C596.8 108.7 598.6 112.6 600.4 119.0C602.4 126.2 604.5 136.9 606.5 146.0C608.6 155.4 610.7 164.0 612.8 174.6C614.4 182.5 615.9 193.1 617.5 201.0C619.2 209.4 620.8 216.4 622.5 224.0C623.8 230.1 625.2 237.8 626.5 242.0C627.7 245.7 628.8 250.5 630.0 250.5C632.0 250.5 634.0 238.4 636.0 228.0C638.1 217.2 640.1 189.0 642.2 174.6C644.0 162.2 645.7 146.9 647.5 143.0C649.3 139.0 651.1 135.6 652.9 135.6C654.8 135.6 656.6 142.7 658.5 148.0C660.7 154.2 662.8 165.9 665.0 174.6C667.3 183.9 669.7 201.8 672.0 201.8C673.2 201.8 674.3 196.7 675.5 193.0C677.2 187.7 678.8 176.3 680.5 170.0C681.8 165.0 683.2 157.0 684.5 157.0C686.3 157.0 688.2 161.7 690.0 165.0C692.0 168.6 694.0 175.9 696.0 179.0C697.7 181.6 699.3 185.0 701.0 185.0C703.0 185.0 705.0 183.3 707.0 182.0C708.8 180.8 710.7 178.3 712.5 177.0C713.8 176.0 715.2 175.5 716.5 174.6C719.4 172.5 722.4 167.4 725.3 167.4C729.2 167.4 733.1 174.7 737.0 174.7C740.9 174.7 744.9 172.6 748.8 171.8C751.2 171.3 753.6 171.1 756.0 170.5C759.3 169.6 762.5 164.7 765.8 164.7C768.4 164.7 771.0 171.6 773.6 174.6C777.0 178.4 780.4 185.0 783.8 185.0C786.6 185.0 789.5 178.7 792.3 174.6C794.7 171.1 797.0 161.6 799.4 161.6C802.5 161.6 805.7 171.0 808.8 174.6C811.9 178.0 815.0 183.4 818.1 183.4C821.2 183.4 824.2 179.3 827.3 179.3C830.5 179.3 833.7 185.7 836.9 190.0C840.0 194.2 843.1 205.8 846.2 205.8C848.7 205.8 851.3 187.6 853.8 174.6C855.5 165.6 857.3 148.0 859.0 140.0C861.0 130.7 863.0 118.9 865.0 118.9C866.8 118.9 868.7 131.2 870.5 140.0C872.3 148.6 874.1 160.6 875.9 174.6C877.0 183.4 878.2 199.9 879.3 207.0C880.6 215.3 882.0 225.3 883.3 225.3C884.4 225.3 885.4 219.1 886.5 214.0C887.2 210.8 887.8 203.9 888.5 200.0C890.3 189.5 892.1 180.2 893.9 174.6C895.9 168.2 897.9 162.7 899.9 160.4C901.9 158.1 903.9 157.7 905.9 155.9C907.3 154.7 908.6 153.0 910.0 151.5C911.6 149.7 913.3 146.2 914.9 146.2C916.4 146.2 917.9 153.8 919.4 158.9C920.7 163.2 921.9 170.2 923.2 174.6C925.5 182.4 927.7 194.3 930.0 194.3C933.0 194.3 935.9 177.8 938.9 174.6C941.4 171.9 943.9 169.1 946.4 169.1C949.1 169.1 951.9 169.1 954.6 169.1C957.9 169.1 961.3 172.2 964.6 174.6C967.9 176.9 971.2 184.8 974.5 184.8C977.3 184.8 980.0 177.7 982.8 174.6C985.5 171.4 988.3 165.8 991.0 165.8C994.3 165.8 997.7 171.2 1001.0 174.6C1004.9 178.4 1008.7 188.1 1012.6 188.1C1015.9 188.1 1019.2 178.9 1022.5 174.6C1023.9 172.7 1025.3 169.1 1026.7 169.1C1029.7 169.1 1032.8 174.9 1035.8 174.9C1040.2 174.9 1044.6 168.1 1049.0 164.1C1051.3 162.0 1053.7 159.3 1056.0 157.0C1059.6 153.5 1063.1 146.8 1066.7 146.8C1069.7 146.8 1072.7 157.1 1075.7 169.3C1077.2 175.3 1078.6 190.4 1080.1 205.0" stroke="#141414" stroke-width="0.7"/>
<path d="M590.2 86.8C591.8 92.5 593.4 97.9 595.0 103.0C596.8 108.7 598.6 112.6 600.4 119.0C602.4 126.2 604.5 136.9 606.5 146.0C608.6 155.4 610.7 164.0 612.8 174.6C614.4 182.5 615.9 193.1 617.5 201.0C619.2 209.4 620.8 216.4 622.5 224.0C623.8 230.1 625.2 237.8 626.5 242.0C627.7 245.7 628.8 250.5 630.0 250.5C632.0 250.5 634.0 238.4 636.0 228.0C638.1 217.2 640.1 189.0 642.2 174.6C644.0 162.2 645.7 146.9 647.5 143.0C649.3 139.0 651.1 135.6 652.9 135.6C654.8 135.6 656.6 142.7 658.5 148.0C660.7 154.2 662.8 165.9 665.0 174.6C667.3 183.9 669.7 201.8 672.0 201.8C673.3 201.8 674.7 196.9 676.0 193.0C677.7 188.2 679.3 176.2 681.0 171.0C682.7 165.8 684.3 159.0 686.0 159.0C687.8 159.0 689.7 163.1 691.5 166.0C693.3 168.9 695.2 175.6 697.0 178.0C698.8 180.4 700.7 183.0 702.5 183.0C704.3 183.0 706.2 181.9 708.0 181.0C709.7 180.2 711.3 178.2 713.0 177.0C714.2 176.1 715.3 175.4 716.5 174.6C719.4 172.4 722.4 167.4 725.3 167.4C729.2 167.4 733.1 174.7 737.0 174.7C740.9 174.7 744.9 172.6 748.8 171.8C751.2 171.3 753.6 171.1 756.0 170.5C759.3 169.6 762.5 164.7 765.8 164.7C768.4 164.7 771.0 171.6 773.6 174.6C777.0 178.4 780.4 185.0 783.8 185.0C786.6 185.0 789.5 178.7 792.3 174.6C794.7 171.1 797.0 161.6 799.4 161.6C802.5 161.6 805.7 171.0 808.8 174.6C811.9 178.0 815.0 183.4 818.1 183.4C821.2 183.4 824.2 179.3 827.3 179.3C830.5 179.3 833.7 185.7 836.9 190.0C840.0 194.2 843.1 205.8 846.2 205.8C848.7 205.8 851.3 187.6 853.8 174.6C855.5 165.6 857.3 148.0 859.0 140.0C861.0 130.7 863.0 118.9 865.0 118.9C866.8 118.9 868.7 131.2 870.5 140.0C872.3 148.6 874.1 160.6 875.9 174.6C877.0 183.4 878.2 199.9 879.3 207.0C880.6 215.3 882.0 225.3 883.3 225.3C884.4 225.3 885.4 219.1 886.5 214.0C887.2 210.8 887.8 203.9 888.5 200.0C890.3 189.5 892.1 180.2 893.9 174.6C895.9 168.2 897.9 162.7 899.9 160.4C901.9 158.1 903.9 157.7 905.9 155.9C907.3 154.7 908.6 153.0 910.0 151.5C911.6 149.7 913.3 146.2 914.9 146.2C916.4 146.2 917.9 153.8 919.4 158.9C920.7 163.2 921.9 170.2 923.2 174.6C925.5 182.4 927.7 194.3 930.0 194.3C933.0 194.3 935.9 177.8 938.9 174.6C941.4 171.9 943.9 169.1 946.4 169.1C949.1 169.1 951.9 169.1 954.6 169.1C957.9 169.1 961.3 172.2 964.6 174.6C967.9 176.9 971.2 184.8 974.5 184.8C977.3 184.8 980.0 177.7 982.8 174.6C985.5 171.4 988.3 165.8 991.0 165.8C994.3 165.8 997.7 171.2 1001.0 174.6C1004.9 178.4 1008.7 188.1 1012.6 188.1C1015.9 188.1 1019.2 178.9 1022.5 174.6C1023.9 172.7 1025.3 169.1 1026.7 169.1C1029.7 169.1 1032.8 174.9 1035.8 174.9C1040.2 174.9 1044.6 168.1 1049.0 164.1C1051.3 162.0 1053.7 159.3 1056.0 157.0C1059.6 153.5 1063.1 146.8 1066.7 146.8C1069.7 146.8 1072.7 157.1 1075.7 169.3C1077.2 175.3 1078.6 190.4 1080.1 205.0" stroke="#141414" stroke-width="0.7"/>
<path d="M590.2 86.8C591.8 92.5 593.4 97.9 595.0 103.0C596.8 108.7 598.6 112.6 600.4 119.0C602.4 126.2 604.5 136.9 606.5 146.0C608.6 155.4 610.7 164.0 612.8 174.6C614.4 182.5 615.9 193.1 617.5 201.0C619.2 209.4 620.8 216.4 622.5 224.0C623.8 230.1 625.2 237.8 626.5 242.0C627.7 245.7 628.8 250.5 630.0 250.5C632.0 250.5 634.0 238.4 636.0 228.0C638.1 217.2 640.1 189.0 642.2 174.6C644.0 162.2 645.7 146.9 647.5 143.0C649.3 139.0 651.1 135.6 652.9 135.6C654.8 135.6 656.6 142.7 658.5 148.0C660.7 154.2 662.8 165.9 665.0 174.6C667.3 183.9 669.7 201.8 672.0 201.8C673.5 201.8 675.0 196.8 676.5 192.0C677.6 188.6 678.6 177.9 679.7 174.6C681.5 169.0 683.2 164.6 685.0 163.5C688.0 161.6 691.0 160.3 694.0 160.3C695.5 160.3 697.0 163.5 698.5 166.0C699.8 168.1 701.0 171.9 702.3 174.6C705.0 180.3 707.8 190.5 710.5 190.5C712.5 190.5 714.5 177.1 716.5 174.6C719.4 170.8 722.4 167.4 725.3 167.4C729.2 167.4 733.1 174.7 737.0 174.7C740.9 174.7 744.9 172.6 748.8 171.8C751.2 171.3 753.6 171.1 756.0 170.5C759.3 169.6 762.5 164.7 765.8 164.7C768.4 164.7 771.0 171.6 773.6 174.6C777.0 178.4 780.4 185.0 783.8 185.0C786.6 185.0 789.5 178.7 792.3 174.6C794.7 171.1 797.0 161.6 799.4 161.6C802.5 161.6 805.7 170.9 808.8 174.6C811.9 178.2 814.9 184.0 818.0 184.0C819.0 184.0 820.0 178.4 821.0 176.0C822.5 172.5 823.9 166.8 825.4 166.8C826.9 166.8 828.5 171.2 830.0 174.0C832.3 178.2 834.6 185.5 836.9 190.0C840.0 196.1 843.1 205.8 846.2 205.8C848.7 205.8 851.3 187.6 853.8 174.6C855.5 165.6 857.3 148.0 859.0 140.0C861.0 130.7 863.0 118.9 865.0 118.9C866.8 118.9 868.7 131.2 870.5 140.0C872.3 148.6 874.1 160.6 875.9 174.6C877.0 183.4 878.2 199.9 879.3 207.0C880.6 215.3 882.0 225.3 883.3 225.3C884.4 225.3 885.4 219.1 886.5 214.0C887.2 210.8 887.8 203.9 888.5 200.0C890.3 189.5 892.1 180.2 893.9 174.6C895.9 168.2 897.9 162.7 899.9 160.4C901.9 158.1 903.9 157.7 905.9 155.9C907.3 154.7 908.6 153.0 910.0 151.5C911.6 149.7 913.3 146.2 914.9 146.2C916.4 146.2 917.9 153.8 919.4 158.9C920.7 163.2 921.9 170.2 923.2 174.6C925.5 182.4 927.7 194.3 930.0 194.3C933.0 194.3 935.9 177.8 938.9 174.6C941.4 171.9 943.9 169.1 946.4 169.1C949.1 169.1 951.9 169.1 954.6 169.1C957.9 169.1 961.3 172.2 964.6 174.6C967.9 176.9 971.2 184.8 974.5 184.8C977.3 184.8 980.0 177.7 982.8 174.6C985.5 171.4 988.3 165.8 991.0 165.8C994.3 165.8 997.7 171.2 1001.0 174.6C1004.9 178.4 1008.7 188.1 1012.6 188.1C1015.9 188.1 1019.2 178.9 1022.5 174.6C1023.9 172.7 1025.3 169.1 1026.7 169.1C1029.7 169.1 1032.8 174.9 1035.8 174.9C1040.2 174.9 1044.6 168.1 1049.0 164.1C1051.3 162.0 1053.7 159.3 1056.0 157.0C1059.6 153.5 1063.1 146.8 1066.7 146.8C1069.7 146.8 1072.7 157.1 1075.7 169.3C1077.2 175.3 1078.6 190.4 1080.1 205.0" stroke="#141414" stroke-width="0.7"/>
<path d="M590.2 86.8C591.8 92.5 593.4 97.9 595.0 103.0C596.8 108.7 598.6 112.6 600.4 119.0C602.4 126.2 604.5 136.9 606.5 146.0C608.6 155.4 610.7 164.0 612.8 174.6C614.4 182.5 615.9 193.1 617.5 201.0C619.2 209.4 620.8 216.4 622.5 224.0C623.8 230.1 625.2 237.8 626.5 242.0C627.7 245.7 628.8 250.5 630.0 250.5C632.0 250.5 634.0 238.4 636.0 228.0C638.1 217.2 640.1 189.0 642.2 174.6C644.0 162.2 645.7 146.9 647.5 143.0C649.3 139.0 651.1 135.6 652.9 135.6C654.8 135.6 656.6 142.7 658.5 148.0C660.7 154.2 662.8 165.9 665.0 174.6C667.3 183.9 669.7 201.8 672.0 201.8C673.5 201.8 675.0 196.8 676.5 192.0C677.6 188.6 678.6 177.9 679.7 174.6C681.5 169.0 683.2 164.6 685.0 163.5C688.0 161.6 691.0 160.3 694.0 160.3C695.5 160.3 697.0 163.5 698.5 166.0C699.8 168.1 701.0 171.9 702.3 174.6C705.0 180.3 707.8 190.5 710.5 190.5C712.5 190.5 714.5 177.1 716.5 174.6C719.4 170.8 722.4 167.4 725.3 167.4C729.2 167.4 733.1 174.7 737.0 174.7C740.9 174.7 744.9 172.6 748.8 171.8C751.2 171.3 753.6 171.1 756.0 170.5C759.3 169.6 762.5 164.7 765.8 164.7C768.4 164.7 771.0 171.6 773.6 174.6C777.0 178.4 780.4 185.0 783.8 185.0C786.6 185.0 789.5 178.7 792.3 174.6C794.7 171.1 797.0 161.6 799.4 161.6C802.5 161.6 805.7 170.8 808.8 174.6C811.9 178.3 814.9 184.5 818.0 184.5C819.2 184.5 820.3 180.0 821.5 178.0C823.0 175.5 824.5 171.0 826.0 171.0C827.5 171.0 829.0 174.6 830.5 177.0C832.6 180.4 834.8 186.0 836.9 190.0C840.0 195.8 843.1 205.8 846.2 205.8C848.7 205.8 851.3 187.6 853.8 174.6C855.5 165.6 857.3 148.0 859.0 140.0C861.0 130.7 863.0 118.9 865.0 118.9C866.8 118.9 868.7 131.2 870.5 140.0C872.3 148.6 874.1 160.6 875.9 174.6C877.0 183.4 878.2 199.9 879.3 207.0C880.6 215.3 882.0 225.3 883.3 225.3C884.4 225.3 885.4 219.1 886.5 214.0C887.2 210.8 887.8 203.9 888.5 200.0C890.3 189.5 892.1 180.2 893.9 174.6C895.9 168.2 897.9 162.7 899.9 160.4C901.9 158.1 903.9 157.7 905.9 155.9C907.3 154.7 908.6 153.0 910.0 151.5C911.6 149.7 913.3 146.2 914.9 146.2C916.4 146.2 917.9 153.8 919.4 158.9C920.7 163.2 921.9 170.2 923.2 174.6C925.5 182.4 927.7 194.3 930.0 194.3C933.0 194.3 935.9 177.8 938.9 174.6C941.4 171.9 943.9 169.1 946.4 169.1C949.1 169.1 951.9 169.1 954.6 169.1C957.9 169.1 961.3 172.2 964.6 174.6C967.9 176.9 971.2 184.8 974.5 184.8C977.3 184.8 980.0 177.7 982.8 174.6C985.5 171.4 988.3 165.8 991.0 165.8C994.3 165.8 997.7 171.2 1001.0 174.6C1004.9 178.4 1008.7 188.1 1012.6 188.1C1015.9 188.1 1019.2 178.9 1022.5 174.6C1023.9 172.7 1025.3 169.1 1026.7 169.1C1029.7 169.1 1032.8 174.9 1035.8 174.9C1040.2 174.9 1044.6 168.1 1049.0 164.1C1051.3 162.0 1053.7 159.3 1056.0 157.0C1059.6 153.5 1063.1 146.8 1066.7 146.8C1069.7 146.8 1072.7 157.1 1075.7 169.3C1077.2 175.3 1078.6 190.4 1080.1 205.0" stroke="#141414" stroke-width="0.7"/>
<path d="M590.2 86.8C591.8 92.5 593.4 97.9 595.0 103.0C596.8 108.7 598.6 112.6 600.4 119.0C602.4 126.2 604.5 136.9 606.5 146.0C608.6 155.4 610.7 164.0 612.8 174.6C614.4 182.5 615.9 193.1 617.5 201.0C619.2 209.4 620.8 216.4 622.5 224.0C623.8 230.1 625.2 237.8 626.5 242.0C627.7 245.7 628.8 250.5 630.0 250.5C632.0 250.5 634.0 238.4 636.0 228.0C638.1 217.2 640.1 189.0 642.2 174.6C644.0 162.2 645.7 146.9 647.5 143.0C649.3 139.0 651.1 135.6 652.9 135.6C654.8 135.6 656.6 142.7 658.5 148.0C660.7 154.2 662.8 165.9 665.0 174.6C667.3 183.9 669.7 201.8 672.0 201.8C673.5 201.8 675.0 196.8 676.5 192.0C677.6 188.6 678.6 177.9 679.7 174.6C681.5 169.0 683.2 164.6 685.0 163.5C688.0 161.6 691.0 160.3 694.0 160.3C695.5 160.3 697.0 163.5 698.5 166.0C699.8 168.1 701.0 171.9 702.3 174.6C705.0 180.3 707.8 190.5 710.5 190.5C712.5 190.5 714.5 177.1 716.5 174.6C719.4 170.8 722.4 167.4 725.3 167.4C729.2 167.4 733.1 174.7 737.0 174.7C740.9 174.7 744.9 172.6 748.8 171.8C751.2 171.3 753.6 171.1 756.0 170.5C759.3 169.6 762.5 164.7 765.8 164.7C768.4 164.7 771.0 171.6 773.6 174.6C777.0 178.4 780.4 185.0 783.8 185.0C786.6 185.0 789.5 178.7 792.3 174.6C794.7 171.1 797.0 161.6 799.4 161.6C802.5 161.6 805.7 171.0 808.8 174.6C811.9 178.0 815.0 183.4 818.1 183.4C821.2 183.4 824.2 179.3 827.3 179.3C830.5 179.3 833.7 185.7 836.9 190.0C840.0 194.2 843.1 205.8 846.2 205.8C848.7 205.8 851.3 187.6 853.8 174.6C855.5 165.6 857.3 148.0 859.0 140.0C861.0 130.7 863.0 118.9 865.0 118.9C866.8 118.9 868.7 131.2 870.5 140.0C872.3 148.6 874.1 160.6 875.9 174.6C877.0 183.4 878.2 199.9 879.3 207.0C880.6 215.3 882.0 225.3 883.3 225.3C884.4 225.3 885.4 219.1 886.5 214.0C887.2 210.8 887.8 203.9 888.5 200.0C890.3 189.5 892.1 180.2 893.9 174.6C895.9 168.2 897.9 162.7 899.9 160.4C901.9 158.1 903.9 157.7 905.9 155.9C907.3 154.7 908.6 153.0 910.0 151.5C911.6 149.7 913.3 146.2 914.9 146.2C916.4 146.2 917.9 153.8 919.4 158.9C920.7 163.2 921.9 170.2 923.2 174.6C925.5 182.4 927.7 194.3 930.0 194.3C933.0 194.3 935.9 177.8 938.9 174.6C941.4 171.9 943.9 169.1 946.4 169.1C949.1 169.1 951.9 169.1 954.6 169.1C957.9 169.1 961.3 172.2 964.6 174.6C967.9 176.9 971.2 184.8 974.5 184.8C977.3 184.8 980.0 177.7 982.8 174.6C985.5 171.4 988.3 165.8 991.0 165.8C994.3 165.8 997.7 171.2 1001.0 174.6C1004.9 178.4 1008.7 188.1 1012.6 188.1C1015.9 188.1 1019.2 178.9 1022.5 174.6C1023.9 172.7 1025.3 169.1 1026.7 169.1C1029.7 169.1 1032.8 174.9 1035.8 174.9C1040.2 174.9 1044.6 168.1 1049.0 164.1C1051.3 162.0 1053.7 159.3 1056.0 157.0C1059.6 153.5 1063.1 146.8 1066.7 146.8C1069.7 146.8 1072.7 157.1 1075.7 169.3C1077.2 175.3 1078.6 190.4 1080.1 205.0" stroke="#d41c24" stroke-width="2.0"/>
</g>
<path d="M600.53 316.70v-3.0M600.53 32.40v3.0M618.35 316.70v-3.0M618.35 32.40v3.0M636.16 316.70v-3.0M636.16 32.40v3.0M653.98 316.70v-5.5M653.98 32.40v5.5M671.79 316.70v-3.0M671.79 32.40v3.0M689.61 316.70v-3.0M689.61 32.40v3.0M707.42 316.70v-3.0M707.42 32.40v3.0M725.23 316.70v-3.0M725.23 32.40v3.0M743.05 316.70v-5.5M743.05 32.40v5.5M760.86 316.70v-3.0M760.86 32.40v3.0M778.68 316.70v-3.0M778.68 32.40v3.0M796.49 316.70v-3.0M796.49 32.40v3.0M814.31 316.70v-3.0M814.31 32.40v3.0M832.12 316.70v-5.5M832.12 32.40v5.5M849.94 316.70v-3.0M849.94 32.40v3.0M867.75 316.70v-3.0M867.75 32.40v3.0M885.57 316.70v-3.0M885.57 32.40v3.0M903.38 316.70v-3.0M903.38 32.40v3.0M921.19 316.70v-5.5M921.19 32.40v5.5M939.01 316.70v-3.0M939.01 32.40v3.0M956.82 316.70v-3.0M956.82 32.40v3.0M974.64 316.70v-3.0M974.64 32.40v3.0M992.45 316.70v-3.0M992.45 32.40v3.0M1010.27 316.70v-5.5M1010.27 32.40v5.5M1028.08 316.70v-3.0M1028.08 32.40v3.0M1045.90 316.70v-3.0M1045.90 32.40v3.0M1063.71 316.70v-3.0M1063.71 32.40v3.0M590.20 302.49h3.0M1080.10 302.49h-3.0M590.20 288.27h3.0M1080.10 288.27h-3.0M590.20 274.06h3.0M1080.10 274.06h-3.0M590.20 259.84h3.0M1080.10 259.84h-3.0M590.20 245.62h5.5M1080.10 245.62h-5.5M590.20 231.41h3.0M1080.10 231.41h-3.0M590.20 217.19h3.0M1080.10 217.19h-3.0M590.20 202.98h3.0M1080.10 202.98h-3.0M590.20 188.76h3.0M1080.10 188.76h-3.0M590.20 174.55h5.5M1080.10 174.55h-5.5M590.20 160.34h3.0M1080.10 160.34h-3.0M590.20 146.12h3.0M1080.10 146.12h-3.0M590.20 131.90h3.0M1080.10 131.90h-3.0M590.20 117.69h3.0M1080.10 117.69h-3.0M590.20 103.47h5.5M1080.10 103.47h-5.5M590.20 89.26h3.0M1080.10 89.26h-3.0M590.20 75.04h3.0M1080.10 75.04h-3.0M590.20 60.83h3.0M1080.10 60.83h-3.0M590.20 46.61h3.0M1080.10 46.61h-3.0" stroke="#000" stroke-width="1.1" fill="none"/>
<rect x="590.20" y="32.40" width="489.90" height="284.30" fill="none" stroke="#000" stroke-width="1.3"/>
<text x="653.98" y="327.00" font-size="11.37" text-anchor="middle" textLength="28.38" lengthAdjust="spacingAndGlyphs" >2000</text>
<text x="743.05" y="327.00" font-size="11.37" text-anchor="middle" textLength="28.38" lengthAdjust="spacingAndGlyphs" >2005</text>
<text x="832.12" y="327.00" font-size="11.37" text-anchor="middle" textLength="28.38" lengthAdjust="spacingAndGlyphs" >2010</text>
<text x="921.19" y="327.00" font-size="11.37" text-anchor="middle" textLength="28.38" lengthAdjust="spacingAndGlyphs" >2015</text>
<text x="1010.27" y="327.00" font-size="11.37" text-anchor="middle" textLength="28.38" lengthAdjust="spacingAndGlyphs" >2020</text>
<text x="587.80" y="320.75" font-size="11.37" text-anchor="end" textLength="16.44" lengthAdjust="spacingAndGlyphs" >−6</text>
<text x="587.80" y="249.68" font-size="11.37" text-anchor="end" textLength="16.44" lengthAdjust="spacingAndGlyphs" >−3</text>
<text x="587.80" y="178.60" font-size="11.37" text-anchor="end" textLength="7.09" lengthAdjust="spacingAndGlyphs" >0</text>
<text x="587.80" y="107.52" font-size="11.37" text-anchor="end" textLength="7.09" lengthAdjust="spacingAndGlyphs" >3</text>
<text x="587.80" y="36.45" font-size="11.37" text-anchor="end" textLength="7.09" lengthAdjust="spacingAndGlyphs" >6</text>
<path d="M655.02 341.60V625.70M743.87 341.60V625.70M832.73 341.60V625.70M921.58 341.60V625.70M1010.44 341.60V625.70M591.40 554.68H1080.10M591.40 483.65H1080.10M591.40 412.62H1080.10" stroke="#b4b4b4" stroke-width="0.85" stroke-dasharray="2.6,1.7" fill="none"/>
<clipPath id="cd"><rect x="591.4" y="341.6" width="488.69999999999993" height="284.1"/></clipPath>
<g clip-path="url(#cd)" fill="none" stroke-linejoin="round">
<path d="M591.4 499.8C594.4 509.8 597.4 519.0 600.4 526.8C604.3 536.7 608.1 552.6 612.0 552.6C616.3 552.6 620.5 539.3 624.8 532.2C628.9 525.3 632.9 518.7 637.0 510.6C639.3 506.1 641.6 501.3 643.8 495.4C645.7 490.6 647.6 484.3 649.5 478.6C652.0 470.9 654.5 455.0 657.1 455.0C658.7 455.0 660.2 464.3 661.8 467.1C663.4 469.9 665.1 472.0 666.7 473.6C669.1 475.9 671.5 478.8 673.9 478.8C676.3 478.8 678.8 477.3 681.3 474.9C683.7 472.6 686.1 442.6 688.6 431.6C691.1 419.9 693.7 403.4 696.3 403.4C699.2 403.4 702.2 424.3 705.2 439.3C707.3 449.9 709.4 473.9 711.5 480.3C714.6 489.9 717.7 498.2 720.8 498.2C724.5 498.2 728.3 489.0 732.1 485.7C736.7 481.6 741.4 475.7 746.0 475.7C751.1 475.7 756.2 477.7 761.2 477.7C766.6 477.7 771.9 474.2 777.3 474.2C785.3 474.2 793.2 477.7 801.2 479.7C806.2 481.0 811.1 482.1 816.0 484.0C821.0 485.9 825.9 488.6 830.9 492.5C835.1 495.9 839.4 508.2 843.7 508.2C846.5 508.2 849.3 493.7 852.1 483.1C854.1 475.3 856.2 459.7 858.3 452.4C860.8 443.5 863.3 432.0 865.9 432.0C867.7 432.0 869.5 445.6 871.3 454.3C873.0 462.2 874.6 475.1 876.3 482.6C880.8 503.1 885.2 531.0 889.7 531.0C893.3 531.0 896.9 502.1 900.5 482.8C902.2 473.7 903.8 457.5 905.5 450.3C907.2 443.1 908.8 434.2 910.5 434.2C912.9 434.2 915.2 444.9 917.6 452.6C919.3 458.3 921.0 468.3 922.8 474.7C923.8 478.6 924.9 483.2 925.9 485.2C928.0 489.0 930.0 491.6 932.1 492.7C935.2 494.3 938.3 494.6 941.4 495.6C944.5 496.6 947.5 498.6 950.6 498.6C953.5 498.6 956.5 492.2 959.4 489.3C962.2 486.6 965.0 481.6 967.7 481.6C972.9 481.6 978.1 489.0 983.3 489.0C987.2 489.0 991.2 481.2 995.1 481.2C999.0 481.2 1002.9 485.3 1006.7 486.7C1010.9 488.3 1015.0 489.1 1019.2 490.4C1023.3 491.7 1027.4 494.5 1031.6 494.5C1035.2 494.5 1038.8 487.5 1042.4 480.3C1044.4 476.2 1046.5 463.4 1048.5 459.0C1052.7 449.9 1056.9 440.6 1061.1 440.6C1064.6 440.6 1068.2 447.8 1071.8 455.2C1073.7 459.1 1075.6 470.8 1077.5 475.4C1078.3 477.5 1079.2 479.3 1080.1 480.5" stroke="#141414" stroke-width="0.7"/>
<path d="M591.4 517.0C594.4 527.5 597.4 537.2 600.4 545.4C604.4 556.1 608.4 573.4 612.3 573.4C616.7 573.4 621.0 559.2 625.4 550.9C629.5 543.1 633.6 535.6 637.7 524.6C640.0 518.5 642.2 508.5 644.5 501.4C646.4 495.6 648.3 489.4 650.1 485.1C652.7 479.1 655.3 470.3 657.8 470.3C659.5 470.3 661.1 473.2 662.7 475.5C664.4 477.9 666.1 482.8 667.8 486.5C670.3 491.7 672.7 502.2 675.2 502.2C677.0 502.2 678.9 492.3 680.7 484.6C683.1 474.8 685.5 447.6 687.8 440.0C690.9 430.1 694.1 420.6 697.2 420.6C700.0 420.6 702.9 432.5 705.8 443.8C707.8 451.6 709.8 476.9 711.9 483.5C714.9 493.4 717.9 502.3 720.9 502.3C724.6 502.3 728.3 493.1 731.9 490.1C736.5 486.5 741.0 481.8 745.5 481.8C750.5 481.8 755.4 485.0 760.3 485.0C765.6 485.0 770.8 480.4 776.1 480.4C784.0 480.4 791.9 483.1 799.8 485.0C804.7 486.1 809.6 487.4 814.5 489.3C819.4 491.1 824.4 493.8 829.3 497.2C833.6 500.2 838.0 509.3 842.3 509.3C845.2 509.3 848.1 494.0 851.0 483.3C853.2 475.2 855.4 459.7 857.6 452.5C860.3 443.8 863.0 432.8 865.7 432.8C867.6 432.8 869.6 446.2 871.5 455.1C873.3 462.9 875.0 475.8 876.7 483.6C881.2 503.9 885.7 532.7 890.2 532.7C893.7 532.7 897.3 503.2 900.8 483.4C902.5 474.2 904.1 456.2 905.8 450.7C907.4 445.2 909.1 439.7 910.7 439.7C913.1 439.7 915.5 448.5 917.8 455.3C919.6 460.4 921.4 471.0 923.1 476.7C924.1 480.0 925.2 483.6 926.2 485.3C928.3 488.8 930.3 491.2 932.4 492.3C935.4 493.9 938.5 494.1 941.5 495.3C944.6 496.4 947.6 499.5 950.6 499.5C953.6 499.5 956.5 493.6 959.4 491.1C962.2 488.7 965.0 484.3 967.7 484.3C972.9 484.3 978.1 491.5 983.3 491.5C987.3 491.5 991.2 484.5 995.1 484.5C999.0 484.5 1002.9 489.7 1006.8 491.4C1010.9 493.3 1015.1 494.7 1019.3 495.9C1023.4 497.1 1027.6 498.9 1031.8 498.9C1035.4 498.9 1039.1 491.4 1042.8 484.0C1044.9 479.8 1047.0 466.5 1049.1 462.7C1053.3 455.0 1057.5 447.9 1061.8 447.9C1065.3 447.9 1068.9 455.6 1072.5 464.2C1074.4 468.8 1076.4 481.8 1078.3 490.3C1078.9 493.1 1079.5 495.8 1080.1 498.4" stroke="#141414" stroke-width="0.7"/>
<path d="M591.4 540.9C594.3 548.9 597.2 557.0 600.1 564.9C604.2 576.0 608.2 597.9 612.2 597.9C616.6 597.9 621.0 574.2 625.4 562.5C629.6 551.4 633.8 542.7 638.0 529.5C640.3 522.1 642.6 511.0 644.9 503.1C646.8 496.8 648.7 490.3 650.6 485.8C653.1 479.8 655.6 471.3 658.1 471.3C659.7 471.3 661.2 474.0 662.8 476.4C664.3 478.8 665.9 484.2 667.5 488.5C669.8 494.8 672.2 508.9 674.5 508.9C676.9 508.9 679.2 498.6 681.6 489.7C683.9 480.9 686.3 453.7 688.6 446.7C691.2 439.1 693.7 431.9 696.2 431.9C699.2 431.9 702.1 440.9 705.0 450.2C707.0 456.7 709.1 480.5 711.2 487.0C714.3 496.7 717.3 506.0 720.4 506.0C724.1 506.0 727.9 495.9 731.6 492.9C736.1 489.2 740.7 484.7 745.2 484.7C750.2 484.7 755.1 488.4 760.1 488.4C765.3 488.4 770.6 482.7 775.9 482.7C783.8 482.7 791.8 484.9 799.7 487.1C804.7 488.5 809.7 491.4 814.7 494.2C819.7 497.1 824.7 501.5 829.7 505.2C834.1 508.4 838.5 515.0 842.8 515.0C845.7 515.0 848.6 496.4 851.5 484.6C853.6 475.8 855.7 459.9 857.8 453.7C860.4 446.0 863.0 437.5 865.6 437.5C867.4 437.5 869.3 448.0 871.2 455.8C872.9 462.8 874.6 476.6 876.3 484.7C880.8 506.2 885.3 537.4 889.9 537.4C893.5 537.4 897.1 505.4 900.7 484.8C902.4 475.3 904.0 457.0 905.7 451.7C907.3 446.6 908.9 441.7 910.5 441.7C912.8 441.7 915.1 450.0 917.3 456.8C919.0 461.8 920.6 473.0 922.3 478.8C923.3 482.3 924.3 485.9 925.3 487.7C927.4 491.7 929.5 494.9 931.6 495.8C934.8 497.1 937.9 497.1 941.1 498.0C944.3 498.9 947.5 501.3 950.6 501.3C953.7 501.3 956.7 494.4 959.8 491.7C962.6 489.2 965.5 485.1 968.3 485.1C973.5 485.1 978.8 492.7 984.0 492.7C988.0 492.7 991.9 486.6 995.8 486.6C999.7 486.6 1003.6 492.8 1007.5 494.9C1011.6 497.1 1015.8 498.9 1019.9 500.3C1024.1 501.7 1028.2 503.7 1032.4 503.7C1036.0 503.7 1039.6 495.1 1043.2 487.2C1045.2 482.7 1047.3 469.5 1049.3 465.6C1053.5 457.7 1057.7 450.5 1061.9 450.5C1065.4 450.5 1069.0 458.3 1072.5 466.6C1074.4 471.1 1076.3 483.8 1078.2 491.1C1078.8 493.6 1079.5 495.8 1080.1 498.0" stroke="#141414" stroke-width="0.7"/>
<path d="M591.4 515.3C594.4 526.2 597.3 536.5 600.3 545.8C604.3 558.4 608.3 580.1 612.3 580.1C616.7 580.1 621.1 566.1 625.5 557.6C629.7 549.4 633.9 541.0 638.1 529.2C640.4 522.6 642.8 511.7 645.1 504.2C647.0 498.1 648.9 491.7 650.8 487.5C653.4 481.8 656.0 473.9 658.5 473.9C660.1 473.9 661.7 475.5 663.3 477.1C664.9 478.8 666.6 484.0 668.2 487.7C670.6 493.2 673.0 505.1 675.4 505.1C677.9 505.1 680.4 495.6 682.9 486.9C685.2 478.7 687.5 451.4 689.9 443.7C692.2 435.9 694.6 427.7 696.9 427.7C699.7 427.7 702.6 438.1 705.4 448.5C707.3 455.6 709.3 480.5 711.2 487.0C714.2 496.8 717.1 505.8 720.1 505.8C723.7 505.8 727.4 495.5 731.0 492.3C735.6 488.4 740.1 483.4 744.7 483.4C749.6 483.4 754.6 486.1 759.6 486.1C764.9 486.1 770.3 479.9 775.6 479.9C783.6 479.9 791.6 482.0 799.6 483.9C804.6 485.0 809.7 486.9 814.7 489.2C819.7 491.5 824.7 495.3 829.8 499.2C834.2 502.5 838.6 511.1 843.0 511.1C845.9 511.1 848.8 495.7 851.8 484.7C854.0 476.6 856.2 460.2 858.4 453.3C861.0 444.9 863.7 434.9 866.3 434.9C868.3 434.9 870.2 445.8 872.1 453.8C873.9 460.9 875.6 474.5 877.3 482.6C881.7 503.8 886.2 535.3 890.7 535.3C894.2 535.3 897.7 504.0 901.3 483.6C902.9 474.3 904.5 456.0 906.1 451.0C907.7 446.2 909.4 441.6 911.0 441.6C913.3 441.6 915.6 450.4 918.0 457.4C919.7 462.6 921.5 473.9 923.2 479.8C924.3 483.4 925.3 486.8 926.4 488.9C928.5 493.1 930.6 496.7 932.7 498.0C935.8 499.9 938.9 500.0 942.1 501.4C945.1 502.8 948.2 507.0 951.3 507.0C954.2 507.0 957.1 499.9 960.1 497.4C962.8 495.1 965.5 491.6 968.3 491.6C973.5 491.6 978.6 498.8 983.8 498.8C987.7 498.8 991.6 491.7 995.6 491.7C999.4 491.7 1003.3 497.3 1007.2 498.7C1011.3 500.3 1015.4 501.3 1019.5 502.1C1023.6 503.0 1027.8 504.1 1031.9 504.1C1035.4 504.1 1039.0 495.0 1042.6 486.7C1044.6 482.0 1046.6 468.8 1048.6 465.0C1052.8 457.1 1056.9 450.1 1061.1 450.1C1064.7 450.1 1068.2 458.1 1071.7 466.4C1073.6 470.9 1075.5 485.2 1077.4 490.1C1078.3 492.5 1079.2 494.4 1080.1 495.6" stroke="#141414" stroke-width="0.7"/>
<path d="M591.4 487.2C594.4 498.5 597.5 509.0 600.5 517.3C604.5 528.2 608.5 544.8 612.4 544.8C616.8 544.8 621.1 533.1 625.5 526.8C629.6 520.9 633.8 515.1 637.9 508.0C640.2 504.2 642.5 500.5 644.7 495.2C646.6 490.9 648.4 484.2 650.2 478.4C652.7 470.6 655.1 454.1 657.6 454.1C659.1 454.1 660.6 463.0 662.0 466.2C663.6 469.5 665.2 472.1 666.7 474.4C669.1 477.8 671.4 483.0 673.8 483.0C676.1 483.0 678.3 481.0 680.6 478.1C683.0 475.0 685.4 444.9 687.9 434.1C690.7 421.7 693.5 404.9 696.3 404.9C699.3 404.9 702.2 424.4 705.2 439.1C707.3 449.3 709.3 473.6 711.4 480.0C714.4 489.4 717.4 497.7 720.4 497.7C724.1 497.7 727.7 488.5 731.4 485.0C735.9 480.7 740.4 474.0 744.9 474.0C749.8 474.0 754.8 474.7 759.8 474.7C765.2 474.7 770.6 470.8 775.9 470.8C784.0 470.8 792.1 474.5 800.2 476.6C805.3 477.9 810.5 478.9 815.6 480.8C820.7 482.6 825.8 484.9 831.0 489.0C835.4 492.5 839.8 508.6 844.3 508.6C847.2 508.6 850.1 495.0 853.1 484.7C855.2 477.2 857.4 461.6 859.5 454.1C862.1 445.2 864.7 433.1 867.3 433.1C869.1 433.1 871.0 447.2 872.8 456.2C874.4 464.1 876.0 477.2 877.6 484.7C882.0 505.3 886.4 532.9 890.8 532.9C894.3 532.9 897.7 504.4 901.2 484.4C902.7 475.5 904.3 458.9 905.8 451.7C907.4 444.5 908.9 435.5 910.5 435.5C912.8 435.5 915.0 445.7 917.3 452.8C919.0 458.1 920.7 467.5 922.5 473.1C923.5 476.6 924.5 480.7 925.6 482.2C927.7 485.3 929.8 486.8 931.9 488.0C935.0 489.7 938.2 490.3 941.3 491.4C944.4 492.6 947.5 494.8 950.5 494.8C953.5 494.8 956.4 488.6 959.4 485.6C962.1 482.8 964.8 477.4 967.5 477.4C972.7 477.4 977.8 485.4 983.0 485.4C986.9 485.4 990.7 478.5 994.6 478.5C998.5 478.5 1002.3 483.4 1006.2 485.1C1010.3 486.8 1014.4 487.7 1018.5 489.2C1022.7 490.6 1026.8 493.6 1030.9 493.6C1034.5 493.6 1038.1 486.6 1041.7 479.5C1043.8 475.5 1045.8 462.9 1047.9 458.7C1052.1 450.1 1056.3 441.6 1060.5 441.6C1064.0 441.6 1067.6 449.8 1071.2 458.1C1073.0 462.5 1074.9 477.0 1076.8 480.7C1077.9 482.9 1079.0 484.8 1080.1 485.3" stroke="#141414" stroke-width="0.7"/>
<path d="M591.4 520.8C594.2 530.2 597.1 539.1 599.9 546.9C603.8 557.8 607.7 576.1 611.7 576.1C616.0 576.1 620.3 561.9 624.7 553.6C628.8 545.6 633.0 537.8 637.2 526.6C639.5 520.2 641.9 509.7 644.2 502.5C646.1 496.5 648.1 490.1 650.0 486.0C652.6 480.4 655.2 472.8 657.8 472.8C659.5 472.8 661.1 475.3 662.8 477.6C664.5 479.9 666.2 485.2 667.9 489.0C670.3 494.7 672.8 506.3 675.2 506.3C678.2 506.3 681.2 496.1 684.3 485.9C686.6 477.8 689.0 450.7 691.4 440.8C693.4 432.7 695.4 422.4 697.3 422.4C700.2 422.4 703.0 434.0 705.9 445.2C707.8 452.9 709.8 478.4 711.7 485.1C714.7 495.3 717.7 504.7 720.6 504.7C724.2 504.7 727.9 494.5 731.5 491.4C736.1 487.6 740.6 482.7 745.1 482.7C750.1 482.7 755.1 486.6 760.1 486.6C765.5 486.6 770.9 481.6 776.2 481.6C784.2 481.6 792.3 484.3 800.3 486.8C805.4 488.4 810.4 491.4 815.5 494.3C820.5 497.2 825.6 501.2 830.6 504.8C835.0 507.9 839.4 514.2 843.8 514.2C846.7 514.2 849.6 496.4 852.4 484.7C854.6 476.2 856.7 460.6 858.8 453.9C861.3 445.7 863.8 436.0 866.3 436.0C868.2 436.0 870.0 447.1 871.8 455.2C873.4 462.3 875.0 475.9 876.6 483.5C881.0 504.6 885.5 533.6 889.9 533.6C893.4 533.6 897.0 503.9 900.5 484.1C902.1 474.9 903.8 457.5 905.4 451.4C907.1 445.3 908.7 438.6 910.3 438.6C912.7 438.6 915.1 447.7 917.4 454.9C919.2 460.2 921.0 470.9 922.7 477.4C923.8 481.3 924.9 485.7 926.0 488.0C928.1 492.5 930.2 496.3 932.3 497.4C935.4 499.0 938.5 499.2 941.6 500.1C944.6 501.0 947.6 502.9 950.7 502.9C953.6 502.9 956.5 495.4 959.4 492.3C962.2 489.5 964.9 484.8 967.6 484.8C972.8 484.8 978.0 491.9 983.2 491.9C987.2 491.9 991.1 484.9 995.1 484.9C999.0 484.9 1002.9 490.0 1006.8 491.6C1011.0 493.2 1015.1 494.3 1019.3 495.2C1023.4 496.1 1027.6 497.2 1031.7 497.2C1035.3 497.2 1038.9 489.7 1042.5 482.3C1044.5 478.1 1046.6 464.9 1048.6 461.1C1052.8 453.1 1056.9 445.9 1061.1 445.9C1064.7 445.9 1068.3 452.5 1071.8 459.7C1073.7 463.5 1075.6 477.3 1077.6 480.4C1078.4 481.8 1079.3 483.0 1080.1 483.4" stroke="#141414" stroke-width="0.7"/>
<path d="M591.4 516.5C594.3 527.3 597.1 537.2 600.0 545.1C603.9 556.0 607.8 572.4 611.8 572.4C616.2 572.4 620.5 556.7 624.9 547.8C629.1 539.3 633.2 531.0 637.4 519.9C639.8 513.6 642.2 504.7 644.5 497.6C646.5 491.8 648.4 485.9 650.3 480.8C652.9 474.1 655.5 462.6 658.1 462.6C659.6 462.6 661.2 467.9 662.8 470.6C664.4 473.4 666.0 476.7 667.6 479.1C670.0 482.8 672.4 488.5 674.8 488.5C676.8 488.5 678.8 484.9 680.8 480.7C683.2 475.6 685.7 445.6 688.1 439.3C691.1 431.5 694.1 424.5 697.1 424.5C700.1 424.5 703.0 436.5 706.0 447.6C708.1 455.4 710.1 479.5 712.2 486.0C715.2 495.6 718.3 504.4 721.3 504.4C725.0 504.4 728.7 493.6 732.3 490.1C736.9 485.9 741.4 480.3 745.9 480.3C750.9 480.3 755.8 481.6 760.7 481.6C766.0 481.6 771.2 476.8 776.5 476.8C784.4 476.8 792.3 479.6 800.2 481.8C805.1 483.1 810.0 484.7 814.9 487.0C819.8 489.3 824.8 493.1 829.7 497.0C833.9 500.5 838.2 509.8 842.5 509.8C845.3 509.8 848.1 494.6 850.9 483.8C853.0 475.7 855.1 459.8 857.2 452.7C859.8 443.9 862.4 432.8 865.0 432.8C866.9 432.8 868.8 445.3 870.8 453.6C872.5 461.2 874.3 474.0 876.1 481.8C880.6 501.9 885.2 530.8 889.8 530.8C893.5 530.8 897.1 501.6 900.7 481.9C902.4 472.9 904.1 456.4 905.8 449.5C907.4 442.8 909.0 434.8 910.6 434.8C912.9 434.8 915.2 444.7 917.4 452.2C919.1 457.6 920.7 467.7 922.3 474.1C923.3 477.9 924.3 482.4 925.2 484.4C927.3 488.7 929.3 491.5 931.4 492.8C934.5 494.8 937.6 495.3 940.7 496.5C943.8 497.8 946.9 500.3 950.0 500.3C953.0 500.3 956.1 493.8 959.1 490.9C961.9 488.1 964.8 483.0 967.6 483.0C972.9 483.0 978.2 490.0 983.4 490.0C987.4 490.0 991.4 482.7 995.4 482.7C999.3 482.7 1003.2 487.6 1007.1 489.3C1011.2 491.1 1015.4 492.4 1019.6 493.6C1023.7 494.7 1027.8 496.5 1032.0 496.5C1035.6 496.5 1039.2 488.9 1042.8 481.3C1044.8 477.0 1046.8 463.6 1048.9 459.1C1053.0 450.0 1057.2 440.8 1061.4 440.8C1065.0 440.8 1068.5 447.4 1072.1 454.5C1074.0 458.3 1075.9 469.0 1077.9 475.1C1078.6 477.5 1079.4 479.6 1080.1 481.7" stroke="#141414" stroke-width="0.7"/>
<path d="M591.4 495.7C594.5 506.9 597.5 517.2 600.6 525.7C604.6 536.9 608.7 554.6 612.7 554.6C617.1 554.6 621.6 544.3 626.0 538.2C630.3 532.4 634.5 527.0 638.8 518.3C641.1 513.5 643.5 505.7 645.8 499.0C647.7 493.7 649.6 487.6 651.4 482.5C653.9 475.7 656.3 463.6 658.8 463.6C660.3 463.6 661.8 467.8 663.3 470.5C664.8 473.2 666.3 477.3 667.8 480.4C670.1 485.2 672.4 494.0 674.7 494.0C677.7 494.0 680.6 489.6 683.5 483.6C685.8 479.0 688.2 451.2 690.5 440.8C692.4 432.3 694.3 420.4 696.2 420.4C699.1 420.4 702.0 433.0 704.9 444.4C706.9 452.4 708.9 477.0 711.0 482.9C714.1 491.8 717.1 499.5 720.2 499.5C723.9 499.5 727.6 489.5 731.4 485.9C736.0 481.5 740.6 475.1 745.2 475.1C750.2 475.1 755.2 476.8 760.2 476.8C765.6 476.8 771.0 473.4 776.3 473.4C784.3 473.4 792.4 476.9 800.4 478.9C805.4 480.2 810.4 481.4 815.5 483.3C820.5 485.3 825.5 488.1 830.5 492.1C834.9 495.5 839.2 507.4 843.6 507.4C846.5 507.4 849.3 492.8 852.2 482.2C854.4 474.4 856.5 458.6 858.6 451.6C861.2 443.1 863.8 432.5 866.4 432.5C868.3 432.5 870.1 445.7 872.0 454.6C873.6 462.4 875.3 475.8 876.9 483.5C881.3 504.4 885.8 532.7 890.2 532.7C893.8 532.7 897.3 503.5 900.8 483.7C902.4 474.6 904.1 457.9 905.7 450.8C907.3 443.7 908.9 435.1 910.6 435.1C912.9 435.1 915.3 445.0 917.6 452.2C919.4 457.5 921.1 467.1 922.8 473.1C923.9 476.7 925.0 480.9 926.0 482.6C928.1 486.2 930.3 488.0 932.4 489.4C935.5 491.4 938.7 492.1 941.8 493.5C944.9 495.0 948.0 498.0 951.1 498.0C954.0 498.0 957.0 492.6 959.9 490.2C962.7 488.0 965.4 484.1 968.1 484.1C973.3 484.1 978.4 491.5 983.6 491.5C987.5 491.5 991.4 483.6 995.3 483.6C999.1 483.6 1003.0 487.7 1006.9 489.1C1011.0 490.6 1015.2 491.4 1019.4 492.7C1023.6 493.9 1027.7 496.5 1031.9 496.5C1035.6 496.5 1039.3 489.4 1043.0 482.2C1045.1 478.0 1047.2 464.9 1049.3 460.7C1053.6 452.3 1057.8 444.0 1062.1 444.0C1065.6 444.0 1069.2 450.1 1072.8 456.8C1074.6 460.2 1076.5 471.5 1078.3 476.0C1078.9 477.4 1079.5 478.5 1080.1 479.4" stroke="#141414" stroke-width="0.7"/>
<path d="M591.4 542.5C594.4 549.4 597.5 556.0 600.5 561.8C604.5 569.5 608.6 582.6 612.6 582.6C617.0 582.6 621.4 559.7 625.8 549.3C630.0 539.3 634.2 531.9 638.4 521.0C640.8 514.9 643.1 506.7 645.5 500.0C647.4 494.6 649.3 489.0 651.2 484.6C653.7 478.8 656.3 469.6 658.8 469.6C660.3 469.6 661.8 473.0 663.4 475.6C664.9 478.3 666.5 483.1 668.0 486.9C670.4 492.5 672.7 503.8 675.0 503.8C677.5 503.8 680.1 494.8 682.7 486.1C685.0 478.3 687.3 450.7 689.6 442.7C691.8 434.9 694.1 426.5 696.3 426.5C699.2 426.5 702.1 437.4 705.0 447.9C707.0 455.4 709.1 479.8 711.1 486.4C714.2 496.1 717.2 505.1 720.3 505.1C724.0 505.1 727.7 494.6 731.5 491.5C736.0 487.7 740.6 483.0 745.2 483.0C750.2 483.0 755.2 487.5 760.2 487.5C765.6 487.5 770.9 482.7 776.2 482.7C784.2 482.7 792.2 485.4 800.2 487.7C805.1 489.2 810.1 492.0 815.1 494.6C820.1 497.2 825.0 500.2 830.0 503.4C834.3 506.1 838.6 512.1 842.9 512.1C845.8 512.1 848.6 495.0 851.4 483.6C853.5 475.2 855.6 459.4 857.7 452.7C860.2 444.5 862.8 434.8 865.3 434.8C867.2 434.8 869.1 446.7 870.9 454.9C872.6 462.4 874.3 475.8 876.0 483.8C880.5 505.2 885.0 535.8 889.5 535.8C893.1 535.8 896.7 504.7 900.3 484.6C902.0 475.2 903.7 457.1 905.4 451.9C907.0 446.8 908.7 441.9 910.3 441.9C912.7 441.9 915.0 450.3 917.3 457.1C919.1 462.2 920.8 473.4 922.5 479.5C923.5 483.2 924.5 486.8 925.6 489.1C927.6 493.6 929.7 497.7 931.8 499.0C934.9 500.9 938.0 501.1 941.1 502.4C944.2 503.8 947.3 507.5 950.4 507.5C953.4 507.5 956.4 499.9 959.4 496.9C962.2 494.0 965.0 489.2 967.9 489.2C973.1 489.2 978.4 495.1 983.6 495.1C987.6 495.1 991.5 487.4 995.5 487.4C999.4 487.4 1003.3 492.9 1007.3 494.8C1011.4 496.7 1015.6 498.5 1019.7 499.4C1023.9 500.3 1028.0 501.2 1032.1 501.2C1035.7 501.2 1039.4 492.4 1043.0 484.1C1045.0 479.4 1047.0 465.4 1049.1 461.4C1053.3 453.1 1057.5 445.7 1061.7 445.7C1065.2 445.7 1068.8 451.6 1072.3 458.5C1074.2 462.2 1076.1 474.8 1078.0 480.5C1078.7 482.7 1079.4 484.6 1080.1 486.2" stroke="#141414" stroke-width="0.7"/>
<path d="M591.4 486.0C594.3 497.0 597.2 507.1 600.2 514.9C604.1 525.5 608.0 541.4 612.0 541.4C616.3 541.4 620.6 529.7 625.0 523.8C629.1 518.2 633.2 513.0 637.4 506.7C639.7 503.1 642.0 499.9 644.4 495.0C646.3 491.0 648.1 484.5 650.0 479.1C652.6 471.9 655.1 457.0 657.6 457.0C659.1 457.0 660.7 465.3 662.2 468.3C663.8 471.5 665.4 473.9 667.0 476.2C669.3 479.6 671.7 485.0 674.0 485.0C676.5 485.0 679.1 482.5 681.6 478.9C684.0 475.5 686.4 445.4 688.8 436.2C691.2 426.8 693.7 415.4 696.1 415.4C699.0 415.4 701.9 429.9 704.7 442.5C706.7 451.1 708.7 475.8 710.7 482.1C713.6 491.3 716.5 499.4 719.5 499.4C723.1 499.4 726.7 489.5 730.3 485.9C734.8 481.3 739.2 474.6 743.7 474.6C748.7 474.6 753.7 475.0 758.7 475.0C764.1 475.0 769.5 471.0 774.9 471.0C783.0 471.0 791.2 474.5 799.3 476.6C804.4 477.9 809.5 479.0 814.7 481.0C819.8 483.0 824.9 486.2 830.0 490.5C834.4 494.3 838.8 507.9 843.2 507.9C846.1 507.9 849.0 493.5 851.9 482.9C854.0 475.1 856.1 459.2 858.3 451.8C860.8 442.9 863.4 431.3 866.0 431.3C867.9 431.3 869.7 444.5 871.6 453.3C873.3 461.2 875.0 474.5 876.6 482.3C881.2 503.2 885.7 532.1 890.2 532.1C893.9 532.1 897.5 502.8 901.1 483.3C902.8 474.1 904.6 456.8 906.3 450.6C908.0 444.6 909.6 437.9 911.3 437.9C913.6 437.9 915.9 446.7 918.3 453.7C919.9 458.8 921.6 468.8 923.3 475.2C924.2 478.9 925.2 483.2 926.2 485.3C928.1 489.7 930.1 493.0 932.1 494.3C935.2 496.3 938.2 496.8 941.2 498.0C944.3 499.2 947.3 501.5 950.3 501.5C953.2 501.5 956.1 494.8 959.0 491.8C961.8 488.9 964.5 483.6 967.3 483.6C972.5 483.6 977.7 489.7 982.9 489.7C986.8 489.7 990.8 481.4 994.7 481.4C998.6 481.4 1002.5 485.7 1006.4 487.2C1010.5 488.8 1014.7 489.9 1018.9 491.2C1023.0 492.6 1027.1 495.2 1031.3 495.2C1034.9 495.2 1038.5 488.2 1042.1 481.0C1044.2 477.0 1046.2 464.0 1048.2 459.7C1052.4 451.0 1056.6 442.2 1060.7 442.2C1064.3 442.2 1067.8 449.2 1071.4 456.8C1073.3 460.9 1075.2 473.5 1077.1 479.5C1078.1 482.6 1079.1 485.3 1080.1 487.6" stroke="#141414" stroke-width="0.7"/>
<path d="M591.4 550.4C594.2 558.6 597.0 566.7 599.7 575.0C603.6 586.6 607.6 610.2 611.5 610.2C615.8 610.2 620.2 581.0 624.5 567.7C628.7 554.8 632.9 545.4 637.1 531.3C639.5 523.4 641.9 511.7 644.2 503.6C646.2 497.1 648.1 490.3 650.1 486.1C652.7 480.5 655.2 473.3 657.8 473.3C659.4 473.3 661.0 475.7 662.6 478.0C664.2 480.3 665.8 486.7 667.4 491.8C669.7 499.3 672.1 517.6 674.5 517.6C677.0 517.6 679.5 503.9 682.0 493.2C684.4 483.1 686.7 456.6 689.1 448.8C691.5 440.9 694.0 432.8 696.4 432.8C699.3 432.8 702.2 440.8 705.1 449.6C707.1 455.7 709.2 480.3 711.2 486.9C714.3 496.6 717.3 505.9 720.3 505.9C724.1 505.9 727.8 495.1 731.5 492.0C736.2 488.3 740.8 483.8 745.4 483.8C750.5 483.8 755.5 488.9 760.6 488.9C766.0 488.9 771.4 484.5 776.8 484.5C784.8 484.5 792.8 487.4 800.8 490.2C805.8 491.9 810.7 495.8 815.7 498.9C820.7 502.0 825.6 505.9 830.6 509.1C834.8 511.8 839.1 516.8 843.4 516.8C846.2 516.8 849.0 497.3 851.8 485.2C853.9 476.2 856.0 460.4 858.1 454.1C860.7 446.3 863.2 437.6 865.8 437.6C867.7 437.6 869.5 447.9 871.4 455.7C873.1 462.7 874.7 476.7 876.4 484.8C880.9 506.4 885.3 537.7 889.8 537.7C893.3 537.7 896.9 505.9 900.4 485.3C902.0 475.9 903.7 457.3 905.3 452.4C906.9 447.5 908.5 442.9 910.1 442.9C912.5 442.9 914.8 451.5 917.2 458.4C919.0 463.6 920.8 474.9 922.5 480.8C923.7 484.5 924.8 487.9 925.9 490.2C928.1 494.7 930.3 499.0 932.5 500.3C935.7 502.2 938.8 502.4 942.0 503.8C945.1 505.1 948.3 508.7 951.4 508.7C954.3 508.7 957.3 501.4 960.2 498.7C962.9 496.2 965.7 492.4 968.4 492.4C973.5 492.4 978.7 499.2 983.8 499.2C987.7 499.2 991.6 492.4 995.4 492.4C999.3 492.4 1003.1 498.3 1007.0 500.1C1011.1 502.0 1015.2 503.3 1019.3 504.3C1023.5 505.3 1027.6 506.5 1031.8 506.5C1035.4 506.5 1039.0 497.2 1042.6 488.9C1044.7 484.1 1046.7 470.8 1048.8 466.9C1053.0 458.8 1057.3 451.6 1061.5 451.6C1065.1 451.6 1068.7 460.1 1072.3 469.0C1074.2 473.8 1076.1 487.1 1078.1 495.0C1078.8 497.7 1079.4 500.2 1080.1 502.6" stroke="#141414" stroke-width="0.7"/>
<path d="M591.4 501.3C594.5 512.9 597.6 523.5 600.6 532.2C604.5 543.2 608.5 560.3 612.4 560.3C616.7 560.3 621.0 547.0 625.3 539.4C629.4 532.2 633.6 525.0 637.7 515.6C640.0 510.4 642.4 503.8 644.7 497.2C646.6 491.9 648.5 485.8 650.4 480.2C653.0 472.7 655.5 458.0 658.1 458.0C659.7 458.0 661.3 465.3 662.9 468.2C664.6 471.2 666.2 473.8 667.9 476.1C670.3 479.4 672.7 484.7 675.1 484.7C677.6 484.7 680.1 481.8 682.6 477.8C684.9 474.0 687.3 444.9 689.6 434.2C692.0 423.2 694.4 408.2 696.8 408.2C699.7 408.2 702.5 426.1 705.4 440.0C707.4 449.8 709.4 474.2 711.4 480.6C714.5 490.3 717.5 498.7 720.5 498.7C724.2 498.7 728.0 489.7 731.7 486.4C736.3 482.3 740.9 476.2 745.4 476.2C750.5 476.2 755.5 477.4 760.5 477.4C765.8 477.4 771.2 473.3 776.5 473.3C784.5 473.3 792.5 476.6 800.5 478.4C805.5 479.4 810.5 480.1 815.5 481.7C820.5 483.3 825.5 486.1 830.5 490.1C834.8 493.6 839.1 508.4 843.4 508.4C846.2 508.4 849.0 494.1 851.8 483.6C853.9 475.9 855.9 460.0 858.0 453.1C860.5 444.7 863.1 434.4 865.6 434.4C867.5 434.4 869.4 447.6 871.2 456.2C872.9 464.0 874.7 476.9 876.4 484.6C880.9 505.0 885.5 533.4 890.0 533.4C893.6 533.4 897.2 503.7 900.8 483.7C902.5 474.4 904.2 457.4 905.8 450.5C907.4 443.9 909.0 435.9 910.7 435.9C912.9 435.9 915.2 445.5 917.5 452.7C919.2 457.9 920.8 467.6 922.5 473.5C923.4 477.0 924.4 481.1 925.4 482.8C927.5 486.2 929.5 488.0 931.6 489.2C934.7 491.0 937.8 491.7 940.9 492.9C944.0 494.2 947.1 496.6 950.2 496.6C953.2 496.6 956.1 490.4 959.1 487.5C961.9 484.8 964.6 479.8 967.4 479.8C972.6 479.8 977.8 487.7 983.0 487.7C987.0 487.7 990.9 480.6 994.8 480.6C998.8 480.6 1002.7 485.1 1006.6 486.6C1010.8 488.1 1015.0 488.8 1019.2 490.2C1023.4 491.5 1027.6 494.8 1031.8 494.8C1035.4 494.8 1039.1 488.1 1042.8 481.2C1044.9 477.3 1047.0 464.5 1049.1 460.2C1053.3 451.6 1057.5 442.8 1061.8 442.8C1065.3 442.8 1068.9 449.4 1072.5 456.4C1074.4 460.1 1076.3 471.8 1078.2 476.2C1078.8 477.6 1079.5 478.8 1080.1 479.7" stroke="#141414" stroke-width="0.7"/>
<path d="M591.4 505.2C594.0 517.4 596.5 528.9 599.1 538.0C603.1 552.1 607.1 573.4 611.1 573.4C615.5 573.4 619.9 561.8 624.4 554.0C628.6 546.6 632.9 537.5 637.1 525.9C639.6 519.4 642.0 508.7 644.4 501.3C646.4 495.3 648.3 489.2 650.3 484.8C652.9 479.1 655.4 470.7 658.0 470.7C659.6 470.7 661.2 473.5 662.7 475.9C664.3 478.2 665.9 483.3 667.5 487.2C669.8 493.1 672.1 505.8 674.4 505.8C677.4 505.8 680.4 496.2 683.4 486.3C685.7 478.7 688.1 452.2 690.4 442.6C692.2 435.0 694.1 425.3 695.9 425.3C698.9 425.3 701.8 436.4 704.7 447.0C706.8 454.5 708.9 479.1 711.0 485.6C714.0 495.1 717.1 503.7 720.2 503.7C723.8 503.7 727.5 494.0 731.2 491.0C735.7 487.5 740.2 483.0 744.8 483.0C749.7 483.0 754.6 486.8 759.6 486.8C764.9 486.8 770.2 482.9 775.4 482.9C783.4 482.9 791.4 485.8 799.4 488.1C804.4 489.5 809.5 491.7 814.5 493.9C819.6 496.2 824.6 498.7 829.7 501.6C834.1 504.1 838.5 510.4 842.9 510.4C845.8 510.4 848.7 494.5 851.6 483.5C853.8 475.2 855.9 459.4 858.1 452.3C860.7 443.8 863.4 433.1 866.0 433.1C867.9 433.1 869.8 445.6 871.8 454.1C873.5 461.7 875.2 474.9 876.9 483.0C881.4 504.0 885.9 534.6 890.4 534.6C894.0 534.6 897.5 503.7 901.1 483.3C902.7 474.1 904.3 455.6 905.9 450.7C907.5 445.9 909.0 441.4 910.6 441.4C912.9 441.4 915.1 450.0 917.4 456.9C919.1 461.9 920.7 472.7 922.4 478.4C923.4 481.8 924.4 485.2 925.5 487.1C927.6 491.1 929.7 494.2 931.8 495.3C934.9 497.0 938.1 497.2 941.2 498.3C944.4 499.5 947.5 502.3 950.6 502.3C953.7 502.3 956.7 495.6 959.7 493.3C962.5 491.1 965.4 487.9 968.2 487.9C973.5 487.9 978.8 497.0 984.0 497.0C988.0 497.0 992.0 491.7 996.0 491.7C999.9 491.7 1003.9 497.3 1007.8 498.8C1012.0 500.4 1016.2 501.4 1020.3 502.3C1024.5 503.2 1028.7 504.5 1032.8 504.5C1036.4 504.5 1040.1 495.4 1043.7 487.1C1045.7 482.4 1047.8 469.1 1049.8 465.2C1054.0 457.3 1058.1 450.2 1062.3 450.2C1065.8 450.2 1069.3 458.0 1072.9 466.6C1074.7 471.1 1076.6 483.6 1078.5 491.9C1079.0 494.2 1079.6 496.6 1080.1 498.9" stroke="#141414" stroke-width="0.7"/>
<path d="M591.4 512.2C594.4 521.0 597.4 529.1 600.4 535.7C604.4 544.6 608.3 558.4 612.3 558.4C616.7 558.4 621.1 543.4 625.4 535.9C629.6 528.7 633.8 522.6 638.0 514.4C640.3 509.7 642.7 504.4 645.1 498.5C647.0 493.7 648.9 487.4 650.9 482.4C653.4 475.8 656.0 464.0 658.5 464.0C660.1 464.0 661.6 469.4 663.2 472.7C664.7 476.0 666.3 480.6 667.8 484.6C670.1 490.4 672.3 502.1 674.6 502.1C676.8 502.1 678.9 493.8 681.1 486.1C683.4 478.0 685.6 450.4 687.9 442.1C690.5 432.6 693.1 422.6 695.7 422.6C698.5 422.6 701.4 433.7 704.3 444.3C706.3 451.8 708.4 476.7 710.4 482.8C713.5 492.0 716.6 500.0 719.7 500.0C723.5 500.0 727.3 490.1 731.1 486.6C735.8 482.2 740.4 475.7 745.1 475.7C750.2 475.7 755.3 476.5 760.4 476.5C765.8 476.5 771.2 472.7 776.6 472.7C784.7 472.7 792.7 476.3 800.7 478.9C805.7 480.6 810.7 482.7 815.7 485.6C820.7 488.4 825.6 493.2 830.5 497.8C834.8 501.7 839.1 510.9 843.3 510.9C846.1 510.9 848.9 495.2 851.7 484.3C853.8 476.2 855.8 460.5 857.9 453.9C860.4 445.7 863.0 436.0 865.6 436.0C867.5 436.0 869.4 447.6 871.2 455.6C873.0 462.9 874.7 476.0 876.4 483.8C880.9 504.2 885.4 533.3 890.0 533.3C893.6 533.3 897.1 503.7 900.7 483.7C902.3 474.6 904.0 457.1 905.6 451.2C907.2 445.4 908.7 439.3 910.3 439.3C912.6 439.3 914.9 448.3 917.2 455.3C918.9 460.6 920.6 471.4 922.3 477.3C923.4 480.9 924.4 484.6 925.5 486.5C927.7 490.3 929.8 493.2 932.0 494.1C935.2 495.5 938.3 495.6 941.5 496.5C944.7 497.4 947.8 499.5 950.9 499.5C953.9 499.5 956.9 492.9 959.9 489.7C962.7 486.7 965.4 480.9 968.2 480.9C973.4 480.9 978.6 488.0 983.8 488.0C987.7 488.0 991.6 481.0 995.5 481.0C999.4 481.0 1003.3 486.3 1007.2 488.2C1011.4 490.2 1015.5 491.8 1019.7 493.3C1023.8 494.7 1028.0 497.1 1032.1 497.1C1035.8 497.1 1039.4 489.9 1043.0 482.7C1045.1 478.6 1047.1 465.3 1049.2 461.4C1053.4 453.4 1057.6 446.1 1061.8 446.1C1065.3 446.1 1068.9 452.8 1072.4 460.6C1074.3 464.6 1076.1 477.8 1078.0 484.2C1078.7 486.7 1079.4 488.8 1080.1 490.7" stroke="#141414" stroke-width="0.7"/>
<path d="M591.4 484.1C594.5 494.3 597.6 503.8 600.7 512.0C604.6 522.3 608.5 539.4 612.4 539.4C616.7 539.4 621.0 529.5 625.3 523.7C629.4 518.3 633.6 512.4 637.7 505.6C640.0 501.9 642.3 498.3 644.7 493.1C646.5 489.0 648.4 482.6 650.3 477.1C652.8 469.7 655.3 454.0 657.9 454.0C659.4 454.0 661.0 463.2 662.5 466.4C664.1 469.6 665.7 472.0 667.2 474.1C669.6 477.4 671.9 482.4 674.3 482.4C676.1 482.4 677.9 480.3 679.7 477.6C682.1 474.0 684.4 443.7 686.8 433.9C689.9 421.0 693.1 405.4 696.2 405.4C699.1 405.4 702.1 425.0 705.0 439.6C707.0 449.9 709.1 474.3 711.1 480.8C714.2 490.5 717.2 498.9 720.2 498.9C723.9 498.9 727.6 489.6 731.3 486.0C735.9 481.5 740.5 474.5 745.1 474.5C750.1 474.5 755.1 474.7 760.1 474.7C765.5 474.7 770.8 471.0 776.2 471.0C784.2 471.0 792.2 475.0 800.2 477.0C805.2 478.2 810.2 479.0 815.2 480.7C820.2 482.4 825.2 484.6 830.2 488.6C834.6 492.0 838.9 507.7 843.3 507.7C846.1 507.7 849.0 493.7 851.9 483.4C854.0 475.6 856.2 460.0 858.4 452.5C861.0 443.5 863.6 431.7 866.2 431.7C868.1 431.7 870.0 446.2 872.0 455.3C873.7 463.5 875.4 476.5 877.1 484.3C881.6 504.7 886.2 532.7 890.7 532.7C894.3 532.7 897.9 503.7 901.4 483.9C903.1 474.7 904.7 458.1 906.4 450.8C908.0 443.7 909.6 434.8 911.2 434.8C913.5 434.8 915.8 445.4 918.1 452.9C919.8 458.4 921.5 468.0 923.2 474.2C924.2 477.8 925.2 482.3 926.3 484.0C928.3 487.5 930.4 489.4 932.5 490.5C935.7 492.3 938.8 492.8 941.9 494.0C945.0 495.2 948.2 497.7 951.3 497.7C954.3 497.7 957.2 491.6 960.2 488.7C963.0 486.0 965.8 480.9 968.5 480.9C973.7 480.9 978.9 489.1 984.1 489.1C987.9 489.1 991.8 482.4 995.7 482.4C999.5 482.4 1003.4 487.3 1007.2 488.9C1011.3 490.6 1015.4 491.6 1019.5 492.7C1023.6 493.9 1027.8 496.0 1031.9 496.0C1035.5 496.0 1039.1 488.6 1042.8 481.2C1044.9 477.0 1047.0 463.9 1049.1 459.5C1053.3 450.5 1057.6 441.4 1061.8 441.4C1065.4 441.4 1069.0 448.8 1072.7 456.8C1074.6 461.1 1076.5 471.9 1078.5 480.2C1079.0 482.6 1079.6 485.1 1080.1 487.6" stroke="#141414" stroke-width="0.7"/>
<path d="M591.4 543.4C594.7 549.9 597.9 556.8 601.2 564.1C605.1 572.9 609.1 592.3 613.0 592.3C617.3 592.3 621.7 570.4 626.0 559.7C630.1 549.5 634.2 541.7 638.3 529.5C640.5 522.8 642.8 512.3 645.0 504.9C646.9 499.0 648.7 492.7 650.5 488.5C653.0 482.8 655.5 475.0 658.0 475.0C659.6 475.0 661.1 477.0 662.7 478.9C664.3 480.9 665.9 486.3 667.5 490.5C669.9 496.8 672.3 511.9 674.6 511.9C676.8 511.9 679.0 499.5 681.1 490.3C683.5 480.2 685.9 453.7 688.2 447.3C691.0 439.9 693.7 433.3 696.4 433.3C699.3 433.3 702.1 441.6 705.0 450.5C707.0 456.7 709.0 480.9 711.0 487.3C714.0 496.9 717.0 505.9 720.0 505.9C723.7 505.9 727.4 494.6 731.1 491.3C735.7 487.3 740.4 482.3 745.0 482.3C750.1 482.3 755.2 485.6 760.2 485.6C765.7 485.6 771.1 481.3 776.6 481.3C784.7 481.3 792.8 484.2 800.9 486.5C805.9 487.9 811.0 489.8 816.1 492.2C821.1 494.5 826.1 497.7 831.1 501.1C835.4 504.0 839.7 511.1 844.0 511.1C846.8 511.1 849.6 494.2 852.4 482.7C854.4 474.2 856.5 457.8 858.5 451.3C861.0 443.3 863.5 434.1 866.0 434.1C867.8 434.1 869.6 445.8 871.4 454.1C873.0 461.6 874.7 475.8 876.3 483.7C880.8 505.5 885.2 535.3 889.7 535.3C893.3 535.3 896.9 504.4 900.5 484.3C902.1 474.9 903.8 456.8 905.5 451.4C907.1 446.1 908.8 440.9 910.4 440.9C912.7 440.9 915.1 449.5 917.4 456.4C919.1 461.4 920.8 472.2 922.6 478.1C923.6 481.6 924.6 485.1 925.6 487.2C927.7 491.4 929.8 495.0 931.9 496.2C935.0 498.1 938.1 498.3 941.2 499.5C944.3 500.7 947.3 503.5 950.4 503.5C953.4 503.5 956.3 496.4 959.3 493.4C962.0 490.6 964.8 485.8 967.5 485.8C972.7 485.8 977.9 492.5 983.1 492.5C987.0 492.5 990.9 485.8 994.8 485.8C998.8 485.8 1002.7 491.7 1006.6 493.7C1010.8 495.9 1015.0 497.7 1019.1 498.9C1023.3 500.1 1027.5 501.8 1031.7 501.8C1035.4 501.8 1039.0 493.5 1042.7 485.7C1044.7 481.2 1046.8 467.9 1048.9 464.0C1053.1 456.2 1057.3 449.3 1061.5 449.3C1065.1 449.3 1068.6 457.4 1072.2 466.5C1074.1 471.3 1076.0 485.5 1077.9 493.8C1078.6 497.0 1079.4 500.0 1080.1 502.9" stroke="#141414" stroke-width="0.7"/>
<path d="M591.4 517.5C594.3 527.8 597.1 537.3 600.0 545.0C604.0 555.6 607.9 572.1 611.9 572.1C616.3 572.1 620.6 557.4 625.0 549.0C629.2 541.0 633.3 533.6 637.5 522.7C639.8 516.6 642.2 507.1 644.5 500.0C646.4 494.2 648.3 488.4 650.2 483.6C652.7 477.3 655.3 467.0 657.8 467.0C659.4 467.0 660.9 470.5 662.5 473.0C664.1 475.6 665.7 480.3 667.3 483.6C669.7 488.5 672.0 497.3 674.4 497.3C676.7 497.3 679.1 490.6 681.4 483.6C683.8 476.7 686.1 448.3 688.5 440.0C691.1 430.9 693.7 421.1 696.3 421.1C699.2 421.1 702.1 433.2 705.0 444.5C707.0 452.4 709.1 477.3 711.1 483.6C714.1 493.1 717.2 501.5 720.2 501.5C723.9 501.5 727.6 491.9 731.3 488.7C735.9 484.8 740.4 479.5 745.0 479.5C750.0 479.5 755.0 481.4 760.0 481.4C765.3 481.4 770.7 477.7 776.0 477.7C784.0 477.7 792.0 480.9 800.0 483.2C805.0 484.6 810.0 486.3 815.0 488.7C820.0 491.1 825.0 495.0 830.0 498.8C834.3 502.1 838.7 510.3 843.0 510.3C845.9 510.3 848.7 494.6 851.6 483.6C853.7 475.5 855.9 459.7 858.0 452.8C860.6 444.4 863.2 434.3 865.8 434.3C867.7 434.3 869.6 446.6 871.5 455.0C873.2 462.5 874.9 475.8 876.6 483.6C881.1 504.4 885.6 533.6 890.1 533.6C893.7 533.6 897.2 503.7 900.8 483.6C902.4 474.5 904.1 456.7 905.7 450.9C907.3 445.2 908.9 439.2 910.5 439.2C912.8 439.2 915.1 447.9 917.4 454.8C919.1 459.9 920.8 470.4 922.5 476.3C923.5 479.9 924.6 483.7 925.6 485.6C927.7 489.5 929.8 492.2 931.9 493.4C935.0 495.1 938.2 495.4 941.3 496.6C944.4 497.8 947.5 500.5 950.6 500.5C953.6 500.5 956.5 494.4 959.5 491.7C962.3 489.2 965.0 484.8 967.8 484.8C973.0 484.8 978.2 491.9 983.4 491.9C987.3 491.9 991.3 484.8 995.2 484.8C999.1 484.8 1003.0 490.1 1006.9 491.9C1011.1 493.8 1015.2 495.6 1019.4 496.6C1023.6 497.6 1027.7 498.9 1031.9 498.9C1035.5 498.9 1039.2 491.2 1042.8 483.6C1044.9 479.4 1046.9 465.9 1049.0 462.0C1053.2 454.1 1057.4 447.0 1061.6 447.0C1065.2 447.0 1068.7 453.3 1072.3 460.6C1074.2 464.5 1076.1 477.2 1078.0 483.6C1078.7 486.0 1079.4 488.1 1080.1 490.0" stroke="#d41c24" stroke-width="2.0"/>
</g>
<path d="M601.71 625.70v-3.0M601.71 341.60v3.0M619.48 625.70v-3.0M619.48 341.60v3.0M637.25 625.70v-3.0M637.25 341.60v3.0M655.02 625.70v-5.5M655.02 341.60v5.5M672.79 625.70v-3.0M672.79 341.60v3.0M690.56 625.70v-3.0M690.56 341.60v3.0M708.33 625.70v-3.0M708.33 341.60v3.0M726.10 625.70v-3.0M726.10 341.60v3.0M743.87 625.70v-5.5M743.87 341.60v5.5M761.65 625.70v-3.0M761.65 341.60v3.0M779.42 625.70v-3.0M779.42 341.60v3.0M797.19 625.70v-3.0M797.19 341.60v3.0M814.96 625.70v-3.0M814.96 341.60v3.0M832.73 625.70v-5.5M832.73 341.60v5.5M850.50 625.70v-3.0M850.50 341.60v3.0M868.27 625.70v-3.0M868.27 341.60v3.0M886.04 625.70v-3.0M886.04 341.60v3.0M903.81 625.70v-3.0M903.81 341.60v3.0M921.58 625.70v-5.5M921.58 341.60v5.5M939.35 625.70v-3.0M939.35 341.60v3.0M957.13 625.70v-3.0M957.13 341.60v3.0M974.90 625.70v-3.0M974.90 341.60v3.0M992.67 625.70v-3.0M992.67 341.60v3.0M1010.44 625.70v-5.5M1010.44 341.60v5.5M1028.21 625.70v-3.0M1028.21 341.60v3.0M1045.98 625.70v-3.0M1045.98 341.60v3.0M1063.75 625.70v-3.0M1063.75 341.60v3.0M591.40 611.50h3.0M1080.10 611.50h-3.0M591.40 597.29h3.0M1080.10 597.29h-3.0M591.40 583.09h3.0M1080.10 583.09h-3.0M591.40 568.88h3.0M1080.10 568.88h-3.0M591.40 554.68h5.5M1080.10 554.68h-5.5M591.40 540.47h3.0M1080.10 540.47h-3.0M591.40 526.27h3.0M1080.10 526.27h-3.0M591.40 512.06h3.0M1080.10 512.06h-3.0M591.40 497.86h3.0M1080.10 497.86h-3.0M591.40 483.65h5.5M1080.10 483.65h-5.5M591.40 469.45h3.0M1080.10 469.45h-3.0M591.40 455.24h3.0M1080.10 455.24h-3.0M591.40 441.04h3.0M1080.10 441.04h-3.0M591.40 426.83h3.0M1080.10 426.83h-3.0M591.40 412.62h5.5M1080.10 412.62h-5.5M591.40 398.42h3.0M1080.10 398.42h-3.0M591.40 384.22h3.0M1080.10 384.22h-3.0M591.40 370.01h3.0M1080.10 370.01h-3.0M591.40 355.81h3.0M1080.10 355.81h-3.0" stroke="#000" stroke-width="1.1" fill="none"/>
<rect x="591.40" y="341.60" width="488.70" height="284.10" fill="none" stroke="#000" stroke-width="1.3"/>
<text x="655.02" y="636.00" font-size="11.37" text-anchor="middle" textLength="28.38" lengthAdjust="spacingAndGlyphs" >2000</text>
<text x="743.87" y="636.00" font-size="11.37" text-anchor="middle" textLength="28.38" lengthAdjust="spacingAndGlyphs" >2005</text>
<text x="832.73" y="636.00" font-size="11.37" text-anchor="middle" textLength="28.38" lengthAdjust="spacingAndGlyphs" >2010</text>
<text x="921.58" y="636.00" font-size="11.37" text-anchor="middle" textLength="28.38" lengthAdjust="spacingAndGlyphs" >2015</text>
<text x="1010.44" y="636.00" font-size="11.37" text-anchor="middle" textLength="28.38" lengthAdjust="spacingAndGlyphs" >2020</text>
<text x="589.00" y="629.75" font-size="11.37" text-anchor="end" textLength="23.53" lengthAdjust="spacingAndGlyphs" >−50</text>
<text x="589.00" y="558.73" font-size="11.37" text-anchor="end" textLength="23.53" lengthAdjust="spacingAndGlyphs" >−25</text>
<text x="589.00" y="487.70" font-size="11.37" text-anchor="end" textLength="7.09" lengthAdjust="spacingAndGlyphs" >0</text>
<text x="589.00" y="416.68" font-size="11.37" text-anchor="end" textLength="14.19" lengthAdjust="spacingAndGlyphs" >25</text>
<text x="589.00" y="345.65" font-size="11.37" text-anchor="end" textLength="14.19" lengthAdjust="spacingAndGlyphs" >50</text>
<text x="177.20" y="22.00" font-size="18.97" textLength="44.07" lengthAdjust="spacingAndGlyphs">IMF4</text><text x="227.18" y="22.00" font-size="18.97" textLength="17.93" lengthAdjust="spacingAndGlyphs">of</text><text x="251.02" y="22.00" font-size="18.97" textLength="25.65" lengthAdjust="spacingAndGlyphs">AR</text><text x="282.58" y="22.00" font-size="18.97" textLength="168.01" lengthAdjust="spacingAndGlyphs">Flux,Area,Number</text><text x="456.51" y="22.00" font-size="18.97" textLength="34.99" lengthAdjust="spacingAndGlyphs">and</text><text x="497.41" y="22.00" font-size="18.97" textLength="75.56" lengthAdjust="spacingAndGlyphs">Sunspot</text><text x="578.88" y="22.00" font-size="18.97" textLength="74.72" lengthAdjust="spacingAndGlyphs">Number</text><text x="659.51" y="22.00" font-size="18.97" textLength="39.46" lengthAdjust="spacingAndGlyphs">with</text><text x="704.89" y="22.00" font-size="18.97" textLength="81.51" lengthAdjust="spacingAndGlyphs">Different</text><text x="792.32" y="22.00" font-size="18.97" textLength="106.46" lengthAdjust="spacingAndGlyphs">Parameters</text>
<g transform="rotate(-90 27.30 483.85)"><text x="-41.05" y="483.85" font-size="16.57" textLength="22.41" lengthAdjust="spacingAndGlyphs">AR</text><text x="-13.47" y="483.85" font-size="16.57" textLength="37.40" lengthAdjust="spacingAndGlyphs">Area</text><text x="29.09" y="483.85" font-size="16.57" textLength="66.56" lengthAdjust="spacingAndGlyphs">(mHem)</text></g>
<g transform="rotate(-90 568.00 174.35)"><text x="521.57" y="174.35" font-size="16.57" textLength="22.41" lengthAdjust="spacingAndGlyphs">AR</text><text x="549.15" y="174.35" font-size="16.57" textLength="65.28" lengthAdjust="spacingAndGlyphs">Number</text></g>
<g transform="rotate(-90 563.80 483.95)"><text x="495.57" y="483.95" font-size="16.57" textLength="66.01" lengthAdjust="spacingAndGlyphs">Sunspot</text><text x="566.75" y="483.95" font-size="16.57" textLength="65.28" lengthAdjust="spacingAndGlyphs">Number</text></g>
<g transform="translate(29.4 174.4) rotate(-90)">
<text x="-71.58" y="0" font-size="16.57" textLength="93.54" lengthAdjust="spacingAndGlyphs">AR Flux (10</text>
<text x="21.96" y="-6.8" font-size="11.60" textLength="14.47" lengthAdjust="spacingAndGlyphs">22</text>
<text x="41.60" y="0" font-size="16.57" textLength="29.98" lengthAdjust="spacingAndGlyphs">Mx)</text>
</g>
<text x="232.62" y="655.90" font-size="17.34" textLength="41.60" lengthAdjust="spacingAndGlyphs">Time</text><text x="279.62" y="655.90" font-size="17.34" textLength="49.26" lengthAdjust="spacingAndGlyphs">(Year)</text>
<text x="746.87" y="655.90" font-size="17.34" textLength="41.60" lengthAdjust="spacingAndGlyphs">Time</text><text x="793.87" y="655.90" font-size="17.34" textLength="49.26" lengthAdjust="spacingAndGlyphs">(Year)</text>
<text x="73.50" y="50.35" font-size="16.83" text-anchor="start" textLength="22.99" lengthAdjust="spacingAndGlyphs" >(a)</text>
<text x="71.40" y="359.50" font-size="16.83" text-anchor="start" textLength="23.35" lengthAdjust="spacingAndGlyphs" >(b)</text>
<text x="607.40" y="50.40" font-size="16.83" text-anchor="start" textLength="21.95" lengthAdjust="spacingAndGlyphs" >(c)</text>
<text x="606.60" y="359.50" font-size="16.83" text-anchor="start" textLength="23.35" lengthAdjust="spacingAndGlyphs" >(d)</text>

</svg>
</body></html>
